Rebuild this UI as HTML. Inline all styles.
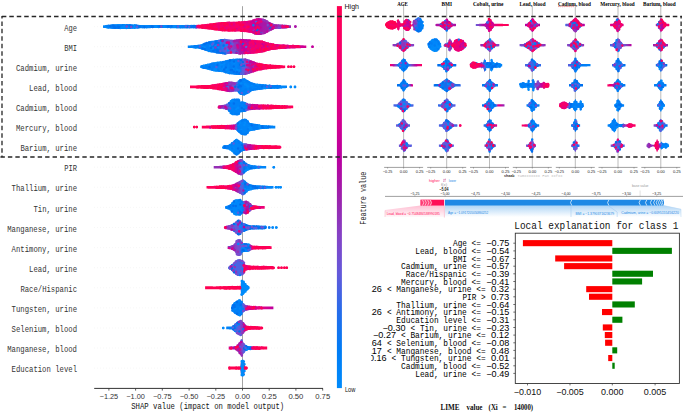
<!DOCTYPE html>
<html><head><meta charset="utf-8"><title>SHAP and LIME explanations</title>
<style>html,body{margin:0;padding:0;background:#fff;width:685px;height:415px;overflow:hidden}svg{display:block;font-family:"Liberation Mono",monospace}</style>
</head><body>
<svg width="685" height="415" viewBox="0 0 685 415"><defs><linearGradient id="g0" gradientUnits="userSpaceOnUse" x1="103" x2="291.4" y1="0" y2="0"><stop offset="0.000" stop-color="#0085f9"/><stop offset="0.489" stop-color="#0085f9"/><stop offset="0.500" stop-color="#b00fa5"/><stop offset="0.511" stop-color="#fb0063"/><stop offset="0.532" stop-color="#fb0063"/><stop offset="0.543" stop-color="#fa0065"/><stop offset="0.596" stop-color="#fa0065"/><stop offset="0.606" stop-color="#f80067"/><stop offset="0.660" stop-color="#f80067"/><stop offset="0.670" stop-color="#f70069"/><stop offset="0.723" stop-color="#f70069"/><stop offset="0.734" stop-color="#f6006c"/><stop offset="0.745" stop-color="#f6006c"/><stop offset="0.755" stop-color="#f10072"/><stop offset="0.766" stop-color="#eb007a"/><stop offset="0.777" stop-color="#e10084"/><stop offset="0.787" stop-color="#d9008c"/><stop offset="0.798" stop-color="#cf0093"/><stop offset="0.809" stop-color="#c5009a"/><stop offset="0.819" stop-color="#b900a0"/><stop offset="0.830" stop-color="#b00fa5"/><stop offset="0.840" stop-color="#ad13a6"/><stop offset="0.851" stop-color="#a71aa9"/><stop offset="0.862" stop-color="#a31daa"/><stop offset="0.872" stop-color="#a01fab"/><stop offset="0.883" stop-color="#9d22ac"/><stop offset="0.894" stop-color="#9a25ae"/><stop offset="0.904" stop-color="#9829b1"/><stop offset="0.957" stop-color="#9829b1"/><stop offset="0.968" stop-color="#9a25ae"/><stop offset="1.000" stop-color="#9a25ae"/></linearGradient><linearGradient id="g1" gradientUnits="userSpaceOnUse" x1="187.8" x2="306.4" y1="0" y2="0"><stop offset="0.000" stop-color="#0084f8"/><stop offset="0.017" stop-color="#0084f8"/><stop offset="0.034" stop-color="#0082f8"/><stop offset="0.051" stop-color="#0082f8"/><stop offset="0.068" stop-color="#0081f7"/><stop offset="0.085" stop-color="#0081f7"/><stop offset="0.102" stop-color="#007ff7"/><stop offset="0.119" stop-color="#007ff7"/><stop offset="0.136" stop-color="#007ef6"/><stop offset="0.169" stop-color="#007ef6"/><stop offset="0.186" stop-color="#007cf5"/><stop offset="0.203" stop-color="#0079f3"/><stop offset="0.220" stop-color="#0076f1"/><stop offset="0.237" stop-color="#0073ef"/><stop offset="0.254" stop-color="#006fed"/><stop offset="0.271" stop-color="#266cea"/><stop offset="0.288" stop-color="#3968e7"/><stop offset="0.305" stop-color="#4664e4"/><stop offset="0.322" stop-color="#575fdf"/><stop offset="0.339" stop-color="#6857d8"/><stop offset="0.356" stop-color="#764ed0"/><stop offset="0.373" stop-color="#8244c7"/><stop offset="0.390" stop-color="#8d39be"/><stop offset="0.407" stop-color="#9430b6"/><stop offset="0.424" stop-color="#9d22ac"/><stop offset="0.441" stop-color="#aa17a7"/><stop offset="0.458" stop-color="#b604a2"/><stop offset="0.475" stop-color="#c2009b"/><stop offset="0.492" stop-color="#cd0095"/><stop offset="0.508" stop-color="#d9008c"/><stop offset="0.525" stop-color="#e10084"/><stop offset="0.542" stop-color="#e9007c"/><stop offset="0.559" stop-color="#eb007a"/><stop offset="0.576" stop-color="#eb007a"/><stop offset="0.593" stop-color="#ec0078"/><stop offset="0.610" stop-color="#ec0078"/><stop offset="0.627" stop-color="#ee0076"/><stop offset="0.644" stop-color="#f00074"/><stop offset="0.661" stop-color="#f00074"/><stop offset="0.678" stop-color="#f10072"/><stop offset="0.695" stop-color="#f10072"/><stop offset="0.712" stop-color="#f00074"/><stop offset="0.729" stop-color="#f00074"/><stop offset="0.746" stop-color="#ee0076"/><stop offset="0.763" stop-color="#ec0078"/><stop offset="0.780" stop-color="#ec0078"/><stop offset="0.797" stop-color="#eb007a"/><stop offset="0.814" stop-color="#e9007c"/><stop offset="0.831" stop-color="#e7007e"/><stop offset="0.847" stop-color="#e30082"/><stop offset="0.864" stop-color="#df0086"/><stop offset="0.881" stop-color="#db008a"/><stop offset="0.898" stop-color="#d6008e"/><stop offset="0.915" stop-color="#d10091"/><stop offset="0.932" stop-color="#cd0095"/><stop offset="0.949" stop-color="#ca0097"/><stop offset="0.966" stop-color="#cd0095"/><stop offset="0.983" stop-color="#d10091"/><stop offset="1.000" stop-color="#d40090"/></linearGradient><linearGradient id="g2" gradientUnits="userSpaceOnUse" x1="200.2" x2="285.6" y1="0" y2="0"><stop offset="0.000" stop-color="#0085f9"/><stop offset="0.095" stop-color="#0085f9"/><stop offset="0.119" stop-color="#0084f8"/><stop offset="0.333" stop-color="#0084f8"/><stop offset="0.357" stop-color="#0082f8"/><stop offset="0.429" stop-color="#0082f8"/><stop offset="0.452" stop-color="#007cf5"/><stop offset="0.476" stop-color="#266cea"/><stop offset="0.500" stop-color="#605bdc"/><stop offset="0.524" stop-color="#764ed0"/><stop offset="0.548" stop-color="#883fc2"/><stop offset="0.571" stop-color="#962db3"/><stop offset="0.595" stop-color="#ad13a6"/><stop offset="0.619" stop-color="#ca0097"/><stop offset="0.643" stop-color="#df0086"/><stop offset="0.667" stop-color="#e9007c"/><stop offset="0.690" stop-color="#f00074"/><stop offset="0.714" stop-color="#f6006c"/><stop offset="0.738" stop-color="#f80067"/><stop offset="0.762" stop-color="#fa0065"/><stop offset="0.786" stop-color="#fb0063"/><stop offset="0.810" stop-color="#fb0063"/><stop offset="0.833" stop-color="#fc0061"/><stop offset="0.857" stop-color="#fc0061"/><stop offset="0.881" stop-color="#fd005f"/><stop offset="0.905" stop-color="#fe005c"/><stop offset="0.929" stop-color="#fe005c"/><stop offset="0.952" stop-color="#ff005a"/><stop offset="0.976" stop-color="#ff005a"/><stop offset="1.000" stop-color="#ff0058"/></linearGradient><linearGradient id="g3" gradientUnits="userSpaceOnUse" x1="190" x2="287.4" y1="0" y2="0"><stop offset="0.000" stop-color="#ff0058"/><stop offset="0.021" stop-color="#ff0058"/><stop offset="0.042" stop-color="#ff005a"/><stop offset="0.062" stop-color="#ff005a"/><stop offset="0.083" stop-color="#fe005c"/><stop offset="0.125" stop-color="#fe005c"/><stop offset="0.146" stop-color="#fd005f"/><stop offset="0.188" stop-color="#fd005f"/><stop offset="0.208" stop-color="#fc0061"/><stop offset="0.229" stop-color="#fc0061"/><stop offset="0.250" stop-color="#fb0063"/><stop offset="0.271" stop-color="#fb0063"/><stop offset="0.292" stop-color="#f70069"/><stop offset="0.312" stop-color="#f10072"/><stop offset="0.333" stop-color="#ec0078"/><stop offset="0.354" stop-color="#e30082"/><stop offset="0.375" stop-color="#bc009f"/><stop offset="0.396" stop-color="#9a25ae"/><stop offset="0.417" stop-color="#9430b6"/><stop offset="0.438" stop-color="#8d39be"/><stop offset="0.458" stop-color="#8542c5"/><stop offset="0.479" stop-color="#4066e6"/><stop offset="0.500" stop-color="#007ef6"/><stop offset="0.521" stop-color="#007ff7"/><stop offset="0.542" stop-color="#0082f8"/><stop offset="0.562" stop-color="#0084f8"/><stop offset="0.750" stop-color="#0084f8"/><stop offset="0.771" stop-color="#0085f9"/><stop offset="1.000" stop-color="#0085f9"/></linearGradient><linearGradient id="g4" gradientUnits="userSpaceOnUse" x1="218.2" x2="293.3" y1="0" y2="0"><stop offset="0.000" stop-color="#8f36bb"/><stop offset="0.027" stop-color="#8a3cc0"/><stop offset="0.054" stop-color="#8542c5"/><stop offset="0.081" stop-color="#7f47c9"/><stop offset="0.108" stop-color="#764ed0"/><stop offset="0.135" stop-color="#186deb"/><stop offset="0.162" stop-color="#0082f8"/><stop offset="0.351" stop-color="#0082f8"/><stop offset="0.378" stop-color="#186deb"/><stop offset="0.405" stop-color="#a01fab"/><stop offset="0.432" stop-color="#ad13a6"/><stop offset="0.459" stop-color="#b900a0"/><stop offset="0.486" stop-color="#c70098"/><stop offset="0.514" stop-color="#d10091"/><stop offset="0.541" stop-color="#db008a"/><stop offset="0.568" stop-color="#e30082"/><stop offset="0.595" stop-color="#eb007a"/><stop offset="0.622" stop-color="#f10072"/><stop offset="0.649" stop-color="#f4006e"/><stop offset="0.676" stop-color="#f70069"/><stop offset="0.703" stop-color="#fa0065"/><stop offset="0.730" stop-color="#fb0063"/><stop offset="0.757" stop-color="#fd005f"/><stop offset="0.784" stop-color="#fe005c"/><stop offset="0.811" stop-color="#fe005c"/><stop offset="0.838" stop-color="#ff005a"/><stop offset="0.919" stop-color="#ff005a"/><stop offset="0.946" stop-color="#ff0058"/><stop offset="1.000" stop-color="#ff0058"/></linearGradient><linearGradient id="g5" gradientUnits="userSpaceOnUse" x1="201.8" x2="275.6" y1="0" y2="0"><stop offset="0.000" stop-color="#ff0058"/><stop offset="0.028" stop-color="#ff0058"/><stop offset="0.056" stop-color="#ff005a"/><stop offset="0.083" stop-color="#ff005a"/><stop offset="0.111" stop-color="#fe005c"/><stop offset="0.139" stop-color="#fe005c"/><stop offset="0.167" stop-color="#fd005f"/><stop offset="0.194" stop-color="#fd005f"/><stop offset="0.222" stop-color="#fc0061"/><stop offset="0.250" stop-color="#fc0061"/><stop offset="0.278" stop-color="#fb0063"/><stop offset="0.306" stop-color="#f6006c"/><stop offset="0.333" stop-color="#f00074"/><stop offset="0.361" stop-color="#e9007c"/><stop offset="0.389" stop-color="#e30082"/><stop offset="0.417" stop-color="#db008a"/><stop offset="0.444" stop-color="#b30aa3"/><stop offset="0.472" stop-color="#0071ee"/><stop offset="0.500" stop-color="#0081f7"/><stop offset="0.528" stop-color="#0084f8"/><stop offset="0.722" stop-color="#0084f8"/><stop offset="0.750" stop-color="#0085f9"/><stop offset="1.000" stop-color="#0085f9"/></linearGradient><linearGradient id="g6" gradientUnits="userSpaceOnUse" x1="222.9" x2="280.7" y1="0" y2="0"><stop offset="0.000" stop-color="#0085f9"/><stop offset="0.071" stop-color="#0085f9"/><stop offset="0.107" stop-color="#0084f8"/><stop offset="0.250" stop-color="#0084f8"/><stop offset="0.286" stop-color="#0082f8"/><stop offset="0.321" stop-color="#0082f8"/><stop offset="0.357" stop-color="#0077f2"/><stop offset="0.393" stop-color="#8244c7"/><stop offset="0.429" stop-color="#9d22ac"/><stop offset="0.464" stop-color="#b00fa5"/><stop offset="0.500" stop-color="#c5009a"/><stop offset="0.536" stop-color="#df0086"/><stop offset="0.571" stop-color="#f10072"/><stop offset="0.607" stop-color="#f6006c"/><stop offset="0.643" stop-color="#fb0063"/><stop offset="0.679" stop-color="#fe005c"/><stop offset="0.750" stop-color="#fe005c"/><stop offset="0.786" stop-color="#ff005a"/><stop offset="0.893" stop-color="#ff005a"/><stop offset="0.929" stop-color="#ff0058"/><stop offset="1.000" stop-color="#ff0058"/></linearGradient><linearGradient id="g7" gradientUnits="userSpaceOnUse" x1="213.7" x2="266.3" y1="0" y2="0"><stop offset="0.000" stop-color="#9233b9"/><stop offset="0.038" stop-color="#9430b6"/><stop offset="0.077" stop-color="#962db3"/><stop offset="0.115" stop-color="#9829b1"/><stop offset="0.154" stop-color="#9a25ae"/><stop offset="0.192" stop-color="#c70098"/><stop offset="0.231" stop-color="#eb007a"/><stop offset="0.269" stop-color="#f80067"/><stop offset="0.308" stop-color="#f6006c"/><stop offset="0.346" stop-color="#f4006e"/><stop offset="0.385" stop-color="#f30070"/><stop offset="0.423" stop-color="#e30082"/><stop offset="0.462" stop-color="#bc009f"/><stop offset="0.500" stop-color="#8542c5"/><stop offset="0.538" stop-color="#4c63e3"/><stop offset="0.577" stop-color="#0073ef"/><stop offset="0.615" stop-color="#007ff7"/><stop offset="0.654" stop-color="#007ff7"/><stop offset="0.692" stop-color="#0081f7"/><stop offset="0.731" stop-color="#0081f7"/><stop offset="0.769" stop-color="#0082f8"/><stop offset="0.846" stop-color="#0082f8"/><stop offset="0.885" stop-color="#0084f8"/><stop offset="0.923" stop-color="#0084f8"/><stop offset="0.962" stop-color="#0085f9"/><stop offset="1.000" stop-color="#0085f9"/></linearGradient><linearGradient id="g8" gradientUnits="userSpaceOnUse" x1="206.5" x2="273.5" y1="0" y2="0"><stop offset="0.000" stop-color="#ff0058"/><stop offset="0.030" stop-color="#ff005a"/><stop offset="0.091" stop-color="#ff005a"/><stop offset="0.121" stop-color="#fe005c"/><stop offset="0.152" stop-color="#fe005c"/><stop offset="0.182" stop-color="#fd005f"/><stop offset="0.212" stop-color="#fd005f"/><stop offset="0.242" stop-color="#fc0061"/><stop offset="0.273" stop-color="#fc0061"/><stop offset="0.303" stop-color="#fb0063"/><stop offset="0.333" stop-color="#f70069"/><stop offset="0.364" stop-color="#ee0076"/><stop offset="0.394" stop-color="#e10084"/><stop offset="0.424" stop-color="#d10091"/><stop offset="0.455" stop-color="#b900a0"/><stop offset="0.485" stop-color="#962db3"/><stop offset="0.515" stop-color="#764ed0"/><stop offset="0.545" stop-color="#4664e4"/><stop offset="0.576" stop-color="#0077f2"/><stop offset="0.606" stop-color="#007ff7"/><stop offset="0.636" stop-color="#0081f7"/><stop offset="0.727" stop-color="#0081f7"/><stop offset="0.758" stop-color="#0082f8"/><stop offset="0.818" stop-color="#0082f8"/><stop offset="0.848" stop-color="#0084f8"/><stop offset="0.909" stop-color="#0084f8"/><stop offset="0.939" stop-color="#0085f9"/><stop offset="1.000" stop-color="#0085f9"/></linearGradient><linearGradient id="g9" gradientUnits="userSpaceOnUse" x1="225.2" x2="265" y1="0" y2="0"><stop offset="0.000" stop-color="#0086fa"/><stop offset="0.421" stop-color="#0086fa"/><stop offset="0.474" stop-color="#8d39be"/><stop offset="0.526" stop-color="#ad13a6"/><stop offset="0.579" stop-color="#ad13a6"/><stop offset="0.632" stop-color="#a31daa"/><stop offset="0.684" stop-color="#d6008e"/><stop offset="0.737" stop-color="#e30082"/><stop offset="0.789" stop-color="#e50080"/><stop offset="0.842" stop-color="#e9007c"/><stop offset="0.895" stop-color="#ec0078"/><stop offset="0.947" stop-color="#ee0076"/><stop offset="1.000" stop-color="#f10072"/></linearGradient><linearGradient id="g10" gradientUnits="userSpaceOnUse" x1="224.6" x2="266.1" y1="0" y2="0"><stop offset="0.000" stop-color="#df0086"/><stop offset="0.050" stop-color="#b00fa5"/><stop offset="0.100" stop-color="#8d39be"/><stop offset="0.150" stop-color="#7f47c9"/><stop offset="0.200" stop-color="#6c54d6"/><stop offset="0.250" stop-color="#605bdc"/><stop offset="0.300" stop-color="#5261e1"/><stop offset="0.350" stop-color="#4664e4"/><stop offset="0.400" stop-color="#3968e7"/><stop offset="0.450" stop-color="#186deb"/><stop offset="0.500" stop-color="#0071ee"/><stop offset="0.550" stop-color="#0074f0"/><stop offset="0.600" stop-color="#0079f3"/><stop offset="1.000" stop-color="#0079f3"/></linearGradient><linearGradient id="g11" gradientUnits="userSpaceOnUse" x1="227.6" x2="271.6" y1="0" y2="0"><stop offset="0.000" stop-color="#9d22ac"/><stop offset="0.045" stop-color="#9829b1"/><stop offset="0.091" stop-color="#9233b9"/><stop offset="0.136" stop-color="#8d39be"/><stop offset="0.182" stop-color="#8542c5"/><stop offset="0.227" stop-color="#794cce"/><stop offset="0.273" stop-color="#6c54d6"/><stop offset="0.318" stop-color="#266cea"/><stop offset="0.364" stop-color="#0082f8"/><stop offset="0.500" stop-color="#0082f8"/><stop offset="0.545" stop-color="#f80067"/><stop offset="0.591" stop-color="#fa0065"/><stop offset="0.636" stop-color="#fb0063"/><stop offset="0.682" stop-color="#fb0063"/><stop offset="0.727" stop-color="#fc0061"/><stop offset="0.773" stop-color="#fd005f"/><stop offset="0.818" stop-color="#fd005f"/><stop offset="0.864" stop-color="#fe005c"/><stop offset="0.909" stop-color="#ff005a"/><stop offset="0.955" stop-color="#ff0058"/><stop offset="1.000" stop-color="#ff0058"/></linearGradient><linearGradient id="g12" gradientUnits="userSpaceOnUse" x1="229.1" x2="274" y1="0" y2="0"><stop offset="0.000" stop-color="#4c63e3"/><stop offset="0.273" stop-color="#4c63e3"/><stop offset="0.318" stop-color="#794cce"/><stop offset="0.364" stop-color="#f80067"/><stop offset="0.409" stop-color="#fa0065"/><stop offset="0.455" stop-color="#fa0065"/><stop offset="0.500" stop-color="#fb0063"/><stop offset="0.545" stop-color="#fb0063"/><stop offset="0.591" stop-color="#fc0061"/><stop offset="0.636" stop-color="#fc0061"/><stop offset="0.682" stop-color="#fd005f"/><stop offset="0.727" stop-color="#fd005f"/><stop offset="0.773" stop-color="#fe005c"/><stop offset="0.818" stop-color="#fe005c"/><stop offset="0.864" stop-color="#ff005a"/><stop offset="0.909" stop-color="#ff005a"/><stop offset="0.955" stop-color="#ff0058"/><stop offset="1.000" stop-color="#ff0058"/></linearGradient><linearGradient id="g13" gradientUnits="userSpaceOnUse" x1="205.1" x2="249.6" y1="0" y2="0"><stop offset="0.000" stop-color="#ff0051"/><stop offset="0.773" stop-color="#ff0051"/><stop offset="0.818" stop-color="#008bfb"/><stop offset="1.000" stop-color="#008bfb"/></linearGradient><linearGradient id="g14" gradientUnits="userSpaceOnUse" x1="231.4" x2="273.8" y1="0" y2="0"><stop offset="0.000" stop-color="#007ff7"/><stop offset="0.048" stop-color="#007ff7"/><stop offset="0.095" stop-color="#007ef6"/><stop offset="0.190" stop-color="#007ef6"/><stop offset="0.238" stop-color="#007cf5"/><stop offset="0.286" stop-color="#4c63e3"/><stop offset="0.333" stop-color="#8d39be"/><stop offset="0.381" stop-color="#b30aa3"/><stop offset="0.429" stop-color="#d9008c"/><stop offset="0.476" stop-color="#df0086"/><stop offset="0.714" stop-color="#df0086"/><stop offset="0.762" stop-color="#db008a"/><stop offset="0.810" stop-color="#d6008e"/><stop offset="0.857" stop-color="#cf0093"/><stop offset="0.905" stop-color="#ca0097"/><stop offset="0.952" stop-color="#c2009b"/><stop offset="1.000" stop-color="#bc009f"/></linearGradient><linearGradient id="g15" gradientUnits="userSpaceOnUse" x1="226.2" x2="262.5" y1="0" y2="0"><stop offset="0.000" stop-color="#0085f9"/><stop offset="0.056" stop-color="#0082f8"/><stop offset="0.111" stop-color="#007ff7"/><stop offset="0.167" stop-color="#007cf5"/><stop offset="0.222" stop-color="#0077f2"/><stop offset="0.278" stop-color="#3968e7"/><stop offset="0.333" stop-color="#6857d8"/><stop offset="0.389" stop-color="#7d49cc"/><stop offset="0.444" stop-color="#8d39be"/><stop offset="0.500" stop-color="#c2009b"/><stop offset="0.556" stop-color="#f10072"/><stop offset="0.611" stop-color="#f4006e"/><stop offset="0.667" stop-color="#f6006c"/><stop offset="0.722" stop-color="#f80067"/><stop offset="0.778" stop-color="#fa0065"/><stop offset="0.833" stop-color="#fb0063"/><stop offset="0.889" stop-color="#fd005f"/><stop offset="0.944" stop-color="#fe005c"/><stop offset="1.000" stop-color="#ff0058"/></linearGradient><linearGradient id="g16" gradientUnits="userSpaceOnUse" x1="228.7" x2="267.2" y1="0" y2="0"><stop offset="0.000" stop-color="#c70098"/><stop offset="0.053" stop-color="#c5009a"/><stop offset="0.105" stop-color="#bf009d"/><stop offset="0.158" stop-color="#bc009f"/><stop offset="0.211" stop-color="#b00fa5"/><stop offset="0.263" stop-color="#9a25ae"/><stop offset="0.316" stop-color="#8a3cc0"/><stop offset="0.368" stop-color="#7d49cc"/><stop offset="0.421" stop-color="#3968e7"/><stop offset="0.474" stop-color="#0082f8"/><stop offset="0.579" stop-color="#0082f8"/><stop offset="0.632" stop-color="#fe005c"/><stop offset="0.684" stop-color="#fe005c"/><stop offset="0.737" stop-color="#ff005a"/><stop offset="0.842" stop-color="#ff005a"/><stop offset="0.895" stop-color="#ff0058"/><stop offset="1.000" stop-color="#ff0058"/></linearGradient><linearGradient id="g17" gradientUnits="userSpaceOnUse" x1="228.7" x2="247.5" y1="0" y2="0"><stop offset="0.000" stop-color="#ff0051"/><stop offset="0.556" stop-color="#ff0051"/><stop offset="0.667" stop-color="#008bfb"/><stop offset="0.778" stop-color="#008bfb"/><stop offset="0.889" stop-color="#ff0051"/><stop offset="1.000" stop-color="#ff0051"/></linearGradient><linearGradient id="g18" gradientUnits="userSpaceOnUse" x1="385.9" x2="423.1" y1="0" y2="0"><stop offset="0.000" stop-color="#ff0058"/><stop offset="0.056" stop-color="#ff005a"/><stop offset="0.111" stop-color="#fd005f"/><stop offset="0.167" stop-color="#fc0061"/><stop offset="0.222" stop-color="#fb0063"/><stop offset="0.278" stop-color="#fa0065"/><stop offset="0.333" stop-color="#f30070"/><stop offset="0.389" stop-color="#e9007c"/><stop offset="0.444" stop-color="#e10084"/><stop offset="0.500" stop-color="#dd0088"/><stop offset="0.556" stop-color="#db008a"/><stop offset="0.611" stop-color="#d6008e"/><stop offset="0.667" stop-color="#cd0095"/><stop offset="0.722" stop-color="#b00fa5"/><stop offset="0.778" stop-color="#794cce"/><stop offset="0.833" stop-color="#306ae9"/><stop offset="0.889" stop-color="#0076f1"/><stop offset="0.944" stop-color="#007ff7"/><stop offset="1.000" stop-color="#0084f8"/></linearGradient><linearGradient id="g19" gradientUnits="userSpaceOnUse" x1="392.6" x2="414.3" y1="0" y2="0"><stop offset="0.000" stop-color="#8f36bb"/><stop offset="0.100" stop-color="#8f36bb"/><stop offset="0.200" stop-color="#8d39be"/><stop offset="0.300" stop-color="#8d39be"/><stop offset="0.400" stop-color="#8a3cc0"/><stop offset="0.500" stop-color="#8a3cc0"/><stop offset="0.600" stop-color="#883fc2"/><stop offset="0.800" stop-color="#883fc2"/><stop offset="0.900" stop-color="#8542c5"/><stop offset="1.000" stop-color="#8542c5"/></linearGradient><linearGradient id="g20" gradientUnits="userSpaceOnUse" x1="390" x2="422.4" y1="0" y2="0"><stop offset="0.000" stop-color="#f80067"/><stop offset="0.062" stop-color="#d9008c"/><stop offset="0.125" stop-color="#a71aa9"/><stop offset="0.188" stop-color="#764ed0"/><stop offset="0.250" stop-color="#0071ee"/><stop offset="0.312" stop-color="#007ef6"/><stop offset="0.500" stop-color="#007ef6"/><stop offset="0.562" stop-color="#007bf4"/><stop offset="0.625" stop-color="#605bdc"/><stop offset="0.688" stop-color="#8a3cc0"/><stop offset="0.750" stop-color="#a71aa9"/><stop offset="0.812" stop-color="#c70098"/><stop offset="0.875" stop-color="#e10084"/><stop offset="0.938" stop-color="#f30070"/><stop offset="1.000" stop-color="#fe005c"/></linearGradient><linearGradient id="g21" gradientUnits="userSpaceOnUse" x1="397" x2="413.4" y1="0" y2="0"><stop offset="0.000" stop-color="#006fed"/><stop offset="0.125" stop-color="#0073ef"/><stop offset="0.250" stop-color="#0076f1"/><stop offset="0.375" stop-color="#0077f2"/><stop offset="0.500" stop-color="#007bf4"/><stop offset="0.625" stop-color="#007cf5"/><stop offset="0.750" stop-color="#5b5ddd"/><stop offset="0.875" stop-color="#b900a0"/><stop offset="1.000" stop-color="#f10072"/></linearGradient><linearGradient id="g22" gradientUnits="userSpaceOnUse" x1="393.5" x2="413.8" y1="0" y2="0"><stop offset="0.000" stop-color="#4664e4"/><stop offset="1.000" stop-color="#4664e4"/></linearGradient><linearGradient id="g23" gradientUnits="userSpaceOnUse" x1="396" x2="410.4" y1="0" y2="0"><stop offset="0.000" stop-color="#6459da"/><stop offset="0.143" stop-color="#605bdc"/><stop offset="0.286" stop-color="#5b5ddd"/><stop offset="0.429" stop-color="#575fdf"/><stop offset="0.571" stop-color="#5261e1"/><stop offset="0.714" stop-color="#4c63e3"/><stop offset="0.857" stop-color="#4664e4"/><stop offset="1.000" stop-color="#4664e4"/></linearGradient><linearGradient id="g24" gradientUnits="userSpaceOnUse" x1="398.9" x2="412" y1="0" y2="0"><stop offset="0.000" stop-color="#6f52d4"/><stop offset="0.167" stop-color="#6c54d6"/><stop offset="0.333" stop-color="#6857d8"/><stop offset="0.500" stop-color="#6459da"/><stop offset="0.667" stop-color="#605bdc"/><stop offset="0.833" stop-color="#5b5ddd"/><stop offset="1.000" stop-color="#575fdf"/></linearGradient><linearGradient id="g25" gradientUnits="userSpaceOnUse" x1="435.5" x2="456.3" y1="0" y2="0"><stop offset="0.000" stop-color="#ad13a6"/><stop offset="0.100" stop-color="#b00fa5"/><stop offset="0.200" stop-color="#b30aa3"/><stop offset="0.300" stop-color="#b30aa3"/><stop offset="0.400" stop-color="#b604a2"/><stop offset="0.500" stop-color="#b900a0"/><stop offset="0.600" stop-color="#b604a2"/><stop offset="0.700" stop-color="#b30aa3"/><stop offset="0.800" stop-color="#b00fa5"/><stop offset="0.900" stop-color="#ad13a6"/><stop offset="1.000" stop-color="#aa17a7"/></linearGradient><linearGradient id="g26" gradientUnits="userSpaceOnUse" x1="427.9" x2="465.9" y1="0" y2="0"><stop offset="0.000" stop-color="#0086fa"/><stop offset="0.333" stop-color="#0086fa"/><stop offset="0.389" stop-color="#306ae9"/><stop offset="0.444" stop-color="#794cce"/><stop offset="0.500" stop-color="#8244c7"/><stop offset="0.556" stop-color="#8a3cc0"/><stop offset="0.611" stop-color="#962db3"/><stop offset="0.667" stop-color="#e9007c"/><stop offset="0.889" stop-color="#e9007c"/><stop offset="0.944" stop-color="#d10091"/><stop offset="1.000" stop-color="#ad13a6"/></linearGradient><linearGradient id="g27" gradientUnits="userSpaceOnUse" x1="437.3" x2="456.3" y1="0" y2="0"><stop offset="0.000" stop-color="#006fed"/><stop offset="1.000" stop-color="#006fed"/></linearGradient><linearGradient id="g28" gradientUnits="userSpaceOnUse" x1="433.7" x2="460.8" y1="0" y2="0"><stop offset="0.000" stop-color="#006fed"/><stop offset="0.154" stop-color="#006fed"/><stop offset="0.231" stop-color="#186deb"/><stop offset="0.462" stop-color="#186deb"/><stop offset="0.538" stop-color="#266cea"/><stop offset="0.846" stop-color="#266cea"/><stop offset="0.923" stop-color="#306ae9"/><stop offset="1.000" stop-color="#306ae9"/></linearGradient><linearGradient id="g29" gradientUnits="userSpaceOnUse" x1="438" x2="455.8" y1="0" y2="0"><stop offset="0.000" stop-color="#306ae9"/><stop offset="0.125" stop-color="#3968e7"/><stop offset="0.250" stop-color="#3968e7"/><stop offset="0.375" stop-color="#4066e6"/><stop offset="0.500" stop-color="#4664e4"/><stop offset="0.625" stop-color="#4664e4"/><stop offset="0.750" stop-color="#4c63e3"/><stop offset="0.875" stop-color="#5261e1"/><stop offset="1.000" stop-color="#575fdf"/></linearGradient><linearGradient id="g30" gradientUnits="userSpaceOnUse" x1="438.9" x2="457.5" y1="0" y2="0"><stop offset="0.000" stop-color="#4664e4"/><stop offset="1.000" stop-color="#4664e4"/></linearGradient><linearGradient id="g31" gradientUnits="userSpaceOnUse" x1="438.9" x2="454" y1="0" y2="0"><stop offset="0.000" stop-color="#575fdf"/><stop offset="1.000" stop-color="#575fdf"/></linearGradient><linearGradient id="g32" gradientUnits="userSpaceOnUse" x1="475.8" x2="509.2" y1="0" y2="0"><stop offset="0.000" stop-color="#6459da"/><stop offset="0.062" stop-color="#7d49cc"/><stop offset="0.125" stop-color="#8f36bb"/><stop offset="0.188" stop-color="#a31daa"/><stop offset="0.250" stop-color="#bc009f"/><stop offset="0.312" stop-color="#c2009b"/><stop offset="0.375" stop-color="#ca0097"/><stop offset="0.438" stop-color="#d10091"/><stop offset="0.500" stop-color="#d9008c"/><stop offset="0.562" stop-color="#df0086"/><stop offset="0.625" stop-color="#ec0078"/><stop offset="0.688" stop-color="#f80067"/><stop offset="0.750" stop-color="#fe005c"/><stop offset="1.000" stop-color="#fe005c"/></linearGradient><linearGradient id="g33" gradientUnits="userSpaceOnUse" x1="480.3" x2="499.3" y1="0" y2="0"><stop offset="0.000" stop-color="#9a25ae"/><stop offset="0.111" stop-color="#9829b1"/><stop offset="0.222" stop-color="#962db3"/><stop offset="0.333" stop-color="#9430b6"/><stop offset="0.444" stop-color="#9233b9"/><stop offset="0.556" stop-color="#8f36bb"/><stop offset="0.667" stop-color="#8d39be"/><stop offset="0.778" stop-color="#8a3cc0"/><stop offset="0.889" stop-color="#883fc2"/><stop offset="1.000" stop-color="#8542c5"/></linearGradient><linearGradient id="g34" gradientUnits="userSpaceOnUse" x1="470.2" x2="502.2" y1="0" y2="0"><stop offset="0.000" stop-color="#e10084"/><stop offset="0.067" stop-color="#f6006c"/><stop offset="0.133" stop-color="#fe005c"/><stop offset="0.200" stop-color="#f30070"/><stop offset="0.267" stop-color="#cd0095"/><stop offset="0.333" stop-color="#8a3cc0"/><stop offset="0.400" stop-color="#7d49cc"/><stop offset="0.467" stop-color="#575fdf"/><stop offset="0.533" stop-color="#0076f1"/><stop offset="0.600" stop-color="#0084f8"/><stop offset="1.000" stop-color="#0084f8"/></linearGradient><linearGradient id="g35" gradientUnits="userSpaceOnUse" x1="482" x2="498.4" y1="0" y2="0"><stop offset="0.000" stop-color="#0079f3"/><stop offset="1.000" stop-color="#0079f3"/></linearGradient><linearGradient id="g36" gradientUnits="userSpaceOnUse" x1="482" x2="504.7" y1="0" y2="0"><stop offset="0.000" stop-color="#006fed"/><stop offset="0.091" stop-color="#0071ee"/><stop offset="0.182" stop-color="#0073ef"/><stop offset="0.273" stop-color="#0074f0"/><stop offset="0.364" stop-color="#0076f1"/><stop offset="0.455" stop-color="#0077f2"/><stop offset="0.545" stop-color="#0077f2"/><stop offset="0.636" stop-color="#575fdf"/><stop offset="0.727" stop-color="#e30082"/><stop offset="0.818" stop-color="#ca0097"/><stop offset="0.909" stop-color="#aa17a7"/><stop offset="1.000" stop-color="#8d39be"/></linearGradient><linearGradient id="g37" gradientUnits="userSpaceOnUse" x1="483.6" x2="497.1" y1="0" y2="0"><stop offset="0.000" stop-color="#266cea"/><stop offset="0.167" stop-color="#186deb"/><stop offset="0.333" stop-color="#0071ee"/><stop offset="0.500" stop-color="#0073ef"/><stop offset="0.667" stop-color="#4066e6"/><stop offset="0.833" stop-color="#a31daa"/><stop offset="1.000" stop-color="#e9007c"/></linearGradient><linearGradient id="g38" gradientUnits="userSpaceOnUse" x1="484.4" x2="496.3" y1="0" y2="0"><stop offset="0.000" stop-color="#6459da"/><stop offset="0.200" stop-color="#605bdc"/><stop offset="0.400" stop-color="#5b5ddd"/><stop offset="0.600" stop-color="#5b5ddd"/><stop offset="0.800" stop-color="#575fdf"/><stop offset="1.000" stop-color="#575fdf"/></linearGradient><linearGradient id="g39" gradientUnits="userSpaceOnUse" x1="525" x2="540.4" y1="0" y2="0"><stop offset="0.000" stop-color="#b900a0"/><stop offset="1.000" stop-color="#b900a0"/></linearGradient><linearGradient id="g40" gradientUnits="userSpaceOnUse" x1="519.6" x2="545.8" y1="0" y2="0"><stop offset="0.000" stop-color="#764ed0"/><stop offset="0.077" stop-color="#794cce"/><stop offset="0.154" stop-color="#794cce"/><stop offset="0.231" stop-color="#7d49cc"/><stop offset="0.308" stop-color="#7f47c9"/><stop offset="0.385" stop-color="#8244c7"/><stop offset="0.462" stop-color="#8244c7"/><stop offset="0.538" stop-color="#8542c5"/><stop offset="0.615" stop-color="#883fc2"/><stop offset="0.692" stop-color="#8a3cc0"/><stop offset="0.769" stop-color="#8a3cc0"/><stop offset="0.846" stop-color="#8d39be"/><stop offset="0.923" stop-color="#8f36bb"/><stop offset="1.000" stop-color="#8f36bb"/></linearGradient><linearGradient id="g41" gradientUnits="userSpaceOnUse" x1="525" x2="541.3" y1="0" y2="0"><stop offset="0.000" stop-color="#4664e4"/><stop offset="0.125" stop-color="#4066e6"/><stop offset="0.375" stop-color="#4066e6"/><stop offset="0.500" stop-color="#3968e7"/><stop offset="0.625" stop-color="#3968e7"/><stop offset="0.750" stop-color="#306ae9"/><stop offset="1.000" stop-color="#306ae9"/></linearGradient><linearGradient id="g42" gradientUnits="userSpaceOnUse" x1="520" x2="549.6" y1="0" y2="0"><stop offset="0.000" stop-color="#0084f8"/><stop offset="0.429" stop-color="#0084f8"/><stop offset="0.500" stop-color="#306ae9"/><stop offset="0.571" stop-color="#7d49cc"/><stop offset="0.643" stop-color="#8a3cc0"/><stop offset="0.714" stop-color="#a71aa9"/><stop offset="0.786" stop-color="#dd0088"/><stop offset="0.857" stop-color="#f30070"/><stop offset="0.929" stop-color="#f80067"/><stop offset="1.000" stop-color="#fd005f"/></linearGradient><linearGradient id="g43" gradientUnits="userSpaceOnUse" x1="526.5" x2="539.5" y1="0" y2="0"><stop offset="0.000" stop-color="#007ef6"/><stop offset="1.000" stop-color="#007ef6"/></linearGradient><linearGradient id="g44" gradientUnits="userSpaceOnUse" x1="521.7" x2="539.5" y1="0" y2="0"><stop offset="0.000" stop-color="#fc0061"/><stop offset="0.125" stop-color="#f6006c"/><stop offset="0.250" stop-color="#ec0078"/><stop offset="0.375" stop-color="#962db3"/><stop offset="0.500" stop-color="#007ef6"/><stop offset="0.625" stop-color="#007cf5"/><stop offset="0.750" stop-color="#007cf5"/><stop offset="0.875" stop-color="#007bf4"/><stop offset="1.000" stop-color="#0079f3"/></linearGradient><linearGradient id="g45" gradientUnits="userSpaceOnUse" x1="526" x2="536.2" y1="0" y2="0"><stop offset="0.000" stop-color="#794cce"/><stop offset="0.200" stop-color="#764ed0"/><stop offset="0.400" stop-color="#7350d2"/><stop offset="0.600" stop-color="#7350d2"/><stop offset="0.800" stop-color="#6f52d4"/><stop offset="1.000" stop-color="#6f52d4"/></linearGradient><linearGradient id="g46" gradientUnits="userSpaceOnUse" x1="565.3" x2="585.2" y1="0" y2="0"><stop offset="0.000" stop-color="#3968e7"/><stop offset="0.111" stop-color="#764ed0"/><stop offset="0.222" stop-color="#9829b1"/><stop offset="0.333" stop-color="#a01fab"/><stop offset="0.444" stop-color="#a31daa"/><stop offset="0.556" stop-color="#aa17a7"/><stop offset="0.667" stop-color="#ad13a6"/><stop offset="0.778" stop-color="#b30aa3"/><stop offset="0.889" stop-color="#b604a2"/><stop offset="1.000" stop-color="#b900a0"/></linearGradient><linearGradient id="g47" gradientUnits="userSpaceOnUse" x1="567.1" x2="584.3" y1="0" y2="0"><stop offset="0.000" stop-color="#8542c5"/><stop offset="0.125" stop-color="#8542c5"/><stop offset="0.250" stop-color="#883fc2"/><stop offset="0.375" stop-color="#8a3cc0"/><stop offset="0.500" stop-color="#8a3cc0"/><stop offset="0.625" stop-color="#8d39be"/><stop offset="0.750" stop-color="#8d39be"/><stop offset="0.875" stop-color="#8f36bb"/><stop offset="1.000" stop-color="#9233b9"/></linearGradient><linearGradient id="g48" gradientUnits="userSpaceOnUse" x1="568" x2="590.6" y1="0" y2="0"><stop offset="0.000" stop-color="#575fdf"/><stop offset="0.091" stop-color="#4664e4"/><stop offset="0.182" stop-color="#3968e7"/><stop offset="0.273" stop-color="#266cea"/><stop offset="0.364" stop-color="#006fed"/><stop offset="0.455" stop-color="#0074f0"/><stop offset="0.545" stop-color="#0079f3"/><stop offset="0.636" stop-color="#007cf5"/><stop offset="0.727" stop-color="#007ff7"/><stop offset="0.818" stop-color="#0081f7"/><stop offset="0.909" stop-color="#0081f7"/><stop offset="1.000" stop-color="#0082f8"/></linearGradient><linearGradient id="g49" gradientUnits="userSpaceOnUse" x1="569" x2="583.4" y1="0" y2="0"><stop offset="0.000" stop-color="#006fed"/><stop offset="1.000" stop-color="#006fed"/></linearGradient><linearGradient id="g50" gradientUnits="userSpaceOnUse" x1="559.7" x2="583.3" y1="0" y2="0"><stop offset="0.000" stop-color="#bc009f"/><stop offset="0.091" stop-color="#e9007c"/><stop offset="0.182" stop-color="#e9007c"/><stop offset="0.273" stop-color="#e50080"/><stop offset="0.364" stop-color="#8542c5"/><stop offset="0.455" stop-color="#0077f2"/><stop offset="0.545" stop-color="#0084f8"/><stop offset="1.000" stop-color="#0084f8"/></linearGradient><linearGradient id="g51" gradientUnits="userSpaceOnUse" x1="571.1" x2="580.4" y1="0" y2="0"><stop offset="0.000" stop-color="#006fed"/><stop offset="1.000" stop-color="#006fed"/></linearGradient><linearGradient id="g52" gradientUnits="userSpaceOnUse" x1="571.1" x2="579.6" y1="0" y2="0"><stop offset="0.000" stop-color="#794cce"/><stop offset="0.250" stop-color="#764ed0"/><stop offset="0.500" stop-color="#7350d2"/><stop offset="0.750" stop-color="#7350d2"/><stop offset="1.000" stop-color="#6f52d4"/></linearGradient><linearGradient id="g53" gradientUnits="userSpaceOnUse" x1="610.1" x2="623.7" y1="0" y2="0"><stop offset="0.000" stop-color="#df0086"/><stop offset="0.167" stop-color="#dd0088"/><stop offset="0.333" stop-color="#dd0088"/><stop offset="0.500" stop-color="#db008a"/><stop offset="0.667" stop-color="#d9008c"/><stop offset="0.833" stop-color="#d6008e"/><stop offset="1.000" stop-color="#d40090"/></linearGradient><linearGradient id="g54" gradientUnits="userSpaceOnUse" x1="610" x2="631.8" y1="0" y2="0"><stop offset="0.000" stop-color="#4c63e3"/><stop offset="0.100" stop-color="#5261e1"/><stop offset="0.200" stop-color="#5b5ddd"/><stop offset="0.300" stop-color="#605bdc"/><stop offset="0.400" stop-color="#6857d8"/><stop offset="0.500" stop-color="#6c54d6"/><stop offset="0.600" stop-color="#6f52d4"/><stop offset="0.700" stop-color="#794cce"/><stop offset="0.800" stop-color="#9233b9"/><stop offset="0.900" stop-color="#aa17a7"/><stop offset="1.000" stop-color="#b900a0"/></linearGradient><linearGradient id="g55" gradientUnits="userSpaceOnUse" x1="612" x2="625.5" y1="0" y2="0"><stop offset="0.000" stop-color="#306ae9"/><stop offset="0.167" stop-color="#266cea"/><stop offset="0.333" stop-color="#266cea"/><stop offset="0.500" stop-color="#186deb"/><stop offset="0.667" stop-color="#186deb"/><stop offset="0.833" stop-color="#006fed"/><stop offset="1.000" stop-color="#006fed"/></linearGradient><linearGradient id="g56" gradientUnits="userSpaceOnUse" x1="607.4" x2="625.5" y1="0" y2="0"><stop offset="0.000" stop-color="#fd005f"/><stop offset="0.111" stop-color="#f6006c"/><stop offset="0.222" stop-color="#ec0078"/><stop offset="0.333" stop-color="#9430b6"/><stop offset="0.444" stop-color="#007ef6"/><stop offset="0.556" stop-color="#007cf5"/><stop offset="0.667" stop-color="#007cf5"/><stop offset="0.778" stop-color="#007bf4"/><stop offset="0.889" stop-color="#007bf4"/><stop offset="1.000" stop-color="#0079f3"/></linearGradient><linearGradient id="g57" gradientUnits="userSpaceOnUse" x1="614.1" x2="624.3" y1="0" y2="0"><stop offset="0.000" stop-color="#0081f7"/><stop offset="1.000" stop-color="#0081f7"/></linearGradient><linearGradient id="g58" gradientUnits="userSpaceOnUse" x1="607.6" x2="635.6" y1="0" y2="0"><stop offset="0.000" stop-color="#0084f8"/><stop offset="0.077" stop-color="#0082f8"/><stop offset="0.231" stop-color="#0082f8"/><stop offset="0.308" stop-color="#0081f7"/><stop offset="0.385" stop-color="#0081f7"/><stop offset="0.462" stop-color="#007ff7"/><stop offset="0.538" stop-color="#306ae9"/><stop offset="0.615" stop-color="#7f47c9"/><stop offset="0.692" stop-color="#d40090"/><stop offset="0.769" stop-color="#f4006e"/><stop offset="0.846" stop-color="#f70069"/><stop offset="0.923" stop-color="#fb0063"/><stop offset="1.000" stop-color="#fe005c"/></linearGradient><linearGradient id="g59" gradientUnits="userSpaceOnUse" x1="610.7" x2="625.1" y1="0" y2="0"><stop offset="0.000" stop-color="#883fc2"/><stop offset="0.143" stop-color="#7f47c9"/><stop offset="0.286" stop-color="#794cce"/><stop offset="0.429" stop-color="#6f52d4"/><stop offset="0.571" stop-color="#6857d8"/><stop offset="0.714" stop-color="#605bdc"/><stop offset="0.857" stop-color="#5261e1"/><stop offset="1.000" stop-color="#4664e4"/></linearGradient><linearGradient id="g60" gradientUnits="userSpaceOnUse" x1="655.8" x2="669.3" y1="0" y2="0"><stop offset="0.000" stop-color="#aa17a7"/><stop offset="0.333" stop-color="#aa17a7"/><stop offset="0.500" stop-color="#b900a0"/><stop offset="0.667" stop-color="#e10084"/><stop offset="0.833" stop-color="#f4006e"/><stop offset="1.000" stop-color="#f80067"/></linearGradient><linearGradient id="g61" gradientUnits="userSpaceOnUse" x1="653" x2="668.4" y1="0" y2="0"><stop offset="0.000" stop-color="#9d22ac"/><stop offset="1.000" stop-color="#9d22ac"/></linearGradient><linearGradient id="g62" gradientUnits="userSpaceOnUse" x1="655.8" x2="667.5" y1="0" y2="0"><stop offset="0.000" stop-color="#006fed"/><stop offset="1.000" stop-color="#006fed"/></linearGradient><linearGradient id="g63" gradientUnits="userSpaceOnUse" x1="654" x2="666.6" y1="0" y2="0"><stop offset="0.000" stop-color="#007ef6"/><stop offset="1.000" stop-color="#007ef6"/></linearGradient><linearGradient id="g64" gradientUnits="userSpaceOnUse" x1="657" x2="665.4" y1="0" y2="0"><stop offset="0.000" stop-color="#0081f7"/><stop offset="1.000" stop-color="#0081f7"/></linearGradient><linearGradient id="g65" gradientUnits="userSpaceOnUse" x1="653.6" x2="668" y1="0" y2="0"><stop offset="0.000" stop-color="#8a3cc0"/><stop offset="0.143" stop-color="#764ed0"/><stop offset="0.286" stop-color="#5b5ddd"/><stop offset="0.429" stop-color="#4c63e3"/><stop offset="0.571" stop-color="#3968e7"/><stop offset="0.714" stop-color="#266cea"/><stop offset="0.857" stop-color="#0071ee"/><stop offset="1.000" stop-color="#0074f0"/></linearGradient><linearGradient id="g66" gradientUnits="userSpaceOnUse" x1="646.5" x2="668.5" y1="0" y2="0"><stop offset="0.000" stop-color="#9233b9"/><stop offset="0.100" stop-color="#9430b6"/><stop offset="0.200" stop-color="#9829b1"/><stop offset="0.300" stop-color="#a01fab"/><stop offset="0.400" stop-color="#f80067"/><stop offset="0.500" stop-color="#f4006e"/><stop offset="0.600" stop-color="#6f52d4"/><stop offset="0.700" stop-color="#0082f8"/><stop offset="0.800" stop-color="#0084f8"/><stop offset="1.000" stop-color="#0084f8"/></linearGradient><linearGradient id="cbar" x1="0" y1="0" x2="0" y2="1"><stop offset="0.000" stop-color="#ff0051"/><stop offset="0.100" stop-color="#f80067"/><stop offset="0.200" stop-color="#e9007c"/><stop offset="0.300" stop-color="#d40090"/><stop offset="0.400" stop-color="#b900a0"/><stop offset="0.500" stop-color="#9d22ac"/><stop offset="0.600" stop-color="#8542c5"/><stop offset="0.700" stop-color="#6459da"/><stop offset="0.800" stop-color="#266cea"/><stop offset="0.900" stop-color="#007cf5"/><stop offset="1.000" stop-color="#008bfb"/></linearGradient><linearGradient id="fpr" x1="0" y1="0" x2="0" y2="1"><stop offset="0" stop-color="#ff0d57" stop-opacity="0.26"/><stop offset="1" stop-color="#ff0d57" stop-opacity="0.03"/></linearGradient><linearGradient id="fpb" x1="0" y1="0" x2="0" y2="1"><stop offset="0" stop-color="#1e88e5" stop-opacity="0.35"/><stop offset="1" stop-color="#1e88e5" stop-opacity="0.0"/></linearGradient></defs><rect width="685" height="415" fill="#fff"/><line x1="94" y1="26.6" x2="323" y2="26.6" stroke="#e4e4e4" stroke-width="0.5" stroke-dasharray="0.6,2.4"/><line x1="94" y1="46.7" x2="323" y2="46.7" stroke="#e4e4e4" stroke-width="0.5" stroke-dasharray="0.6,2.4"/><line x1="94" y1="66.8" x2="323" y2="66.8" stroke="#e4e4e4" stroke-width="0.5" stroke-dasharray="0.6,2.4"/><line x1="94" y1="86.9" x2="323" y2="86.9" stroke="#e4e4e4" stroke-width="0.5" stroke-dasharray="0.6,2.4"/><line x1="94" y1="107" x2="323" y2="107" stroke="#e4e4e4" stroke-width="0.5" stroke-dasharray="0.6,2.4"/><line x1="94" y1="127.1" x2="323" y2="127.1" stroke="#e4e4e4" stroke-width="0.5" stroke-dasharray="0.6,2.4"/><line x1="94" y1="147.1" x2="323" y2="147.1" stroke="#e4e4e4" stroke-width="0.5" stroke-dasharray="0.6,2.4"/><line x1="94" y1="167.2" x2="323" y2="167.2" stroke="#e4e4e4" stroke-width="0.5" stroke-dasharray="0.6,2.4"/><line x1="94" y1="187.3" x2="323" y2="187.3" stroke="#e4e4e4" stroke-width="0.5" stroke-dasharray="0.6,2.4"/><line x1="94" y1="207.4" x2="323" y2="207.4" stroke="#e4e4e4" stroke-width="0.5" stroke-dasharray="0.6,2.4"/><line x1="94" y1="227.5" x2="323" y2="227.5" stroke="#e4e4e4" stroke-width="0.5" stroke-dasharray="0.6,2.4"/><line x1="94" y1="247.6" x2="323" y2="247.6" stroke="#e4e4e4" stroke-width="0.5" stroke-dasharray="0.6,2.4"/><line x1="94" y1="267.7" x2="323" y2="267.7" stroke="#e4e4e4" stroke-width="0.5" stroke-dasharray="0.6,2.4"/><line x1="94" y1="287.8" x2="323" y2="287.8" stroke="#e4e4e4" stroke-width="0.5" stroke-dasharray="0.6,2.4"/><line x1="94" y1="307.9" x2="323" y2="307.9" stroke="#e4e4e4" stroke-width="0.5" stroke-dasharray="0.6,2.4"/><line x1="94" y1="328" x2="323" y2="328" stroke="#e4e4e4" stroke-width="0.5" stroke-dasharray="0.6,2.4"/><line x1="94" y1="348" x2="323" y2="348" stroke="#e4e4e4" stroke-width="0.5" stroke-dasharray="0.6,2.4"/><line x1="94" y1="368.1" x2="323" y2="368.1" stroke="#e4e4e4" stroke-width="0.5" stroke-dasharray="0.6,2.4"/><line x1="242.5" y1="6.2" x2="242.5" y2="388.4" stroke="#999" stroke-width="0.9"/><line x1="403.6" y1="5.5" x2="403.6" y2="167.4" stroke="#b4b4b4" stroke-width="0.9"/><line x1="446.7" y1="5.5" x2="446.7" y2="167.4" stroke="#b4b4b4" stroke-width="0.9"/><line x1="489.5" y1="5.5" x2="489.5" y2="167.4" stroke="#b4b4b4" stroke-width="0.9"/><line x1="532.3" y1="5.5" x2="532.3" y2="167.4" stroke="#b4b4b4" stroke-width="0.9"/><line x1="575.3" y1="5.5" x2="575.3" y2="167.4" stroke="#b4b4b4" stroke-width="0.9"/><line x1="618" y1="5.5" x2="618" y2="167.4" stroke="#b4b4b4" stroke-width="0.9"/><line x1="660.8" y1="5.5" x2="660.8" y2="167.4" stroke="#b4b4b4" stroke-width="0.9"/><path d="M103,25.4 103.5,25.3 104,25.3 104.5,25.2 105,25.2 105.5,25.1 106,25 106.5,25 107,24.9 107.5,24.9 108,24.8 108.5,24.8 109,24.7 109.5,24.7 110,24.7 110.5,24.6 111,24.6 111.5,24.5 112,24.5 112.5,24.5 113,24.5 113.5,24.5 114,24.4 114.5,24.4 115,24.4 115.5,24.4 116,24.4 116.5,24.4 117,24.3 117.5,24.3 118,24.3 118.5,24.3 119,24.3 119.5,24.2 120,24.2 120.5,24.2 121,24.2 121.5,24.2 122,24.2 122.5,24.2 123,24.1 123.5,24.1 124,24.1 124.5,24.1 125,24.1 125.5,24.2 126,24.2 126.5,24.2 127,24.2 127.5,24.2 128,24.2 128.5,24.3 129,24.3 129.5,24.3 130,24.3 130.5,24.3 131,24.4 131.5,24.4 132,24.4 132.5,24.4 133,24.4 133.5,24.4 134,24.5 134.5,24.5 135,24.5 135.5,24.5 136,24.6 136.5,24.6 137,24.7 137.5,24.7 138,24.8 138.5,24.8 139,24.8 139.5,24.9 140,24.9 140.5,25 141,25 141.5,25 142,25 142.5,25 143,25 143.5,25 144,25 144.5,25 145,25 145.5,25 146,25 146.5,25 147,25 147.5,25 148,25 148.5,25 149,25 149.5,25 150,25 150.5,25.1 151,25.1 151.5,25.1 152,25.1 152.5,25.1 153,25.1 153.5,25.1 154,25.1 154.5,25.1 155,25.1 155.5,25.1 156,25.1 156.5,25.1 157,25.1 157.5,25.1 158,25.1 158.5,25.1 159,25.1 159.5,25.1 160,25.1 160.5,25.1 161,25.1 161.5,25.1 162,25.1 162.5,25.1 163,25.1 163.5,25.1 164,25.1 164.5,25.1 165,25.1 165.5,25.1 166,25.1 166.5,25.1 167,25.1 167.5,25.1 168,25.1 168.5,25.1 169,25.1 169.5,25.1 170,25.1 170.5,25 171,25 171.5,25 172,25 172.5,25 173,25 173.5,25 174,25 174.5,25 175,25 175.5,25 176,25 176.5,25 177,25 177.5,25 178,25 178.5,25 179,25 179.5,25 180,25 180.5,25 181,25 181.5,25 182,25 182.5,25 183,25 183.5,25 184,25 184.5,25 185,25 185.5,25 186,25 186.5,25 187,25 187.5,25 188,25 188.5,25 189,24.9 189.5,24.9 190,24.9 190.5,24.9 191,24.9 191.5,24.9 192,24.9 192.5,24.9 193,24.9 193.5,24.9 194,24.9 194.5,24.9 195,24.9 195.5,24.9 196,24.9 196.5,24.9 197,24.9 197.5,24.9 198,24.9 198.5,24.9 199,24.8 199.5,24.8 200,24.8 200.5,24.7 201,24.7 201.5,24.6 202,24.6 202.5,24.5 203,24.4 203.5,24.4 204,24.3 204.5,24.3 205,24.2 205.5,24.1 206,24.1 206.5,24 207,24 207.5,23.9 208,23.8 208.5,23.8 209,23.7 209.5,23.7 210,23.6 210.5,23.5 211,23.5 211.5,23.4 212,23.4 212.5,23.3 213,23.2 213.5,23.2 214,23.1 214.5,23 215,23 215.5,22.9 216,22.8 216.5,22.8 217,22.7 217.5,22.7 218,22.6 218.5,22.5 219,22.5 219.5,22.4 220,22.3 220.5,22.3 221,22.2 221.5,22.1 222,22.1 222.5,22 223,22 223.5,21.9 224,21.9 224.5,21.9 225,21.9 225.5,21.9 226,21.9 226.5,21.8 227,21.8 227.5,21.8 228,21.8 228.5,21.8 229,21.8 229.5,21.8 230,21.8 230.5,21.8 231,21.8 231.5,21.8 232,21.7 232.5,21.7 233,21.7 233.5,21.7 234,21.7 234.5,21.7 235,21.7 235.5,21.7 236,21.7 236.5,21.7 237,21.7 237.5,21.6 238,21.6 238.5,21.6 239,21.6 239.5,21.6 240,21.6 240.5,21.6 241,21.5 241.5,21.5 242,21.4 242.5,21.4 243,21.3 243.5,21.2 244,21.2 244.5,21.2 245,21.1 245.5,21.1 246,21 246.5,20.9 247,20.9 247.5,20.8 248,20.7 248.5,20.6 249,20.6 249.5,20.5 250,20.4 250.5,20.4 251,20.3 251.5,20.2 252,20.1 252.5,19.9 253,19.6 253.5,19.4 254,19.2 254.5,19 255,18.9 255.5,18.7 256,18.6 256.5,18.5 257,18.3 257.5,18.2 258,18.2 258.5,18.3 259,18.3 259.5,18.3 260,18.3 260.5,18.4 261,18.4 261.5,18.5 262,18.6 262.5,18.7 263,18.7 263.5,18.8 264,18.9 264.5,19 265,19.3 265.5,19.6 266,19.8 266.5,20.1 267,20.4 267.5,20.7 268,21.1 268.5,21.4 269,21.8 269.5,22 270,22.2 270.5,22.4 271,22.6 271.5,22.9 272,23.1 272.5,23.3 273,23.5 273.5,23.7 274,23.9 274.5,24.1 275,24.3 275.5,24.3 276,24.4 276.5,24.4 277,24.4 277.5,24.4 278,24.5 278.5,24.5 279,24.5 279.5,24.5 280,24.6 280.5,24.6 281,24.6 281.5,24.6 282,24.7 282.5,24.7 283,24.7 283.5,24.7 284,24.8 284.5,24.8 285,24.8 285.5,24.8 286,24.9 286.5,24.9 287,25 287.5,25 288,25.1 288.5,25.1 289,25.2 289.5,25.2 290,25.3 290.5,25.3 291,25.4 291,27.8 290.5,27.9 290,27.9 289.5,28 289,28 288.5,28.1 288,28.1 287.5,28.2 287,28.2 286.5,28.3 286,28.3 285.5,28.4 285,28.4 284.5,28.4 284,28.5 283.5,28.5 283,28.5 282.5,28.5 282,28.6 281.5,28.6 281,28.6 280.5,28.6 280,28.7 279.5,28.7 279,28.7 278.5,28.7 278,28.8 277.5,28.8 277,28.8 276.5,28.8 276,28.9 275.5,28.9 275,28.9 274.5,29.1 274,29.3 273.5,29.5 273,29.7 272.5,29.9 272,30.1 271.5,30.3 271,30.6 270.5,30.8 270,31 269.5,31.2 269,31.4 268.5,31.8 268,32.1 267.5,32.5 267,32.8 266.5,33.1 266,33.4 265.5,33.6 265,33.9 264.5,34.2 264,34.3 263.5,34.4 263,34.5 262.5,34.5 262,34.6 261.5,34.7 261,34.8 260.5,34.8 260,34.9 259.5,34.9 259,34.9 258.5,34.9 258,35 257.5,35 257,34.9 256.5,34.7 256,34.6 255.5,34.5 255,34.3 254.5,34.2 254,34 253.5,33.8 253,33.6 252.5,33.3 252,33.1 251.5,33 251,32.9 250.5,32.8 250,32.8 249.5,32.7 249,32.6 248.5,32.6 248,32.5 247.5,32.4 247,32.3 246.5,32.3 246,32.2 245.5,32.1 245,32.1 244.5,32 244,32 243.5,32 243,31.9 242.5,31.9 242,31.8 241.5,31.8 241,31.7 240.5,31.7 240,31.6 239.5,31.6 239,31.6 238.5,31.6 238,31.6 237.5,31.6 237,31.5 236.5,31.5 236,31.5 235.5,31.5 235,31.5 234.5,31.5 234,31.5 233.5,31.5 233,31.5 232.5,31.5 232,31.5 231.5,31.4 231,31.4 230.5,31.4 230,31.4 229.5,31.4 229,31.4 228.5,31.4 228,31.4 227.5,31.4 227,31.4 226.5,31.4 226,31.3 225.5,31.3 225,31.3 224.5,31.3 224,31.3 223.5,31.3 223,31.2 222.5,31.2 222,31.1 221.5,31.1 221,31 220.5,30.9 220,30.9 219.5,30.8 219,30.7 218.5,30.7 218,30.6 217.5,30.5 217,30.5 216.5,30.4 216,30.4 215.5,30.3 215,30.2 214.5,30.2 214,30.1 213.5,30 213,30 212.5,29.9 212,29.8 211.5,29.8 211,29.7 210.5,29.7 210,29.6 209.5,29.5 209,29.5 208.5,29.4 208,29.4 207.5,29.3 207,29.2 206.5,29.2 206,29.1 205.5,29.1 205,29 204.5,28.9 204,28.9 203.5,28.8 203,28.8 202.5,28.7 202,28.6 201.5,28.6 201,28.5 200.5,28.5 200,28.4 199.5,28.4 199,28.4 198.5,28.4 198,28.3 197.5,28.3 197,28.3 196.5,28.3 196,28.3 195.5,28.3 195,28.3 194.5,28.3 194,28.3 193.5,28.3 193,28.3 192.5,28.3 192,28.3 191.5,28.3 191,28.3 190.5,28.3 190,28.3 189.5,28.3 189,28.3 188.5,28.2 188,28.2 187.5,28.2 187,28.2 186.5,28.2 186,28.2 185.5,28.2 185,28.2 184.5,28.2 184,28.2 183.5,28.2 183,28.2 182.5,28.2 182,28.2 181.5,28.2 181,28.2 180.5,28.2 180,28.2 179.5,28.2 179,28.2 178.5,28.2 178,28.2 177.5,28.2 177,28.2 176.5,28.2 176,28.2 175.5,28.2 175,28.2 174.5,28.2 174,28.2 173.5,28.2 173,28.2 172.5,28.2 172,28.2 171.5,28.2 171,28.2 170.5,28.2 170,28.2 169.5,28.1 169,28.1 168.5,28.1 168,28.1 167.5,28.1 167,28.1 166.5,28.1 166,28.1 165.5,28.1 165,28.1 164.5,28.1 164,28.1 163.5,28.1 163,28.1 162.5,28.1 162,28.1 161.5,28.1 161,28.1 160.5,28.1 160,28.1 159.5,28.1 159,28.1 158.5,28.1 158,28.1 157.5,28.1 157,28.1 156.5,28.1 156,28.1 155.5,28.1 155,28.1 154.5,28.1 154,28.1 153.5,28.1 153,28.1 152.5,28.1 152,28.1 151.5,28.1 151,28.1 150.5,28.2 150,28.2 149.5,28.2 149,28.2 148.5,28.2 148,28.2 147.5,28.2 147,28.2 146.5,28.2 146,28.2 145.5,28.2 145,28.2 144.5,28.2 144,28.2 143.5,28.2 143,28.2 142.5,28.2 142,28.2 141.5,28.2 141,28.2 140.5,28.2 140,28.3 139.5,28.3 139,28.4 138.5,28.4 138,28.5 137.5,28.5 137,28.5 136.5,28.6 136,28.6 135.5,28.7 135,28.7 134.5,28.7 134,28.7 133.5,28.8 133,28.8 132.5,28.8 132,28.8 131.5,28.8 131,28.8 130.5,28.9 130,28.9 129.5,28.9 129,28.9 128.5,28.9 128,29 127.5,29 127,29 126.5,29 126,29 125.5,29 125,29.1 124.5,29.1 124,29.1 123.5,29.1 123,29.1 122.5,29.1 122,29 121.5,29 121,29 120.5,29 120,29 119.5,29 119,28.9 118.5,28.9 118,28.9 117.5,28.9 117,28.9 116.5,28.9 116,28.8 115.5,28.8 115,28.8 114.5,28.8 114,28.8 113.5,28.8 113,28.7 112.5,28.7 112,28.7 111.5,28.7 111,28.6 110.5,28.6 110,28.6 109.5,28.5 109,28.5 108.5,28.4 108,28.4 107.5,28.3 107,28.3 106.5,28.2 106,28.2 105.5,28.1 105,28 104.5,28 104,27.9 103.5,27.9 103,27.8Z" fill="url(#g0)"/><path d="M295.4,26.6m-1.3,0a1.3,1.3 0 1,0 2.6,0a1.3,1.3 0 1,0 -2.6,0" fill="#aa17a7"/><path d="M187.8,45.5 188.3,45.5 188.8,45.4 189.3,45.4 189.8,45.4 190.3,45.4 190.8,45.3 191.3,45.3 191.8,45.3 192.3,45.2 192.8,45.2 193.3,45.2 193.8,45.2 194.3,45.1 194.8,45.1 195.3,45.1 195.8,45 196.3,45 196.8,44.9 197.3,44.9 197.8,44.9 198.3,44.8 198.8,44.8 199.3,44.7 199.8,44.7 200.3,44.6 200.8,44.4 201.3,44.2 201.8,44 202.3,43.8 202.8,43.6 203.3,43.4 203.8,43.2 204.3,43 204.8,42.9 205.3,42.7 205.8,42.5 206.3,42.3 206.8,42.1 207.3,41.9 207.8,41.8 208.3,41.6 208.8,41.4 209.3,41.3 209.8,41.3 210.3,41.2 210.8,41.1 211.3,41 211.8,41 212.3,40.9 212.8,40.8 213.3,40.8 213.8,40.7 214.3,40.6 214.8,40.5 215.3,40.4 215.8,40.3 216.3,40.2 216.8,40.1 217.3,40 217.8,39.9 218.3,39.8 218.8,39.7 219.3,39.6 219.8,39.6 220.3,39.5 220.8,39.4 221.3,39.3 221.8,39.2 222.3,39.1 222.8,39.1 223.3,39 223.8,38.9 224.3,38.8 224.8,38.8 225.3,38.9 225.8,39 226.3,39.1 226.8,39.2 227.3,39.3 227.8,39.4 228.3,39.4 228.8,39.5 229.3,39.5 229.8,39.6 230.3,39.6 230.8,39.7 231.3,39.7 231.8,39.8 232.3,39.8 232.8,39.9 233.3,39.8 233.8,39.8 234.3,39.7 234.8,39.6 235.3,39.6 235.8,39.5 236.3,39.4 236.8,39.4 237.3,39.3 237.8,39.3 238.3,39.2 238.8,39.1 239.3,39.1 239.8,39 240.3,39 240.8,39 241.3,39 241.8,39.1 242.3,39.1 242.8,39.1 243.3,39.1 243.8,39.1 244.3,39.2 244.8,39.2 245.3,39.2 245.8,39.2 246.3,39.3 246.8,39.3 247.3,39.4 247.8,39.4 248.3,39.4 248.8,39.5 249.3,39.5 249.8,39.5 250.3,39.6 250.8,39.6 251.3,39.7 251.8,39.7 252.3,39.7 252.8,39.8 253.3,39.8 253.8,39.9 254.3,39.9 254.8,40 255.3,40 255.8,40.1 256.3,40.1 256.8,40.2 257.3,40.2 257.8,40.3 258.3,40.3 258.8,40.4 259.3,40.4 259.8,40.5 260.3,40.6 260.8,40.6 261.3,40.7 261.8,40.7 262.3,40.8 262.8,40.8 263.3,40.9 263.8,41 264.3,41.2 264.8,41.4 265.3,41.6 265.8,41.8 266.3,42 266.8,42.1 267.3,42.3 267.8,42.5 268.3,42.6 268.8,42.8 269.3,42.9 269.8,43 270.3,43.1 270.8,43.2 271.3,43.3 271.8,43.3 272.3,43.4 272.8,43.5 273.3,43.6 273.8,43.7 274.3,43.8 274.8,43.9 275.3,43.9 275.8,44 276.3,44 276.8,44.1 277.3,44.1 277.8,44.2 278.3,44.2 278.8,44.3 279.3,44.3 279.8,44.4 280.3,44.4 280.8,44.4 281.3,44.5 281.8,44.5 282.3,44.5 282.8,44.5 283.3,44.6 283.8,44.6 284.3,44.6 284.8,44.6 285.3,44.7 285.8,44.7 286.3,44.7 286.8,44.7 287.3,44.8 287.8,44.8 288.3,44.8 288.8,44.8 289.3,44.9 289.8,44.9 290.3,44.9 290.8,44.9 291.3,44.9 291.8,44.9 292.3,45 292.8,45 293.3,45 293.8,45 294.3,45 294.8,45 295.3,45 295.8,45.1 296.3,45.1 296.8,45.1 297.3,45.1 297.8,45.1 298.3,45.1 298.8,45.2 299.3,45.2 299.8,45.2 300.3,45.2 300.8,45.2 301.3,45.3 301.8,45.3 302.3,45.3 302.8,45.3 303.3,45.3 303.8,45.4 304.3,45.4 304.8,45.4 305.3,45.4 305.8,45.5 306.3,45.5 306.3,47.9 305.8,47.9 305.3,47.9 304.8,48 304.3,48 303.8,48 303.3,48 302.8,48.1 302.3,48.1 301.8,48.1 301.3,48.1 300.8,48.2 300.3,48.2 299.8,48.2 299.3,48.2 298.8,48.2 298.3,48.2 297.8,48.3 297.3,48.3 296.8,48.3 296.3,48.3 295.8,48.3 295.3,48.3 294.8,48.3 294.3,48.4 293.8,48.4 293.3,48.4 292.8,48.4 292.3,48.4 291.8,48.4 291.3,48.5 290.8,48.5 290.3,48.5 289.8,48.5 289.3,48.5 288.8,48.5 288.3,48.6 287.8,48.6 287.3,48.6 286.8,48.6 286.3,48.7 285.8,48.7 285.3,48.7 284.8,48.8 284.3,48.8 283.8,48.8 283.3,48.8 282.8,48.8 282.3,48.9 281.8,48.9 281.3,48.9 280.8,48.9 280.3,49 279.8,49 279.3,49.1 278.8,49.1 278.3,49.2 277.8,49.2 277.3,49.3 276.8,49.3 276.3,49.4 275.8,49.4 275.3,49.5 274.8,49.5 274.3,49.6 273.8,49.7 273.3,49.8 272.8,49.9 272.3,50 271.8,50 271.3,50.1 270.8,50.2 270.3,50.3 269.8,50.4 269.3,50.5 268.8,50.6 268.3,50.8 267.8,50.9 267.3,51.1 266.8,51.2 266.3,51.4 265.8,51.6 265.3,51.8 264.8,52 264.3,52.1 263.8,52.3 263.3,52.5 262.8,52.6 262.3,52.6 261.8,52.7 261.3,52.7 260.8,52.8 260.3,52.8 259.8,52.9 259.3,52.9 258.8,53 258.3,53 257.8,53.1 257.3,53.2 256.8,53.2 256.3,53.3 255.8,53.3 255.3,53.4 254.8,53.4 254.3,53.4 253.8,53.5 253.3,53.5 252.8,53.6 252.3,53.6 251.8,53.7 251.3,53.7 250.8,53.8 250.3,53.8 249.8,53.8 249.3,53.9 248.8,53.9 248.3,53.9 247.8,54 247.3,54 246.8,54.1 246.3,54.1 245.8,54.1 245.3,54.2 244.8,54.2 244.3,54.2 243.8,54.2 243.3,54.3 242.8,54.3 242.3,54.3 241.8,54.3 241.3,54.3 240.8,54.4 240.3,54.4 239.8,54.4 239.3,54.3 238.8,54.2 238.3,54.2 237.8,54.1 237.3,54.1 236.8,54 236.3,53.9 235.8,53.9 235.3,53.8 234.8,53.7 234.3,53.7 233.8,53.6 233.3,53.6 232.8,53.5 232.3,53.5 231.8,53.6 231.3,53.6 230.8,53.7 230.3,53.7 229.8,53.8 229.3,53.9 228.8,53.9 228.3,54 227.8,54 227.3,54.1 226.8,54.2 226.3,54.3 225.8,54.4 225.3,54.5 224.8,54.5 224.3,54.6 223.8,54.5 223.3,54.4 222.8,54.3 222.3,54.2 221.8,54.1 221.3,54.1 220.8,54 220.3,53.9 219.8,53.8 219.3,53.7 218.8,53.6 218.3,53.5 217.8,53.4 217.3,53.3 216.8,53.2 216.3,53.1 215.8,53 215.3,52.9 214.8,52.8 214.3,52.7 213.8,52.7 213.3,52.6 212.8,52.5 212.3,52.5 211.8,52.4 211.3,52.3 210.8,52.3 210.3,52.2 209.8,52.1 209.3,52.1 208.8,52 208.3,51.8 207.8,51.6 207.3,51.4 206.8,51.3 206.3,51.1 205.8,50.9 205.3,50.7 204.8,50.5 204.3,50.3 203.8,50.1 203.3,50 202.8,49.8 202.3,49.6 201.8,49.4 201.3,49.2 200.8,49 200.3,48.8 199.8,48.7 199.3,48.6 198.8,48.6 198.3,48.6 197.8,48.5 197.3,48.5 196.8,48.4 196.3,48.4 195.8,48.4 195.3,48.3 194.8,48.3 194.3,48.3 193.8,48.2 193.3,48.2 192.8,48.2 192.3,48.1 191.8,48.1 191.3,48.1 190.8,48.1 190.3,48 189.8,48 189.3,48 188.8,47.9 188.3,47.9 187.8,47.9Z" fill="url(#g1)"/><path d="M312.5,46.7m-1.3,0a1.3,1.3 0 1,0 2.6,0a1.3,1.3 0 1,0 -2.6,0" fill="#b900a0"/><path d="M200.2,65.6 200.7,65.5 201.2,65.4 201.7,65.2 202.2,65.1 202.7,65 203.2,64.9 203.7,64.8 204.2,64.7 204.7,64.6 205.2,64.5 205.7,64.3 206.2,64.2 206.7,64.1 207.2,64 207.7,63.8 208.2,63.7 208.7,63.6 209.2,63.5 209.7,63.3 210.2,63.2 210.7,63.1 211.2,63 211.7,62.8 212.2,62.7 212.7,62.6 213.2,62.5 213.7,62.4 214.2,62.3 214.7,62.2 215.2,62.2 215.7,62.1 216.2,62 216.7,62 217.2,61.9 217.7,61.8 218.2,61.8 218.7,61.7 219.2,61.7 219.7,61.7 220.2,61.6 220.7,61.6 221.2,61.5 221.7,61.5 222.2,61.4 222.7,61.3 223.2,61.1 223.7,61 224.2,60.8 224.7,60.7 225.2,60.5 225.7,60.4 226.2,60.2 226.7,60.1 227.2,60 227.7,59.8 228.2,59.7 228.7,59.6 229.2,59.6 229.7,59.5 230.2,59.4 230.7,59.3 231.2,59.3 231.7,59.2 232.2,59.1 232.7,59 233.2,59 233.7,58.9 234.2,58.9 234.7,58.9 235.2,58.8 235.7,58.8 236.2,58.7 236.7,58.7 237.2,58.7 237.7,58.6 238.2,58.6 238.7,58.6 239.2,58.6 239.7,58.6 240.2,58.6 240.7,58.6 241.2,58.6 241.7,58.6 242.2,58.6 242.7,58.6 243.2,58.6 243.7,58.6 244.2,58.6 244.7,58.6 245.2,58.6 245.7,58.7 246.2,58.8 246.7,59 247.2,59.1 247.7,59.3 248.2,59.4 248.7,59.6 249.2,59.8 249.7,59.9 250.2,60.1 250.7,60.2 251.2,60.4 251.7,60.6 252.2,60.8 252.7,61 253.2,61.2 253.7,61.4 254.2,61.6 254.7,61.8 255.2,61.9 255.7,62.1 256.2,62.2 256.7,62.4 257.2,62.5 257.7,62.7 258.2,62.8 258.7,62.9 259.2,63 259.7,63.1 260.2,63.2 260.7,63.3 261.2,63.4 261.7,63.5 262.2,63.6 262.7,63.7 263.2,63.7 263.7,63.8 264.2,63.9 264.7,64 265.2,64 265.7,64.1 266.2,64.2 266.7,64.2 267.2,64.3 267.7,64.4 268.2,64.4 268.7,64.5 269.2,64.5 269.7,64.6 270.2,64.6 270.7,64.6 271.2,64.7 271.7,64.7 272.2,64.7 272.7,64.8 273.2,64.8 273.7,64.8 274.2,64.9 274.7,64.9 275.2,64.9 275.7,65 276.2,65 276.7,65 277.2,65 277.7,65.1 278.2,65.1 278.7,65.1 279.2,65.1 279.7,65.2 280.2,65.2 280.7,65.2 281.2,65.3 281.7,65.3 282.2,65.3 282.7,65.3 283.2,65.4 283.7,65.4 284.2,65.4 284.7,65.4 285.2,65.5 285.2,68.1 284.7,68.1 284.2,68.2 283.7,68.2 283.2,68.2 282.7,68.2 282.2,68.3 281.7,68.3 281.2,68.3 280.7,68.3 280.2,68.4 279.7,68.4 279.2,68.4 278.7,68.4 278.2,68.5 277.7,68.5 277.2,68.5 276.7,68.5 276.2,68.6 275.7,68.6 275.2,68.6 274.7,68.7 274.2,68.7 273.7,68.7 273.2,68.8 272.7,68.8 272.2,68.8 271.7,68.9 271.2,68.9 270.7,68.9 270.2,69 269.7,69 269.2,69 268.7,69.1 268.2,69.1 267.7,69.2 267.2,69.3 266.7,69.3 266.2,69.4 265.7,69.5 265.2,69.5 264.7,69.6 264.2,69.7 263.7,69.7 263.2,69.8 262.7,69.9 262.2,70 261.7,70 261.2,70.1 260.7,70.2 260.2,70.3 259.7,70.4 259.2,70.5 258.7,70.6 258.2,70.7 257.7,70.9 257.2,71 256.7,71.2 256.2,71.3 255.7,71.5 255.2,71.6 254.7,71.8 254.2,72 253.7,72.2 253.2,72.4 252.7,72.6 252.2,72.8 251.7,73 251.2,73.2 250.7,73.3 250.2,73.5 249.7,73.6 249.2,73.8 248.7,74 248.2,74.1 247.7,74.3 247.2,74.4 246.7,74.6 246.2,74.7 245.7,74.9 245.2,75 244.7,75 244.2,75 243.7,75 243.2,75 242.7,75 242.2,75 241.7,75 241.2,75 240.7,75 240.2,75 239.7,75 239.2,75 238.7,75 238.2,75 237.7,74.9 237.2,74.9 236.7,74.9 236.2,74.8 235.7,74.8 235.2,74.7 234.7,74.7 234.2,74.7 233.7,74.6 233.2,74.6 232.7,74.5 232.2,74.5 231.7,74.4 231.2,74.3 230.7,74.2 230.2,74.1 229.7,74.1 229.2,74 228.7,73.9 228.2,73.8 227.7,73.8 227.2,73.6 226.7,73.5 226.2,73.3 225.7,73.2 225.2,73 224.7,72.9 224.2,72.7 223.7,72.6 223.2,72.4 222.7,72.3 222.2,72.1 221.7,72.1 221.2,72 220.7,72 220.2,71.9 219.7,71.9 219.2,71.9 218.7,71.8 218.2,71.8 217.7,71.7 217.2,71.7 216.7,71.6 216.2,71.5 215.7,71.5 215.2,71.4 214.7,71.3 214.2,71.3 213.7,71.2 213.2,71.1 212.7,71 212.2,70.9 211.7,70.7 211.2,70.6 210.7,70.5 210.2,70.3 209.7,70.2 209.2,70.1 208.7,70 208.2,69.8 207.7,69.7 207.2,69.6 206.7,69.5 206.2,69.3 205.7,69.2 205.2,69.1 204.7,69 204.2,68.9 203.7,68.8 203.2,68.7 202.7,68.5 202.2,68.4 201.7,68.3 201.2,68.2 200.7,68.1 200.2,68Z" fill="url(#g2)"/><path d="M288.5,66.8m-1.3,0a1.3,1.3 0 1,0 2.6,0a1.3,1.3 0 1,0 -2.6,0" fill="#ff0058"/><path d="M291.2,66.8m-1.3,0a1.3,1.3 0 1,0 2.6,0a1.3,1.3 0 1,0 -2.6,0" fill="#ff0058"/><path d="M294,66.8m-1.3,0a1.3,1.3 0 1,0 2.6,0a1.3,1.3 0 1,0 -2.6,0" fill="#ff0058"/><path d="M190,85.6 190.5,85.6 191,85.5 191.5,85.5 192,85.5 192.5,85.5 193,85.5 193.5,85.5 194,85.5 194.5,85.4 195,85.4 195.5,85.4 196,85.4 196.5,85.4 197,85.4 197.5,85.3 198,85.3 198.5,85.3 199,85.3 199.5,85.3 200,85.3 200.5,85.3 201,85.2 201.5,85.2 202,85.2 202.5,85.2 203,85.2 203.5,85.1 204,85.1 204.5,85.1 205,85.1 205.5,85.1 206,85 206.5,85 207,85 207.5,85 208,85 208.5,84.9 209,84.9 209.5,84.9 210,84.9 210.5,84.8 211,84.8 211.5,84.7 212,84.6 212.5,84.6 213,84.5 213.5,84.4 214,84.3 214.5,84.3 215,84.2 215.5,84.1 216,84.1 216.5,84 217,83.9 217.5,83.8 218,83.7 218.5,83.7 219,83.6 219.5,83.5 220,83.4 220.5,83.3 221,83.2 221.5,83.2 222,83.1 222.5,83 223,82.9 223.5,82.8 224,82.7 224.5,82.6 225,82.5 225.5,82.4 226,82.3 226.5,82.2 227,82.1 227.5,82 228,81.9 228.5,81.8 229,81.7 229.5,81.6 230,81.6 230.5,81.6 231,81.7 231.5,81.7 232,81.8 232.5,81.8 233,81.9 233.5,82 234,82 234.5,82.1 235,82.2 235.5,82.3 236,82.4 236.5,82.5 237,82.2 237.5,81.8 238,81.4 238.5,80.7 239,80 239.5,79.3 240,79.2 240.5,79 241,78.9 241.5,78.8 242,78.7 242.5,78.6 243,78.5 243.5,78.3 244,78.2 244.5,78.3 245,78.6 245.5,78.9 246,79.2 246.5,79.4 247,79.7 247.5,80 248,80.3 248.5,80.5 249,80.8 249.5,81.2 250,81.6 250.5,82 251,82.3 251.5,82.5 252,82.7 252.5,82.8 253,82.9 253.5,83 254,83.1 254.5,83.2 255,83.3 255.5,83.5 256,83.6 256.5,83.6 257,83.7 257.5,83.7 258,83.8 258.5,83.9 259,83.9 259.5,84 260,84 260.5,84.1 261,84.2 261.5,84.2 262,84.3 262.5,84.3 263,84.4 263.5,84.4 264,84.4 264.5,84.5 265,84.5 265.5,84.6 266,84.6 266.5,84.6 267,84.7 267.5,84.7 268,84.8 268.5,84.8 269,84.8 269.5,84.8 270,84.9 270.5,84.9 271,84.9 271.5,84.9 272,84.9 272.5,85 273,85 273.5,85 274,85 274.5,85 275,85.1 275.5,85.1 276,85.1 276.5,85.1 277,85.2 277.5,85.2 278,85.2 278.5,85.2 279,85.3 279.5,85.3 280,85.3 280.5,85.3 281,85.4 281.5,85.4 282,85.4 282.5,85.4 283,85.5 283.5,85.5 284,85.5 284.5,85.5 285,85.6 285.5,85.6 286,85.6 286.5,85.6 287,85.7 287,88.1 286.5,88.1 286,88.1 285.5,88.2 285,88.2 284.5,88.2 284,88.2 283.5,88.3 283,88.3 282.5,88.3 282,88.3 281.5,88.4 281,88.4 280.5,88.4 280,88.4 279.5,88.5 279,88.5 278.5,88.5 278,88.5 277.5,88.6 277,88.6 276.5,88.6 276,88.6 275.5,88.6 275,88.7 274.5,88.7 274,88.7 273.5,88.7 273,88.8 272.5,88.8 272,88.8 271.5,88.8 271,88.8 270.5,88.9 270,88.9 269.5,88.9 269,88.9 268.5,88.9 268,89 267.5,89 267,89.1 266.5,89.1 266,89.1 265.5,89.2 265,89.2 264.5,89.3 264,89.3 263.5,89.3 263,89.4 262.5,89.4 262,89.5 261.5,89.5 261,89.6 260.5,89.6 260,89.7 259.5,89.8 259,89.8 258.5,89.9 258,89.9 257.5,90 257,90.1 256.5,90.1 256,90.2 255.5,90.3 255,90.4 254.5,90.5 254,90.6 253.5,90.7 253,90.9 252.5,91 252,91.1 251.5,91.2 251,91.4 250.5,91.8 250,92.2 249.5,92.5 249,92.9 248.5,93.2 248,93.5 247.5,93.7 247,94 246.5,94.3 246,94.6 245.5,94.9 245,95.1 244.5,95.4 244,95.5 243.5,95.4 243,95.3 242.5,95.2 242,95.1 241.5,94.9 241,94.8 240.5,94.7 240,94.6 239.5,94.5 239,93.8 238.5,93.1 238,92.4 237.5,92 237,91.6 236.5,91.3 236,91.4 235.5,91.5 235,91.5 234.5,91.6 234,91.7 233.5,91.8 233,91.9 232.5,91.9 232,92 231.5,92 231,92 230.5,92.1 230,92.1 229.5,92.2 229,92.1 228.5,92 228,91.9 227.5,91.8 227,91.7 226.5,91.6 226,91.5 225.5,91.4 225,91.3 224.5,91.2 224,91.1 223.5,91 223,90.9 222.5,90.8 222,90.7 221.5,90.6 221,90.5 220.5,90.4 220,90.3 219.5,90.3 219,90.2 218.5,90.1 218,90 217.5,89.9 217,89.8 216.5,89.8 216,89.7 215.5,89.6 215,89.5 214.5,89.5 214,89.4 213.5,89.3 213,89.3 212.5,89.2 212,89.1 211.5,89 211,89 210.5,88.9 210,88.9 209.5,88.8 209,88.8 208.5,88.8 208,88.8 207.5,88.8 207,88.7 206.5,88.7 206,88.7 205.5,88.7 205,88.7 204.5,88.6 204,88.6 203.5,88.6 203,88.6 202.5,88.6 202,88.5 201.5,88.5 201,88.5 200.5,88.5 200,88.5 199.5,88.5 199,88.4 198.5,88.4 198,88.4 197.5,88.4 197,88.4 196.5,88.4 196,88.4 195.5,88.3 195,88.3 194.5,88.3 194,88.3 193.5,88.3 193,88.3 192.5,88.2 192,88.2 191.5,88.2 191,88.2 190.5,88.2 190,88.2Z" fill="url(#g3)"/><path d="M290.8,86.9m-1.3,0a1.3,1.3 0 1,0 2.6,0a1.3,1.3 0 1,0 -2.6,0" fill="#0085f9"/><path d="M295,86.9m-1.3,0a1.3,1.3 0 1,0 2.6,0a1.3,1.3 0 1,0 -2.6,0" fill="#0085f9"/><path d="M218.2,105.5 218.7,105.4 219.2,105.4 219.7,105.4 220.2,105.3 220.7,105.3 221.2,105.2 221.7,105.2 222.2,105.1 222.7,105.1 223.2,105 223.7,105 224.2,104.8 224.7,104.7 225.2,104.5 225.7,104.4 226.2,104.2 226.7,104.1 227.2,103.8 227.7,103.5 228.2,103.3 228.7,102.8 229.2,102.1 229.7,101.5 230.2,100.9 230.7,100.2 231.2,99.6 231.7,99 232.2,98.8 232.7,98.8 233.2,98.8 233.7,98.8 234.2,98.8 234.7,98.8 235.2,98.8 235.7,98.8 236.2,98.8 236.7,98.8 237.2,98.8 237.7,98.8 238.2,98.8 238.7,98.8 239.2,99.5 239.7,100.7 240.2,101.5 240.7,101.5 241.2,101.6 241.7,101.6 242.2,101.7 242.7,101.7 243.2,101.8 243.7,101.8 244.2,101.9 244.7,101.9 245.2,101.9 245.7,102.2 246.2,102.5 246.7,102.9 247.2,103.2 247.7,103.5 248.2,103.7 248.7,103.7 249.2,103.8 249.7,103.8 250.2,103.8 250.7,103.9 251.2,103.9 251.7,103.9 252.2,104 252.7,104 253.2,104 253.7,104.1 254.2,104.1 254.7,104.1 255.2,104.2 255.7,104.2 256.2,104.2 256.7,104.3 257.2,104.3 257.7,104.3 258.2,104.4 258.7,104.4 259.2,104.4 259.7,104.4 260.2,104.4 260.7,104.5 261.2,104.5 261.7,104.5 262.2,104.5 262.7,104.5 263.2,104.6 263.7,104.6 264.2,104.6 264.7,104.6 265.2,104.6 265.7,104.6 266.2,104.7 266.7,104.7 267.2,104.7 267.7,104.7 268.2,104.7 268.7,104.8 269.2,104.8 269.7,104.8 270.2,104.8 270.7,104.8 271.2,104.8 271.7,104.9 272.2,104.9 272.7,104.9 273.2,104.9 273.7,104.9 274.2,105 274.7,105 275.2,105 275.7,105 276.2,105 276.7,105 277.2,105.1 277.7,105.1 278.2,105.1 278.7,105.1 279.2,105.1 279.7,105.1 280.2,105.2 280.7,105.2 281.2,105.2 281.7,105.2 282.2,105.2 282.7,105.3 283.2,105.3 283.7,105.3 284.2,105.3 284.7,105.3 285.2,105.4 285.7,105.4 286.2,105.4 286.7,105.4 287.2,105.4 287.7,105.4 288.2,105.5 288.7,105.5 289.2,105.5 289.7,105.5 290.2,105.5 290.7,105.6 291.2,105.6 291.7,105.6 292.2,105.6 292.7,105.6 293.2,105.7 293.2,108.3 292.7,108.3 292.2,108.3 291.7,108.3 291.2,108.3 290.7,108.4 290.2,108.4 289.7,108.4 289.2,108.4 288.7,108.4 288.2,108.5 287.7,108.5 287.2,108.5 286.7,108.5 286.2,108.5 285.7,108.5 285.2,108.6 284.7,108.6 284.2,108.6 283.7,108.6 283.2,108.6 282.7,108.7 282.2,108.7 281.7,108.7 281.2,108.7 280.7,108.7 280.2,108.8 279.7,108.8 279.2,108.8 278.7,108.8 278.2,108.8 277.7,108.8 277.2,108.9 276.7,108.9 276.2,108.9 275.7,108.9 275.2,108.9 274.7,109 274.2,109 273.7,109 273.2,109 272.7,109 272.2,109 271.7,109.1 271.2,109.1 270.7,109.1 270.2,109.1 269.7,109.1 269.2,109.1 268.7,109.2 268.2,109.2 267.7,109.2 267.2,109.2 266.7,109.2 266.2,109.3 265.7,109.3 265.2,109.3 264.7,109.3 264.2,109.3 263.7,109.4 263.2,109.4 262.7,109.4 262.2,109.4 261.7,109.4 261.2,109.4 260.7,109.5 260.2,109.5 259.7,109.5 259.2,109.5 258.7,109.5 258.2,109.6 257.7,109.6 257.2,109.6 256.7,109.6 256.2,109.7 255.7,109.7 255.2,109.7 254.7,109.8 254.2,109.8 253.7,109.8 253.2,109.9 252.7,109.9 252.2,109.9 251.7,110 251.2,110 250.7,110.1 250.2,110.1 249.7,110.1 249.2,110.2 248.7,110.2 248.2,110.2 247.7,110.4 247.2,110.7 246.7,111 246.2,111.4 245.7,111.7 245.2,112 244.7,112 244.2,112.1 243.7,112.1 243.2,112.1 242.7,112.2 242.2,112.2 241.7,112.3 241.2,112.3 240.7,112.4 240.2,112.4 239.7,113.3 239.2,114.4 238.7,115.2 238.2,115.2 237.7,115.2 237.2,115.2 236.7,115.2 236.2,115.2 235.7,115.2 235.2,115.2 234.7,115.2 234.2,115.2 233.7,115.2 233.2,115.2 232.7,115.2 232.2,115.2 231.7,114.9 231.2,114.3 230.7,113.7 230.2,113.1 229.7,112.4 229.2,111.8 228.7,111.1 228.2,110.7 227.7,110.4 227.2,110.1 226.7,109.9 226.2,109.7 225.7,109.5 225.2,109.4 224.7,109.2 224.2,109.1 223.7,108.9 223.2,108.9 222.7,108.8 222.2,108.8 221.7,108.7 221.2,108.7 220.7,108.6 220.2,108.6 219.7,108.6 219.2,108.5 218.7,108.5 218.2,108.5Z" fill="url(#g4)"/><path d="M201.8,125.8 202.3,125.7 202.8,125.7 203.3,125.7 203.8,125.7 204.3,125.7 204.8,125.7 205.3,125.7 205.8,125.7 206.3,125.6 206.8,125.6 207.3,125.6 207.8,125.6 208.3,125.6 208.8,125.6 209.3,125.6 209.8,125.6 210.3,125.5 210.8,125.5 211.3,125.5 211.8,125.5 212.3,125.5 212.8,125.5 213.3,125.4 213.8,125.4 214.3,125.4 214.8,125.4 215.3,125.4 215.8,125.3 216.3,125.3 216.8,125.3 217.3,125.3 217.8,125.3 218.3,125.3 218.8,125.2 219.3,125.2 219.8,125.2 220.3,125.2 220.8,125.1 221.3,125.1 221.8,125.1 222.3,125 222.8,125 223.3,125 223.8,125 224.3,125 224.8,125 225.3,125 225.8,125 226.3,124.9 226.8,124.9 227.3,124.9 227.8,124.9 228.3,124.9 228.8,124.9 229.3,124.9 229.8,124.9 230.3,124.8 230.8,124.8 231.3,124.8 231.8,124.7 232.3,124.7 232.8,124.6 233.3,124.6 233.8,124.6 234.3,124.5 234.8,124.5 235.3,124.5 235.8,124.1 236.3,123.7 236.8,123.3 237.3,122.8 237.8,122.3 238.3,121.8 238.8,121.3 239.3,120.8 239.8,120.5 240.3,120.2 240.8,119.8 241.3,119.5 241.8,119.2 242.3,119.1 242.8,119 243.3,118.9 243.8,118.8 244.3,118.7 244.8,118.6 245.3,118.8 245.8,119 246.3,119.2 246.8,119.5 247.3,119.8 247.8,120.2 248.3,120.7 248.8,121.6 249.3,122.5 249.8,122.7 250.3,122.9 250.8,123 251.3,123.1 251.8,123.2 252.3,123.3 252.8,123.4 253.3,123.5 253.8,123.6 254.3,123.8 254.8,123.9 255.3,123.9 255.8,124 256.3,124.1 256.8,124.2 257.3,124.3 257.8,124.4 258.3,124.4 258.8,124.5 259.3,124.6 259.8,124.7 260.3,124.8 260.8,124.9 261.3,124.9 261.8,125 262.3,125.1 262.8,125.1 263.3,125.1 263.8,125.2 264.3,125.2 264.8,125.2 265.3,125.3 265.8,125.3 266.3,125.3 266.8,125.4 267.3,125.4 267.8,125.4 268.3,125.5 268.8,125.5 269.3,125.5 269.8,125.5 270.3,125.5 270.8,125.6 271.3,125.6 271.8,125.6 272.3,125.6 272.8,125.6 273.3,125.7 273.8,125.7 274.3,125.7 274.8,125.7 275.3,125.7 275.3,128.4 274.8,128.4 274.3,128.4 273.8,128.4 273.3,128.4 272.8,128.5 272.3,128.5 271.8,128.5 271.3,128.5 270.8,128.5 270.3,128.6 269.8,128.6 269.3,128.6 268.8,128.6 268.3,128.6 267.8,128.7 267.3,128.7 266.8,128.7 266.3,128.8 265.8,128.8 265.3,128.8 264.8,128.9 264.3,128.9 263.8,128.9 263.3,129 262.8,129 262.3,129 261.8,129.1 261.3,129.2 260.8,129.2 260.3,129.3 259.8,129.4 259.3,129.5 258.8,129.6 258.3,129.7 257.8,129.7 257.3,129.8 256.8,129.9 256.3,130 255.8,130.1 255.3,130.2 254.8,130.2 254.3,130.3 253.8,130.5 253.3,130.6 252.8,130.7 252.3,130.8 251.8,130.9 251.3,131 250.8,131.1 250.3,131.2 249.8,131.4 249.3,131.6 248.8,132.5 248.3,133.5 247.8,133.9 247.3,134.3 246.8,134.6 246.3,134.9 245.8,135.1 245.3,135.3 244.8,135.6 244.3,135.4 243.8,135.3 243.3,135.2 242.8,135.1 242.3,135 241.8,134.9 241.3,134.6 240.8,134.3 240.3,134 239.8,133.6 239.3,133.3 238.8,132.8 238.3,132.3 237.8,131.8 237.3,131.3 236.8,130.8 236.3,130.4 235.8,130 235.3,129.6 234.8,129.6 234.3,129.6 233.8,129.5 233.3,129.5 232.8,129.5 232.3,129.4 231.8,129.4 231.3,129.3 230.8,129.3 230.3,129.3 229.8,129.2 229.3,129.2 228.8,129.2 228.3,129.2 227.8,129.2 227.3,129.2 226.8,129.2 226.3,129.2 225.8,129.1 225.3,129.1 224.8,129.1 224.3,129.1 223.8,129.1 223.3,129.1 222.8,129.1 222.3,129.1 221.8,129 221.3,129 220.8,129 220.3,129 219.8,128.9 219.3,128.9 218.8,128.9 218.3,128.8 217.8,128.8 217.3,128.8 216.8,128.8 216.3,128.8 215.8,128.8 215.3,128.7 214.8,128.7 214.3,128.7 213.8,128.7 213.3,128.7 212.8,128.6 212.3,128.6 211.8,128.6 211.3,128.6 210.8,128.6 210.3,128.6 209.8,128.5 209.3,128.5 208.8,128.5 208.3,128.5 207.8,128.5 207.3,128.5 206.8,128.5 206.3,128.5 205.8,128.4 205.3,128.4 204.8,128.4 204.3,128.4 203.8,128.4 203.3,128.4 202.8,128.4 202.3,128.4 201.8,128.4Z" fill="url(#g5)"/><path d="M194.2,127.1m-1.3,0a1.3,1.3 0 1,0 2.6,0a1.3,1.3 0 1,0 -2.6,0" fill="#ff0058"/><path d="M196.8,127.1m-1.3,0a1.3,1.3 0 1,0 2.6,0a1.3,1.3 0 1,0 -2.6,0" fill="#ff0058"/><path d="M222.9,145.5 223.4,145.5 223.9,145.4 224.4,145.4 224.9,145.3 225.4,145.3 225.9,145.2 226.4,145.2 226.9,145.1 227.4,145 227.9,145 228.4,144.9 228.9,144.8 229.4,144.4 229.9,144 230.4,143.7 230.9,143.3 231.4,143 231.9,142.5 232.4,142 232.9,141.5 233.4,141 233.9,140.5 234.4,140 234.9,139.7 235.4,139.4 235.9,139.1 236.4,138.8 236.9,138.5 237.4,139 237.9,139.4 238.4,139.9 238.9,140.3 239.4,140.7 239.9,141.2 240.4,141.6 240.9,142 241.4,142.3 241.9,142.7 242.4,143.1 242.9,143.4 243.4,143.4 243.9,143.5 244.4,143.5 244.9,143.6 245.4,143.6 245.9,143.7 246.4,143.7 246.9,143.8 247.4,143.9 247.9,143.9 248.4,144 248.9,144.1 249.4,144.1 249.9,144.2 250.4,144.2 250.9,144.3 251.4,144.4 251.9,144.4 252.4,144.5 252.9,144.5 253.4,144.6 253.9,144.6 254.4,144.6 254.9,144.7 255.4,144.7 255.9,144.8 256.4,144.8 256.9,144.9 257.4,144.9 257.9,145 258.4,145 258.9,145 259.4,145.1 259.9,145.1 260.4,145.1 260.9,145.2 261.4,145.2 261.9,145.2 262.4,145.2 262.9,145.2 263.4,145.2 263.9,145.2 264.4,145.2 264.9,145.2 265.4,145.2 265.9,145.3 266.4,145.3 266.9,145.3 267.4,145.3 267.9,145.3 268.4,145.3 268.9,145.3 269.4,145.3 269.9,145.3 270.4,145.4 270.9,145.4 271.4,145.4 271.9,145.4 272.4,145.4 272.9,145.4 273.4,145.4 273.9,145.4 274.4,145.5 274.9,145.5 275.4,145.5 275.9,145.5 276.4,145.5 276.9,145.5 277.4,145.5 277.9,145.6 278.4,145.6 278.9,145.6 279.4,145.6 279.9,145.6 280.4,145.6 280.4,148.6 279.9,148.7 279.4,148.7 278.9,148.7 278.4,148.7 277.9,148.7 277.4,148.7 276.9,148.7 276.4,148.8 275.9,148.8 275.4,148.8 274.9,148.8 274.4,148.8 273.9,148.8 273.4,148.8 272.9,148.9 272.4,148.9 271.9,148.9 271.4,148.9 270.9,148.9 270.4,148.9 269.9,148.9 269.4,149 268.9,149 268.4,149 267.9,149 267.4,149 266.9,149 266.4,149 265.9,149 265.4,149 264.9,149 264.4,149.1 263.9,149.1 263.4,149.1 262.9,149.1 262.4,149.1 261.9,149.1 261.4,149.1 260.9,149.1 260.4,149.1 259.9,149.1 259.4,149.2 258.9,149.2 258.4,149.3 257.9,149.3 257.4,149.4 256.9,149.4 256.4,149.5 255.9,149.5 255.4,149.5 254.9,149.6 254.4,149.6 253.9,149.7 253.4,149.7 252.9,149.8 252.4,149.8 251.9,149.9 251.4,149.9 250.9,150 250.4,150 249.9,150.1 249.4,150.2 248.9,150.2 248.4,150.3 247.9,150.4 247.4,150.4 246.9,150.5 246.4,150.5 245.9,150.6 245.4,150.7 244.9,150.7 244.4,150.8 243.9,150.8 243.4,150.9 242.9,150.9 242.4,151.2 241.9,151.6 241.4,151.9 240.9,152.3 240.4,152.6 239.9,153.1 239.4,153.5 238.9,154 238.4,154.4 237.9,154.9 237.4,155.3 236.9,155.7 236.4,155.5 235.9,155.2 235.4,154.9 234.9,154.6 234.4,154.2 233.9,153.7 233.4,153.2 232.9,152.7 232.4,152.2 231.9,151.7 231.4,151.3 230.9,151 230.4,150.6 229.9,150.2 229.4,149.9 228.9,149.5 228.4,149.4 227.9,149.3 227.4,149.2 226.9,149.2 226.4,149.1 225.9,149 225.4,149 224.9,148.9 224.4,148.9 223.9,148.8 223.4,148.8 222.9,148.7Z" fill="url(#g6)"/><path d="M213.7,166 214.2,166 214.7,166 215.2,166 215.7,166 216.2,166 216.7,165.9 217.2,165.9 217.7,165.9 218.2,165.9 218.7,165.9 219.2,165.9 219.7,165.8 220.2,165.8 220.7,165.8 221.2,165.7 221.7,165.7 222.2,165.7 222.7,165.6 223.2,165.6 223.7,165.5 224.2,165.5 224.7,165.5 225.2,165.4 225.7,165.4 226.2,165.3 226.7,165.3 227.2,165.3 227.7,165.2 228.2,165 228.7,164.9 229.2,164.8 229.7,164.6 230.2,164.5 230.7,164.4 231.2,164.2 231.7,164.1 232.2,163.8 232.7,163.5 233.2,163.2 233.7,162.8 234.2,162.5 234.7,162.2 235.2,161.9 235.7,161.6 236.2,161.3 236.7,161 237.2,160.7 237.7,160.3 238.2,160 238.7,159.8 239.2,159.6 239.7,159.4 240.2,159.2 240.7,159 241.2,158.9 241.7,159.1 242.2,159.5 242.7,159.8 243.2,160.2 243.7,160.6 244.2,161.1 244.7,161.5 245.2,162 245.7,162.4 246.2,162.8 246.7,163.1 247.2,163.4 247.7,163.7 248.2,164 248.7,164.3 249.2,164.5 249.7,164.6 250.2,164.8 250.7,164.9 251.2,165.1 251.7,165.1 252.2,165.2 252.7,165.2 253.2,165.3 253.7,165.4 254.2,165.4 254.7,165.5 255.2,165.5 255.7,165.6 256.2,165.6 256.7,165.7 257.2,165.7 257.7,165.7 258.2,165.7 258.7,165.7 259.2,165.8 259.7,165.8 260.2,165.8 260.7,165.8 261.2,165.8 261.7,165.9 262.2,165.9 262.7,165.9 263.2,165.9 263.7,165.9 264.2,165.9 264.7,166 265.2,166 265.7,166 266.2,166 266.2,168.4 265.7,168.5 265.2,168.5 264.7,168.5 264.2,168.5 263.7,168.5 263.2,168.6 262.7,168.6 262.2,168.6 261.7,168.6 261.2,168.6 260.7,168.6 260.2,168.7 259.7,168.7 259.2,168.7 258.7,168.7 258.2,168.7 257.7,168.8 257.2,168.8 256.7,168.8 256.2,168.8 255.7,168.9 255.2,168.9 254.7,169 254.2,169 253.7,169.1 253.2,169.2 252.7,169.2 252.2,169.3 251.7,169.3 251.2,169.4 250.7,169.5 250.2,169.7 249.7,169.8 249.2,170 248.7,170.2 248.2,170.4 247.7,170.7 247.2,171 246.7,171.3 246.2,171.6 245.7,172 245.2,172.5 244.7,172.9 244.2,173.4 243.7,173.8 243.2,174.2 242.7,174.6 242.2,175 241.7,175.3 241.2,175.6 240.7,175.4 240.2,175.2 239.7,175.1 239.2,174.9 238.7,174.7 238.2,174.4 237.7,174.1 237.2,173.8 236.7,173.5 236.2,173.2 235.7,172.8 235.2,172.5 234.7,172.2 234.2,171.9 233.7,171.6 233.2,171.3 232.7,171 232.2,170.7 231.7,170.4 231.2,170.2 230.7,170.1 230.2,170 229.7,169.8 229.2,169.7 228.7,169.6 228.2,169.4 227.7,169.3 227.2,169.2 226.7,169.2 226.2,169.1 225.7,169.1 225.2,169 224.7,169 224.2,169 223.7,168.9 223.2,168.9 222.7,168.8 222.2,168.8 221.7,168.8 221.2,168.7 220.7,168.7 220.2,168.6 219.7,168.6 219.2,168.6 218.7,168.6 218.2,168.6 217.7,168.6 217.2,168.5 216.7,168.5 216.2,168.5 215.7,168.5 215.2,168.5 214.7,168.5 214.2,168.4 213.7,168.4Z" fill="url(#g7)"/><path d="M273.8,167.2m-1.3,0a1.3,1.3 0 1,0 2.6,0a1.3,1.3 0 1,0 -2.6,0" fill="#0085f9"/><path d="M206.5,186 207,186 207.5,186 208,186 208.5,186 209,186 209.5,185.9 210,185.9 210.5,185.9 211,185.9 211.5,185.9 212,185.9 212.5,185.9 213,185.9 213.5,185.9 214,185.8 214.5,185.8 215,185.8 215.5,185.8 216,185.8 216.5,185.8 217,185.8 217.5,185.7 218,185.7 218.5,185.7 219,185.7 219.5,185.7 220,185.7 220.5,185.7 221,185.6 221.5,185.6 222,185.6 222.5,185.6 223,185.6 223.5,185.6 224,185.6 224.5,185.5 225,185.5 225.5,185.5 226,185.4 226.5,185.4 227,185.3 227.5,185.2 228,185.2 228.5,185.1 229,185.1 229.5,185 230,184.9 230.5,184.9 231,184.8 231.5,184.7 232,184.6 232.5,184.4 233,184.2 233.5,184 234,183.8 234.5,183.7 235,183.5 235.5,183.3 236,183 236.5,182.8 237,182.5 237.5,182.2 238,181.9 238.5,181.6 239,181.3 239.5,181 240,180.8 240.5,180.5 241,180.3 241.5,180 242,179.8 242.5,179.5 243,179.3 243.5,179.3 244,179.8 244.5,180.2 245,180.7 245.5,181.1 246,181.6 246.5,182 247,182.5 247.5,183 248,183.4 248.5,183.6 249,183.8 249.5,184 250,184.2 250.5,184.4 251,184.6 251.5,184.7 252,184.8 252.5,185 253,185.1 253.5,185.2 254,185.2 254.5,185.2 255,185.3 255.5,185.3 256,185.3 256.5,185.4 257,185.4 257.5,185.4 258,185.5 258.5,185.5 259,185.5 259.5,185.6 260,185.6 260.5,185.6 261,185.6 261.5,185.7 262,185.7 262.5,185.7 263,185.7 263.5,185.7 264,185.7 264.5,185.8 265,185.8 265.5,185.8 266,185.8 266.5,185.8 267,185.8 267.5,185.8 268,185.9 268.5,185.9 269,185.9 269.5,185.9 270,185.9 270.5,185.9 271,185.9 271.5,186 272,186 272.5,186 273,186 273.5,186 273.5,188.6 273,188.6 272.5,188.6 272,188.7 271.5,188.7 271,188.7 270.5,188.7 270,188.7 269.5,188.7 269,188.8 268.5,188.8 268,188.8 267.5,188.8 267,188.8 266.5,188.8 266,188.8 265.5,188.9 265,188.9 264.5,188.9 264,188.9 263.5,188.9 263,188.9 262.5,188.9 262,189 261.5,189 261,189 260.5,189 260,189 259.5,189.1 259,189.1 258.5,189.1 258,189.2 257.5,189.2 257,189.2 256.5,189.3 256,189.3 255.5,189.3 255,189.4 254.5,189.4 254,189.4 253.5,189.5 253,189.5 252.5,189.7 252,189.8 251.5,189.9 251,190.1 250.5,190.2 250,190.4 249.5,190.6 249,190.9 248.5,191.1 248,191.3 247.5,191.7 247,192.1 246.5,192.6 246,193.1 245.5,193.5 245,194 244.5,194.4 244,194.9 243.5,195.3 243,195.4 242.5,195.1 242,194.9 241.5,194.6 241,194.4 240.5,194.1 240,193.9 239.5,193.6 239,193.3 238.5,193 238,192.8 237.5,192.5 237,192.2 236.5,191.9 236,191.6 235.5,191.3 235,191.2 234.5,191 234,190.8 233.5,190.6 233,190.4 232.5,190.2 232,190.1 231.5,189.9 231,189.8 230.5,189.8 230,189.7 229.5,189.6 229,189.6 228.5,189.5 228,189.5 227.5,189.4 227,189.3 226.5,189.3 226,189.2 225.5,189.1 225,189.1 224.5,189.1 224,189.1 223.5,189.1 223,189.1 222.5,189 222,189 221.5,189 221,189 220.5,189 220,189 219.5,188.9 219,188.9 218.5,188.9 218,188.9 217.5,188.9 217,188.9 216.5,188.9 216,188.8 215.5,188.8 215,188.8 214.5,188.8 214,188.8 213.5,188.8 213,188.8 212.5,188.8 212,188.7 211.5,188.7 211,188.7 210.5,188.7 210,188.7 209.5,188.7 209,188.7 208.5,188.7 208,188.7 207.5,188.6 207,188.6 206.5,188.6Z" fill="url(#g8)"/><path d="M276,187.3m-1.3,0a1.3,1.3 0 1,0 2.6,0a1.3,1.3 0 1,0 -2.6,0" fill="#0085f9"/><path d="M278.4,187.3m-1.3,0a1.3,1.3 0 1,0 2.6,0a1.3,1.3 0 1,0 -2.6,0" fill="#0085f9"/><path d="M280.6,187.3m-1.3,0a1.3,1.3 0 1,0 2.6,0a1.3,1.3 0 1,0 -2.6,0" fill="#0085f9"/><path d="M225.2,206.2 225.7,206.1 226.2,206 226.7,205.8 227.2,205.7 227.7,205.6 228.2,205.5 228.7,205.3 229.2,205.2 229.7,205 230.2,204.5 230.7,204 231.2,203.4 231.7,202.9 232.2,202.4 232.7,201.8 233.2,201.2 233.7,200.6 234.2,200.1 234.7,199.6 235.2,199.4 235.7,199.3 236.2,199.2 236.7,199.2 237.2,199.2 237.7,199.2 238.2,199.2 238.7,199.2 239.2,199.2 239.7,199.2 240.2,199.2 240.7,199.4 241.2,199.8 241.7,200.6 242.2,201.5 242.7,201.8 243.2,201.6 243.7,201.3 244.2,201.1 244.7,201 245.2,200.8 245.7,200.7 246.2,200.5 246.7,200.5 247.2,200.9 247.7,201.2 248.2,201.6 248.7,202.1 249.2,202.5 249.7,202.9 250.2,203.3 250.7,203.7 251.2,204.1 251.7,204.5 252.2,204.9 252.7,205.2 253.2,205.3 253.7,205.4 254.2,205.5 254.7,205.6 255.2,205.7 255.7,205.8 256.2,205.8 256.7,205.8 257.2,205.8 257.7,205.9 258.2,205.9 258.7,205.9 259.2,205.9 259.7,205.9 260.2,205.9 260.7,206 261.2,206 261.7,206 262.2,206 262.7,206 263.2,206 263.7,206.1 264.2,206.1 264.7,206.1 264.7,208.7 264.2,208.7 263.7,208.8 263.2,208.8 262.7,208.8 262.2,208.8 261.7,208.8 261.2,208.8 260.7,208.9 260.2,208.9 259.7,208.9 259.2,208.9 258.7,208.9 258.2,208.9 257.7,209 257.2,209 256.7,209 256.2,209 255.7,209.1 255.2,209.2 254.7,209.3 254.2,209.4 253.7,209.5 253.2,209.6 252.7,209.7 252.2,209.9 251.7,210.3 251.2,210.7 250.7,211.1 250.2,211.5 249.7,211.9 249.2,212.3 248.7,212.8 248.2,213.2 247.7,213.6 247.2,213.9 246.7,214.3 246.2,214.3 245.7,214.2 245.2,214 244.7,213.8 244.2,213.7 243.7,213.5 243.2,213.3 242.7,213 242.2,213.3 241.7,214.2 241.2,215 240.7,215.4 240.2,215.6 239.7,215.6 239.2,215.6 238.7,215.6 238.2,215.6 237.7,215.6 237.2,215.6 236.7,215.6 236.2,215.6 235.7,215.5 235.2,215.4 234.7,215.2 234.2,214.8 233.7,214.2 233.2,213.6 232.7,213 232.2,212.5 231.7,211.9 231.2,211.4 230.7,210.9 230.2,210.3 229.7,209.8 229.2,209.6 228.7,209.5 228.2,209.4 227.7,209.2 227.2,209.1 226.7,209 226.2,208.9 225.7,208.7 225.2,208.6Z" fill="url(#g9)"/><path d="M224.6,226 225.1,225.9 225.6,225.9 226.1,225.8 226.6,225.8 227.1,225.7 227.6,225.6 228.1,225.5 228.6,225.4 229.1,225.3 229.6,225.2 230.1,225 230.6,224.8 231.1,224.5 231.6,224.3 232.1,224.1 232.6,223.9 233.1,223.7 233.6,223.4 234.1,223 234.6,222.6 235.1,222.1 235.6,221.7 236.1,221.2 236.6,220.8 237.1,220.4 237.6,220.1 238.1,219.7 238.6,219.3 239.1,219.3 239.6,219.8 240.1,220.3 240.6,220.8 241.1,221.5 241.6,222.1 242.1,222.6 242.6,222.7 243.1,222.9 243.6,223.1 244.1,223.3 244.6,223.4 245.1,223.6 245.6,223.8 246.1,224 246.6,224.2 247.1,224.4 247.6,224.5 248.1,224.7 248.6,224.8 249.1,225 249.6,225.1 250.1,225.2 250.6,225.3 251.1,225.5 251.6,225.5 252.1,225.5 252.6,225.5 253.1,225.5 253.6,225.5 254.1,225.5 254.6,225.6 255.1,225.6 255.6,225.6 256.1,225.6 256.6,225.6 257.1,225.6 257.6,225.6 258.1,225.6 258.6,225.6 259.1,225.6 259.6,225.7 260.1,225.7 260.6,225.7 261.1,225.7 261.6,225.7 262.1,225.8 262.6,225.8 263.1,225.8 263.6,225.8 264.1,225.8 264.6,225.8 265.1,225.9 265.6,225.9 266.1,225.9 266.1,229.1 265.6,229.1 265.1,229.1 264.6,229.2 264.1,229.2 263.6,229.2 263.1,229.2 262.6,229.2 262.1,229.2 261.6,229.3 261.1,229.3 260.6,229.3 260.1,229.3 259.6,229.3 259.1,229.4 258.6,229.4 258.1,229.4 257.6,229.4 257.1,229.4 256.6,229.4 256.1,229.4 255.6,229.4 255.1,229.4 254.6,229.4 254.1,229.5 253.6,229.5 253.1,229.5 252.6,229.5 252.1,229.5 251.6,229.5 251.1,229.5 250.6,229.7 250.1,229.8 249.6,229.9 249.1,230 248.6,230.2 248.1,230.3 247.6,230.5 247.1,230.6 246.6,230.8 246.1,231 245.6,231.2 245.1,231.4 244.6,231.6 244.1,231.7 243.6,231.9 243.1,232.1 242.6,232.3 242.1,232.4 241.6,232.9 241.1,233.5 240.6,234.2 240.1,234.7 239.6,235.2 239.1,235.7 238.6,235.7 238.1,235.3 237.6,234.9 237.1,234.6 236.6,234.2 236.1,233.8 235.6,233.3 235.1,232.9 234.6,232.4 234.1,232 233.6,231.6 233.1,231.3 232.6,231.1 232.1,230.9 231.6,230.7 231.1,230.5 230.6,230.2 230.1,230 229.6,229.8 229.1,229.7 228.6,229.6 228.1,229.5 227.6,229.4 227.1,229.3 226.6,229.2 226.1,229.2 225.6,229.1 225.1,229.1 224.6,229Z" fill="url(#g10)"/><path d="M269.2,227.5m-1.3,0a1.3,1.3 0 1,0 2.6,0a1.3,1.3 0 1,0 -2.6,0" fill="#007cf5"/><path d="M272.7,227.5m-1.3,0a1.3,1.3 0 1,0 2.6,0a1.3,1.3 0 1,0 -2.6,0" fill="#0085f9"/><path d="M276.3,227.5m-1.3,0a1.3,1.3 0 1,0 2.6,0a1.3,1.3 0 1,0 -2.6,0" fill="#0085f9"/><path d="M227.6,246.3 228.1,246.2 228.6,246.1 229.1,246.1 229.6,246 230.1,245.9 230.6,245.8 231.1,245.7 231.6,245.5 232.1,245.3 232.6,245.1 233.1,244.9 233.6,244.7 234.1,244.4 234.6,243.7 235.1,242.8 235.6,241.9 236.1,240.9 236.6,240 237.1,239.8 237.6,239.5 238.1,239.3 238.6,239.3 239.1,239.3 239.6,239.3 240.1,239.4 240.6,239.8 241.1,240.2 241.6,240.8 242.1,242.1 242.6,242.9 243.1,243.3 243.6,243.3 244.1,243.3 244.6,243.2 245.1,243.2 245.6,243.2 246.1,243.2 246.6,243.2 247.1,243.3 247.6,243.4 248.1,243.5 248.6,243.5 249.1,243.7 249.6,244 250.1,244.3 250.6,244.6 251.1,244.9 251.6,245.2 252.1,245.4 252.6,245.6 253.1,245.8 253.6,245.8 254.1,245.8 254.6,245.8 255.1,245.8 255.6,245.8 256.1,245.8 256.6,245.8 257.1,245.8 257.6,245.8 258.1,245.8 258.6,245.9 259.1,245.9 259.6,245.9 260.1,245.9 260.6,245.9 261.1,245.9 261.6,245.9 262.1,245.9 262.6,245.9 263.1,245.9 263.6,245.9 264.1,246 264.6,246 265.1,246 265.6,246 266.1,246 266.6,246 267.1,246 267.6,246.1 268.1,246.1 268.6,246.1 269.1,246.1 269.6,246.1 270.1,246.1 270.6,246.2 271.1,246.2 271.6,246.2 271.6,249 271.1,249 270.6,249 270.1,249 269.6,249.1 269.1,249.1 268.6,249.1 268.1,249.1 267.6,249.1 267.1,249.1 266.6,249.1 266.1,249.2 265.6,249.2 265.1,249.2 264.6,249.2 264.1,249.2 263.6,249.2 263.1,249.3 262.6,249.3 262.1,249.3 261.6,249.3 261.1,249.3 260.6,249.3 260.1,249.3 259.6,249.3 259.1,249.3 258.6,249.3 258.1,249.3 257.6,249.3 257.1,249.3 256.6,249.3 256.1,249.4 255.6,249.4 255.1,249.4 254.6,249.4 254.1,249.4 253.6,249.4 253.1,249.4 252.6,249.6 252.1,249.8 251.6,250 251.1,250.3 250.6,250.5 250.1,250.9 249.6,251.2 249.1,251.5 248.6,251.6 248.1,251.7 247.6,251.8 247.1,251.9 246.6,251.9 246.1,252 245.6,252 245.1,252 244.6,251.9 244.1,251.9 243.6,251.9 243.1,251.9 242.6,252.3 242.1,253.1 241.6,254.3 241.1,254.9 240.6,255.4 240.1,255.8 239.6,255.9 239.1,255.9 238.6,255.9 238.1,255.9 237.6,255.7 237.1,255.4 236.6,255.1 236.1,254.3 235.6,253.3 235.1,252.4 234.6,251.5 234.1,250.7 233.6,250.5 233.1,250.3 232.6,250.1 232.1,249.9 231.6,249.7 231.1,249.4 230.6,249.3 230.1,249.3 229.6,249.2 229.1,249.1 228.6,249 228.1,249 227.6,248.9Z" fill="url(#g11)"/><path d="M229.1,266.2 229.6,265.9 230.1,265.7 230.6,265.4 231.1,265.1 231.6,264.7 232.1,264.2 232.6,263.8 233.1,263.4 233.6,262.8 234.1,262.2 234.6,261.6 235.1,261.1 235.6,260.7 236.1,260.3 236.6,259.9 237.1,259.6 237.6,259.5 238.1,259.4 238.6,259.4 239.1,259.4 239.6,259.4 240.1,259.4 240.6,259.5 241.1,259.6 241.6,259.8 242.1,259.9 242.6,260 243.1,260.1 243.6,260.8 244.1,261.8 244.6,263 245.1,264.3 245.6,264.9 246.1,265 246.6,265.1 247.1,265.2 247.6,265.3 248.1,265.4 248.6,265.4 249.1,265.5 249.6,265.5 250.1,265.6 250.6,265.6 251.1,265.7 251.6,265.7 252.1,265.8 252.6,265.8 253.1,265.8 253.6,265.8 254.1,265.8 254.6,265.8 255.1,265.8 255.6,265.8 256.1,265.8 256.6,265.8 257.1,265.8 257.6,265.8 258.1,265.8 258.6,265.8 259.1,265.9 259.6,265.9 260.1,265.9 260.6,265.9 261.1,265.9 261.6,265.9 262.1,265.9 262.6,265.9 263.1,265.9 263.6,265.9 264.1,265.9 264.6,265.9 265.1,266 265.6,266 266.1,266 266.6,266 267.1,266 267.6,266 268.1,266 268.6,266 269.1,266.1 269.6,266.1 270.1,266.1 270.6,266.1 271.1,266.1 271.6,266.1 272.1,266.1 272.6,266.1 273.1,266.2 273.6,266.2 273.6,269.2 273.1,269.2 272.6,269.2 272.1,269.2 271.6,269.2 271.1,269.3 270.6,269.3 270.1,269.3 269.6,269.3 269.1,269.3 268.6,269.3 268.1,269.3 267.6,269.3 267.1,269.4 266.6,269.4 266.1,269.4 265.6,269.4 265.1,269.4 264.6,269.4 264.1,269.4 263.6,269.4 263.1,269.5 262.6,269.5 262.1,269.5 261.6,269.5 261.1,269.5 260.6,269.5 260.1,269.5 259.6,269.5 259.1,269.5 258.6,269.5 258.1,269.5 257.6,269.5 257.1,269.5 256.6,269.5 256.1,269.5 255.6,269.5 255.1,269.5 254.6,269.6 254.1,269.6 253.6,269.6 253.1,269.6 252.6,269.6 252.1,269.6 251.6,269.6 251.1,269.7 250.6,269.7 250.1,269.8 249.6,269.8 249.1,269.9 248.6,269.9 248.1,270 247.6,270.1 247.1,270.1 246.6,270.2 246.1,270.3 245.6,270.4 245.1,271 244.6,272.4 244.1,273.5 243.6,274.6 243.1,275.2 242.6,275.3 242.1,275.5 241.6,275.6 241.1,275.7 240.6,275.8 240.1,276 239.6,276 239.1,275.9 238.6,275.9 238.1,275.9 237.6,275.9 237.1,275.8 236.6,275.4 236.1,275 235.6,274.6 235.1,274.3 234.6,273.7 234.1,273.1 233.6,272.6 233.1,272 232.6,271.6 232.1,271.1 231.6,270.7 231.1,270.3 230.6,270 230.1,269.7 229.6,269.4 229.1,269.2Z" fill="url(#g12)"/><path d="M278.6,267.7m-1.3,0a1.3,1.3 0 1,0 2.6,0a1.3,1.3 0 1,0 -2.6,0" fill="#ff0058"/><path d="M281.5,267.7m-1.3,0a1.3,1.3 0 1,0 2.6,0a1.3,1.3 0 1,0 -2.6,0" fill="#ff0058"/><path d="M284.4,267.7m-1.3,0a1.3,1.3 0 1,0 2.6,0a1.3,1.3 0 1,0 -2.6,0" fill="#ff0058"/><path d="M286.8,267.7m-1.3,0a1.3,1.3 0 1,0 2.6,0a1.3,1.3 0 1,0 -2.6,0" fill="#ff0058"/><path d="M205.1,286.3 205.6,286.3 206.1,286.3 206.6,286.3 207.1,286.3 207.6,286.3 208.1,286.3 208.6,286.3 209.1,286.3 209.6,286.3 210.1,286.3 210.6,286.3 211.1,286.3 211.6,286.3 212.1,286.3 212.6,286.3 213.1,286.4 213.6,286.4 214.1,286.4 214.6,286.4 215.1,286.4 215.6,286.4 216.1,286.3 216.6,286.3 217.1,286.3 217.6,286.3 218.1,286.3 218.6,286.3 219.1,286.3 219.6,286.3 220.1,286.3 220.6,286.3 221.1,286.2 221.6,286.2 222.1,286.2 222.6,286.2 223.1,286.2 223.6,286.2 224.1,286.2 224.6,286.2 225.1,286.2 225.6,286.2 226.1,286.2 226.6,286.2 227.1,286.2 227.6,286.2 228.1,286.2 228.6,286.1 229.1,286.1 229.6,286.1 230.1,286.1 230.6,286.1 231.1,286.1 231.6,286.1 232.1,286.1 232.6,286.1 233.1,286.1 233.6,286.1 234.1,286.1 234.6,286.1 235.1,286.1 235.6,286.1 236.1,286.1 236.6,286.1 237.1,286.1 237.6,286.1 238.1,286.1 238.6,286.1 239.1,286.1 239.6,286.1 240.1,286.1 240.6,286.1 241.1,279.8 241.6,279.9 242.1,279.9 242.6,280.1 243.1,280.5 243.6,280.9 244.1,281.4 244.6,282.1 245.1,282.8 245.6,283.5 246.1,284.2 246.6,284.8 247.1,285.2 247.6,285.5 248.1,285.8 248.6,286.1 249.1,286.4 249.6,286.8 249.6,288.8 249.1,289.1 248.6,289.4 248.1,289.7 247.6,290.1 247.1,290.4 246.6,290.7 246.1,291.3 245.6,292 245.1,292.7 244.6,293.4 244.1,294.1 243.6,294.6 243.1,295.1 242.6,295.5 242.1,295.6 241.6,295.7 241.1,295.7 240.6,289.5 240.1,289.5 239.6,289.5 239.1,289.5 238.6,289.5 238.1,289.5 237.6,289.5 237.1,289.4 236.6,289.4 236.1,289.4 235.6,289.4 235.1,289.4 234.6,289.4 234.1,289.4 233.6,289.4 233.1,289.4 232.6,289.4 232.1,289.4 231.6,289.4 231.1,289.4 230.6,289.4 230.1,289.4 229.6,289.4 229.1,289.4 228.6,289.4 228.1,289.4 227.6,289.4 227.1,289.4 226.6,289.4 226.1,289.4 225.6,289.4 225.1,289.4 224.6,289.4 224.1,289.4 223.6,289.3 223.1,289.3 222.6,289.3 222.1,289.3 221.6,289.3 221.1,289.3 220.6,289.3 220.1,289.3 219.6,289.3 219.1,289.3 218.6,289.2 218.1,289.2 217.6,289.2 217.1,289.2 216.6,289.2 216.1,289.2 215.6,289.2 215.1,289.2 214.6,289.2 214.1,289.2 213.6,289.2 213.1,289.2 212.6,289.2 212.1,289.2 211.6,289.2 211.1,289.2 210.6,289.2 210.1,289.2 209.6,289.2 209.1,289.2 208.6,289.2 208.1,289.2 207.6,289.2 207.1,289.2 206.6,289.3 206.1,289.3 205.6,289.3 205.1,289.3Z" fill="url(#g13)"/><path d="M231.4,306.4 231.9,305.5 232.4,304.7 232.9,303.9 233.4,303.2 233.9,302.7 234.4,302.3 234.9,301.9 235.4,301.5 235.9,301.1 236.4,300.8 236.9,300.6 237.4,300.3 237.9,300 238.4,299.8 238.9,299.6 239.4,299.5 239.9,299.3 240.4,299.3 240.9,299.9 241.4,300.5 241.9,301.3 242.4,302.2 242.9,302.8 243.4,303.2 243.9,303.6 244.4,304 244.9,304.4 245.4,304.8 245.9,305.1 246.4,305.2 246.9,305.2 247.4,305.3 247.9,305.4 248.4,305.5 248.9,305.6 249.4,305.6 249.9,305.7 250.4,305.8 250.9,305.9 251.4,305.9 251.9,305.9 252.4,306 252.9,306 253.4,306 253.9,306.1 254.4,306.1 254.9,306.1 255.4,306.2 255.9,306.2 256.4,306.2 256.9,306.3 257.4,306.3 257.9,306.3 258.4,306.3 258.9,306.3 259.4,306.3 259.9,306.3 260.4,306.3 260.9,306.3 261.4,306.3 261.9,306.3 262.4,306.4 262.9,306.4 263.4,306.4 263.9,306.4 264.4,306.4 264.9,306.4 265.4,306.4 265.9,306.4 266.4,306.4 266.9,306.4 267.4,306.4 267.9,306.5 268.4,306.5 268.9,306.5 269.4,306.5 269.9,306.5 270.4,306.5 270.9,306.5 271.4,306.5 271.9,306.5 272.4,306.5 272.9,306.5 273.4,306.6 273.4,309.2 272.9,309.2 272.4,309.2 271.9,309.2 271.4,309.2 270.9,309.2 270.4,309.2 269.9,309.2 269.4,309.2 268.9,309.2 268.4,309.3 267.9,309.3 267.4,309.3 266.9,309.3 266.4,309.3 265.9,309.3 265.4,309.3 264.9,309.3 264.4,309.3 263.9,309.3 263.4,309.3 262.9,309.4 262.4,309.4 261.9,309.4 261.4,309.4 260.9,309.4 260.4,309.4 259.9,309.4 259.4,309.4 258.9,309.4 258.4,309.4 257.9,309.4 257.4,309.5 256.9,309.5 256.4,309.5 255.9,309.5 255.4,309.6 254.9,309.6 254.4,309.6 253.9,309.7 253.4,309.7 252.9,309.7 252.4,309.8 251.9,309.8 251.4,309.8 250.9,309.9 250.4,309.9 249.9,310 249.4,310.1 248.9,310.2 248.4,310.2 247.9,310.3 247.4,310.4 246.9,310.5 246.4,310.6 245.9,310.6 245.4,310.9 244.9,311.3 244.4,311.7 243.9,312.1 243.4,312.5 242.9,312.9 242.4,313.6 241.9,314.4 241.4,315.2 240.9,315.8 240.4,316.4 239.9,316.4 239.4,316.2 238.9,316.1 238.4,315.9 237.9,315.7 237.4,315.4 236.9,315.2 236.4,314.9 235.9,314.6 235.4,314.2 234.9,313.8 234.4,313.4 233.9,313 233.4,312.6 232.9,311.8 232.4,311 231.9,310.2 231.4,309.4Z" fill="url(#g14)"/><path d="M226.2,326.7 226.7,326.6 227.2,326.6 227.7,326.6 228.2,326.6 228.7,326.6 229.2,326.5 229.7,326.5 230.2,326.5 230.7,326.5 231.2,326.5 231.7,326.5 232.2,326.2 232.7,325.8 233.2,325.3 233.7,324.9 234.2,324.5 234.7,324 235.2,323.6 235.7,323.1 236.2,322.6 236.7,322.1 237.2,321.6 237.7,321.1 238.2,320.9 238.7,320.7 239.2,320.5 239.7,320.3 240.2,320.2 240.7,320 241.2,319.8 241.7,320.3 242.2,320.9 242.7,321.6 243.2,322.2 243.7,323 244.2,323.7 244.7,324.5 245.2,324.7 245.7,325 246.2,325.2 246.7,325.5 247.2,325.7 247.7,326 248.2,326 248.7,326 249.2,326.1 249.7,326.1 250.2,326.2 250.7,326.2 251.2,326.2 251.7,326.2 252.2,326.2 252.7,326.2 253.2,326.2 253.7,326.2 254.2,326.3 254.7,326.3 255.2,326.3 255.7,326.3 256.2,326.3 256.7,326.3 257.2,326.3 257.7,326.3 258.2,326.3 258.7,326.4 259.2,326.4 259.7,326.4 260.2,326.4 260.7,326.4 261.2,326.4 261.7,326.4 262.2,326.4 262.2,329.5 261.7,329.5 261.2,329.5 260.7,329.5 260.2,329.5 259.7,329.5 259.2,329.5 258.7,329.5 258.2,329.6 257.7,329.6 257.2,329.6 256.7,329.6 256.2,329.6 255.7,329.6 255.2,329.6 254.7,329.6 254.2,329.6 253.7,329.7 253.2,329.7 252.7,329.7 252.2,329.7 251.7,329.7 251.2,329.7 250.7,329.7 250.2,329.7 249.7,329.8 249.2,329.8 248.7,329.9 248.2,329.9 247.7,330 247.2,330.2 246.7,330.5 246.2,330.7 245.7,331 245.2,331.2 244.7,331.5 244.2,332.2 243.7,332.9 243.2,333.7 242.7,334.3 242.2,335 241.7,335.6 241.2,336.1 240.7,335.9 240.2,335.7 239.7,335.6 239.2,335.4 238.7,335.2 238.2,335 237.7,334.8 237.2,334.3 236.7,333.8 236.2,333.3 235.7,332.8 235.2,332.3 234.7,331.9 234.2,331.4 233.7,331 233.2,330.6 232.7,330.1 232.2,329.7 231.7,329.4 231.2,329.4 230.7,329.4 230.2,329.4 229.7,329.4 229.2,329.4 228.7,329.3 228.2,329.3 227.7,329.3 227.2,329.3 226.7,329.3 226.2,329.3Z" fill="url(#g15)"/><path d="M223.2,328m-1.3,0a1.3,1.3 0 1,0 2.6,0a1.3,1.3 0 1,0 -2.6,0" fill="#0085f9"/><path d="M228.7,346.5 229.2,346.5 229.7,346.5 230.2,346.5 230.7,346.5 231.2,346.5 231.7,346.5 232.2,346.5 232.7,346.5 233.2,346.5 233.7,346.5 234.2,346.5 234.7,346.5 235.2,346.3 235.7,346.1 236.2,345.9 236.7,345.7 237.2,345.2 237.7,344.5 238.2,343.8 238.7,343.1 239.2,342.4 239.7,341.8 240.2,341.2 240.7,340.5 241.2,339.9 241.7,339.3 242.2,340.2 242.7,341 243.2,341.8 243.7,342.7 244.2,343.5 244.7,344.2 245.2,344.5 245.7,344.8 246.2,345.1 246.7,345.4 247.2,345.7 247.7,346 248.2,346.1 248.7,346.2 249.2,346.2 249.7,346.2 250.2,346.2 250.7,346.2 251.2,346.2 251.7,346.2 252.2,346.2 252.7,346.3 253.2,346.3 253.7,346.3 254.2,346.3 254.7,346.3 255.2,346.3 255.7,346.3 256.2,346.3 256.7,346.4 257.2,346.4 257.7,346.4 258.2,346.4 258.7,346.4 259.2,346.4 259.7,346.4 260.2,346.4 260.7,346.5 261.2,346.5 261.7,346.5 262.2,346.5 262.7,346.5 263.2,346.5 263.7,346.5 264.2,346.6 264.7,346.6 265.2,346.6 265.7,346.6 266.2,346.6 266.7,346.6 267.2,346.6 267.2,349.4 266.7,349.5 266.2,349.5 265.7,349.5 265.2,349.5 264.7,349.5 264.2,349.5 263.7,349.5 263.2,349.6 262.7,349.6 262.2,349.6 261.7,349.6 261.2,349.6 260.7,349.6 260.2,349.6 259.7,349.6 259.2,349.7 258.7,349.7 258.2,349.7 257.7,349.7 257.2,349.7 256.7,349.7 256.2,349.7 255.7,349.7 255.2,349.8 254.7,349.8 254.2,349.8 253.7,349.8 253.2,349.8 252.7,349.8 252.2,349.8 251.7,349.8 251.2,349.9 250.7,349.9 250.2,349.9 249.7,349.9 249.2,349.9 248.7,349.9 248.2,349.9 247.7,350.1 247.2,350.4 246.7,350.7 246.2,351 245.7,351.3 245.2,351.6 244.7,351.9 244.2,352.6 243.7,353.4 243.2,354.2 242.7,355.1 242.2,355.9 241.7,356.7 241.2,356.1 240.7,355.5 240.2,354.9 239.7,354.3 239.2,353.7 238.7,353 238.2,352.3 237.7,351.6 237.2,350.9 236.7,350.4 236.2,350.2 235.7,350 235.2,349.8 234.7,349.6 234.2,349.5 233.7,349.5 233.2,349.5 232.7,349.5 232.2,349.5 231.7,349.5 231.2,349.5 230.7,349.5 230.2,349.5 229.7,349.5 229.2,349.5 228.7,349.5Z" fill="url(#g16)"/><path d="M228.7,366.6 229.2,366.6 229.7,366.6 230.2,366.6 230.7,366.6 231.2,366.6 231.7,366.6 232.2,366.6 232.7,366.6 233.2,366.6 233.7,366.6 234.2,366.6 234.7,366.6 235.2,366.6 235.7,366.6 236.2,366.6 236.7,366.6 237.2,366.6 237.7,366.6 238.2,366.6 238.7,366.6 239.2,366.6 239.7,366.6 240.2,366.6 240.7,362.6 241.2,361.1 241.7,360 242.2,359.8 242.7,359.5 243.2,359.8 243.7,360 244.2,361.2 244.7,364.6 245.2,366.6 245.7,366.6 246.2,366.6 246.7,366.6 247.2,366.6 247.2,369.6 246.7,369.6 246.2,369.6 245.7,369.6 245.2,369.6 244.7,371.6 244.2,375.1 243.7,376.2 243.2,376.5 242.7,376.7 242.2,376.5 241.7,376.2 241.2,375.2 240.7,373.6 240.2,369.6 239.7,369.6 239.2,369.6 238.7,369.6 238.2,369.6 237.7,369.6 237.2,369.6 236.7,369.6 236.2,369.6 235.7,369.6 235.2,369.6 234.7,369.6 234.2,369.6 233.7,369.6 233.2,369.6 232.7,369.6 232.2,369.6 231.7,369.6 231.2,369.6 230.7,369.6 230.2,369.6 229.7,369.6 229.2,369.6 228.7,369.6Z" fill="url(#g17)"/><path d="M385.9,23 386.4,22.9 386.9,22.2 387.4,21.7 387.9,21.4 388.4,21.1 388.9,20.9 389.4,20.8 389.9,20.7 390.4,20.6 390.9,20.5 391.4,20.5 391.9,20.5 392.4,20.6 392.9,20.6 393.4,20.7 393.9,20.9 394.4,21.1 394.9,21.3 395.4,21.6 395.9,22.1 396.4,22.7 396.9,23 397.4,21.8 397.9,20.2 398.4,19.1 398.9,20.1 399.4,21.5 399.9,22.9 400.4,23.4 400.9,23.4 401.4,23.5 401.9,23.5 402.4,23.5 402.9,23.6 403.4,22.6 403.9,21.3 404.4,20.6 404.9,20 405.4,19.6 405.9,19.3 406.4,19.1 406.9,19 407.4,18.9 407.9,19 408.4,19.2 408.9,19.5 409.4,19.9 409.9,20.6 410.4,21.8 410.9,23.9 411.4,25 411.9,25 412.4,23.8 412.9,23.3 413.4,22.1 413.9,20.7 414.4,19.5 414.9,19.9 415.4,19.9 415.9,19.2 416.4,18.7 416.9,18.3 417.4,18 417.9,17.8 418.4,17.7 418.9,17.6 419.4,17.7 419.9,17.8 420.4,18.1 420.9,18.5 421.4,19 421.9,19.8 422.4,21 422.9,23.2 422.9,26.8 422.4,29 421.9,30.2 421.4,31 420.9,31.5 420.4,31.9 419.9,32.2 419.4,32.3 418.9,32.4 418.4,32.3 417.9,32.2 417.4,32 416.9,31.7 416.4,31.3 415.9,30.8 415.4,30.1 414.9,30.1 414.4,30.5 413.9,29.3 413.4,27.9 412.9,26.7 412.4,26.2 411.9,25 411.4,25 410.9,26.1 410.4,28.2 409.9,29.4 409.4,30.1 408.9,30.5 408.4,30.8 407.9,31 407.4,31.1 406.9,31 406.4,30.9 405.9,30.7 405.4,30.4 404.9,30 404.4,29.4 403.9,28.7 403.4,27.4 402.9,26.4 402.4,26.5 401.9,26.5 401.4,26.5 400.9,26.6 400.4,26.6 399.9,27.1 399.4,28.5 398.9,29.9 398.4,30.9 397.9,29.8 397.4,28.2 396.9,27 396.4,27.3 395.9,27.9 395.4,28.4 394.9,28.7 394.4,28.9 393.9,29.1 393.4,29.3 392.9,29.4 392.4,29.4 391.9,29.5 391.4,29.5 390.9,29.5 390.4,29.4 389.9,29.3 389.4,29.2 388.9,29.1 388.4,28.9 387.9,28.6 387.4,28.3 386.9,27.8 386.4,27.1 385.9,27Z" fill="url(#g18)"/><path d="M392.6,44 393.1,44 393.6,43.9 394.1,43.9 394.6,43.9 395.1,43.9 395.6,43.9 396.1,43.9 396.6,43.8 397.1,43.6 397.6,43.2 398.1,42.9 398.6,42.5 399.1,42.1 399.6,41.7 400.1,41.3 400.6,40.8 401.1,40.4 401.6,39.9 402.1,39.4 402.6,38.9 403.1,38.4 403.6,37.9 404.1,38.4 404.6,39 405.1,39.5 405.6,40 406.1,40.4 406.6,40.9 407.1,41.4 407.6,41.8 408.1,42.2 408.6,42.6 409.1,43 409.6,43.3 410.1,43.6 410.6,43.9 411.1,43.9 411.6,43.9 412.1,43.9 412.6,43.9 413.1,43.9 413.6,43.9 414.1,44 414.1,46.2 413.6,46.3 413.1,46.4 412.6,46.4 412.1,46.4 411.6,46.4 411.1,46.4 410.6,46.4 410.1,46.6 409.6,46.9 409.1,47.2 408.6,47.6 408.1,48 407.6,48.4 407.1,48.8 406.6,49.3 406.1,49.8 405.6,50.2 405.1,50.7 404.6,51.2 404.1,51.8 403.6,52.3 403.1,51.8 402.6,51.3 402.1,50.8 401.6,50.3 401.1,49.8 400.6,49.4 400.1,48.9 399.6,48.5 399.1,48.1 398.6,47.7 398.1,47.3 397.6,47 397.1,46.6 396.6,46.4 396.1,46.4 395.6,46.4 395.1,46.4 394.6,46.4 394.1,46.4 393.6,46.3 393.1,46.2 392.6,46.2Z" fill="url(#g19)"/><path d="M390,64.1 390.5,64.1 391,64.1 391.5,64.1 392,64.1 392.5,64.1 393,64 393.5,64 394,64 394.5,64 395,64 395.5,64 396,64 396.5,64 397,64 397.5,64 398,64 398.5,63.7 399,63.3 399.5,62.8 400,62.3 400.5,61.7 401,61.2 401.5,60.6 402,59.9 402.5,59.3 403,58.6 403.5,57.9 404,58.4 404.5,59.1 405,59.7 405.5,60.4 406,61 406.5,61.6 407,62.2 407.5,62.7 408,63.2 408.5,63.6 409,64 409.5,64 410,64 410.5,64 411,64 411.5,64 412,64 412.5,64 413,64 413.5,64 414,64 414.5,64 415,64 415.5,64 416,64 416.5,64 417,64 417.5,64.1 418,64.1 418.5,64.1 419,64.1 419.5,64.1 420,64.1 420.5,64.1 421,64.1 421.5,64.1 422,64.1 422,66.3 421.5,66.3 421,66.3 420.5,66.3 420,66.3 419.5,66.3 419,66.3 418.5,66.3 418,66.3 417.5,66.3 417,66.4 416.5,66.4 416,66.4 415.5,66.4 415,66.4 414.5,66.4 414,66.4 413.5,66.4 413,66.4 412.5,66.4 412,66.4 411.5,66.4 411,66.5 410.5,66.5 410,66.5 409.5,66.5 409,66.5 408.5,66.8 408,67.2 407.5,67.7 407,68.2 406.5,68.8 406,69.4 405.5,70 405,70.7 404.5,71.3 404,72 403.5,72.5 403,71.8 402.5,71.1 402,70.5 401.5,69.8 401,69.2 400.5,68.7 400,68.1 399.5,67.6 399,67.1 398.5,66.7 398,66.5 397.5,66.5 397,66.5 396.5,66.5 396,66.5 395.5,66.4 395,66.4 394.5,66.4 394,66.4 393.5,66.4 393,66.4 392.5,66.3 392,66.3 391.5,66.3 391,66.3 390.5,66.3 390,66.3Z" fill="url(#g20)"/><path d="M397,84.2 397.5,84.1 398,84.1 398.5,84.1 399,84.1 399.5,84 400,83.6 400.5,83.1 401,82.5 401.5,81.8 402,81.2 402.5,80.5 403,79.7 403.5,79 404,79.4 404.5,80.1 405,80.8 405.5,81.4 406,82 406.5,82.6 407,83.1 407.5,83.6 408,84 408.5,84.1 409,84.1 409.5,84.1 410,84.1 410.5,84.1 411,84.1 411.5,84.1 412,84.2 412.5,84.2 413,84.2 413,86.4 412.5,86.4 412,86.4 411.5,86.5 411,86.5 410.5,86.5 410,86.6 409.5,86.6 409,86.6 408.5,86.6 408,86.6 407.5,87 407,87.5 406.5,88 406,88.6 405.5,89.2 405,89.8 404.5,90.5 404,91.2 403.5,91.6 403,90.9 402.5,90.1 402,89.4 401.5,88.8 401,88.1 400.5,87.5 400,87 399.5,86.6 399,86.6 398.5,86.6 398,86.6 397.5,86.5 397,86.4Z" fill="url(#g21)"/><path d="M393.5,104.3 394,104.2 394.5,104.2 395,104.2 395.5,104.2 396,104.2 396.5,104.2 397,104.2 397.5,103.9 398,103.5 398.5,103.1 399,102.7 399.5,102.2 400,101.7 400.5,101.2 401,100.7 401.5,100.2 402,99.7 402.5,99.1 403,98.5 403.5,97.9 404,98.3 404.5,98.9 405,99.4 405.5,100 406,100.5 406.5,101 407,101.5 407.5,102 408,102.4 408.5,102.9 409,103.3 409.5,103.7 410,104 410.5,104.2 411,104.2 411.5,104.2 412,104.2 412.5,104.2 413,104.2 413.5,104.3 413.5,106.5 413,106.6 412.5,106.7 412,106.7 411.5,106.7 411,106.7 410.5,106.7 410,106.8 409.5,107.1 409,107.5 408.5,107.9 408,108.4 407.5,108.8 407,109.3 406.5,109.8 406,110.3 405.5,110.8 405,111.4 404.5,111.9 404,112.5 403.5,112.9 403,112.3 402.5,111.7 402,111.1 401.5,110.6 401,110.1 400.5,109.6 400,109.1 399.5,108.6 399,108.1 398.5,107.7 398,107.3 397.5,106.9 397,106.7 396.5,106.7 396,106.7 395.5,106.7 395,106.7 394.5,106.6 394,106.6 393.5,106.5Z" fill="url(#g22)"/><path d="M396,124.4 396.5,124.3 397,124.2 397.5,124.2 398,124.2 398.5,124.2 399,124 399.5,123.6 400,123 400.5,122.5 401,121.8 401.5,121.2 402,120.5 402.5,119.8 403,119.1 403.5,118.4 404,118.9 404.5,119.7 405,120.5 405.5,121.2 406,121.9 406.5,122.6 407,123.2 407.5,123.8 408,124.2 408.5,124.2 409,124.2 409.5,124.2 410,124.3 410,126.7 409.5,126.8 409,126.8 408.5,126.8 408,126.8 407.5,127.2 407,127.8 406.5,128.4 406,129.1 405.5,129.8 405,130.5 404.5,131.3 404,132.1 403.5,132.6 403,131.9 402.5,131.2 402,130.5 401.5,129.8 401,129.2 400.5,128.5 400,128 399.5,127.4 399,127 398.5,126.8 398,126.8 397.5,126.8 397,126.8 396.5,126.7 396,126.6Z" fill="url(#g23)"/><path d="M398.9,144.5 399.4,144.4 399.9,144.4 400.4,144.4 400.9,144 401.4,143.3 401.9,142.4 402.4,141.4 402.9,140.4 403.4,139.3 403.9,139.2 404.4,139.8 404.9,140.4 405.4,141 405.9,141.6 406.4,142.1 406.9,142.6 407.4,143.1 407.9,143.6 408.4,144 408.9,144.3 409.4,144.4 409.9,144.4 410.4,144.4 410.9,144.4 411.4,144.4 411.9,144.5 411.9,146.7 411.4,146.8 410.9,146.9 410.4,146.9 409.9,146.9 409.4,146.9 408.9,146.9 408.4,147.2 407.9,147.6 407.4,148.1 406.9,148.6 406.4,149.1 405.9,149.6 405.4,150.2 404.9,150.8 404.4,151.4 403.9,152 403.4,151.9 402.9,150.8 402.4,149.8 401.9,148.8 401.4,147.9 400.9,147.2 400.4,146.9 399.9,146.9 399.4,146.9 398.9,146.7Z" fill="url(#g24)"/><path d="M435.5,23.9 436,23.9 436.5,23.8 437,23.8 437.5,23.8 438,23.8 438.5,23.8 439,23.8 439.5,23.8 440,23.6 440.5,23.3 441,23 441.5,22.7 442,22.3 442.5,22 443,21.6 443.5,21.2 444,20.9 444.5,20.5 445,20.1 445.5,19.6 446,19.2 446.5,18.8 447,18.9 447.5,19.4 448,19.9 448.5,20.4 449,20.8 449.5,21.3 450,21.7 450.5,22.2 451,22.6 451.5,22.9 452,23.3 452.5,23.6 453,23.8 453.5,23.8 454,23.8 454.5,23.8 455,23.8 455.5,23.8 456,23.9 456,26.1 455.5,26.2 455,26.2 454.5,26.2 454,26.2 453.5,26.2 453,26.2 452.5,26.4 452,26.7 451.5,27.1 451,27.4 450.5,27.8 450,28.3 449.5,28.7 449,29.2 448.5,29.6 448,30.1 447.5,30.6 447,31.1 446.5,31.2 446,30.8 445.5,30.4 445,29.9 444.5,29.5 444,29.1 443.5,28.8 443,28.4 442.5,28 442,27.7 441.5,27.3 441,27 440.5,26.7 440,26.4 439.5,26.2 439,26.2 438.5,26.2 438,26.2 437.5,26.2 437,26.2 436.5,26.2 436,26.1 435.5,26.1Z" fill="url(#g25)"/><path d="M427.9,44.3 428.4,43.4 428.9,42.6 429.4,41.8 429.9,41.2 430.4,40.6 430.9,40.2 431.4,39.8 431.9,39.4 432.4,39.2 432.9,38.9 433.4,38.7 433.9,38.6 434.4,38.5 434.9,38.4 435.4,38.4 435.9,38.5 436.4,38.6 436.9,38.8 437.4,39.1 437.9,39.6 438.4,40.1 438.9,40.7 439.4,41.5 439.9,42.4 440.4,43.6 440.9,44.7 441.4,45.1 441.9,45.1 442.4,45.1 442.9,45.1 443.4,45.1 443.9,45.1 444.4,44.7 444.9,43.5 445.4,43.5 445.9,43.5 446.4,43.5 446.9,43.7 447.4,43.3 447.9,42.4 448.4,41.4 448.9,40.3 449.4,39.3 449.9,38.2 450.4,39 450.9,40.2 451.4,41.4 451.9,42.5 452.4,43.5 452.9,43.3 453.4,42.1 453.9,41.2 454.4,40.6 454.9,40 455.4,39.6 455.9,39.3 456.4,39.1 456.9,38.9 457.4,38.8 457.9,38.7 458.4,38.7 458.9,38.8 459.4,38.8 459.9,38.9 460.4,39.1 460.9,39.2 461.4,39.4 461.9,39.7 462.4,40 462.9,40.3 463.4,40.7 463.9,41.1 464.4,41.7 464.9,42.3 465.4,43.1 465.9,44.1 465.9,46.1 465.4,47.1 464.9,47.9 464.4,48.5 463.9,49.1 463.4,49.5 462.9,49.9 462.4,50.2 461.9,50.5 461.4,50.8 460.9,51 460.4,51.1 459.9,51.3 459.4,51.4 458.9,51.4 458.4,51.5 457.9,51.5 457.4,51.4 456.9,51.3 456.4,51.1 455.9,50.9 455.4,50.6 454.9,50.2 454.4,49.6 453.9,49 453.4,48.1 452.9,46.9 452.4,46.7 451.9,47.7 451.4,48.8 450.9,50 450.4,51.2 449.9,52 449.4,50.9 448.9,49.9 448.4,48.8 447.9,47.8 447.4,46.9 446.9,46.5 446.4,46.7 445.9,46.7 445.4,46.7 444.9,46.7 444.4,45.5 443.9,45.1 443.4,45.1 442.9,45.1 442.4,45.1 441.9,45.1 441.4,45.1 440.9,45.5 440.4,46.6 439.9,47.8 439.4,48.7 438.9,49.5 438.4,50.1 437.9,50.6 437.4,51.1 436.9,51.4 436.4,51.6 435.9,51.7 435.4,51.8 434.9,51.8 434.4,51.7 433.9,51.6 433.4,51.5 432.9,51.3 432.4,51 431.9,50.8 431.4,50.4 430.9,50 430.4,49.6 429.9,49 429.4,48.4 428.9,47.6 428.4,46.8 427.9,45.9Z" fill="url(#g26)"/><path d="M437.3,64.1 437.8,64 438.3,64 438.8,64 439.3,64 439.8,64 440.3,64 440.8,63.9 441.3,63.6 441.8,63.1 442.3,62.7 442.8,62.3 443.3,61.8 443.8,61.3 444.3,60.8 444.8,60.2 445.3,59.7 445.8,59.1 446.3,58.5 446.8,58.1 447.3,58.7 447.8,59.3 448.3,59.8 448.8,60.4 449.3,60.9 449.8,61.4 450.3,61.9 450.8,62.4 451.3,62.8 451.8,63.2 452.3,63.6 452.8,63.9 453.3,64 453.8,64 454.3,64 454.8,64 455.3,64 455.8,64 456.3,64.1 456.3,66.3 455.8,66.4 455.3,66.5 454.8,66.5 454.3,66.5 453.8,66.5 453.3,66.5 452.8,66.5 452.3,66.8 451.8,67.2 451.3,67.6 450.8,68 450.3,68.5 449.8,69 449.3,69.5 448.8,70 448.3,70.6 447.8,71.1 447.3,71.7 446.8,72.3 446.3,71.9 445.8,71.3 445.3,70.7 444.8,70.2 444.3,69.6 443.8,69.1 443.3,68.6 442.8,68.1 442.3,67.7 441.8,67.3 441.3,66.8 440.8,66.5 440.3,66.5 439.8,66.5 439.3,66.5 438.8,66.5 438.3,66.5 437.8,66.4 437.3,66.3Z" fill="url(#g27)"/><path d="M433.7,84.2 434.2,84.2 434.7,84.1 435.2,84.1 435.7,84.1 436.2,84.1 436.7,84.1 437.2,84.1 437.7,84.1 438.2,84.1 438.7,83.9 439.2,83.7 439.7,83.4 440.2,83.1 440.7,82.8 441.2,82.5 441.7,82.2 442.2,81.8 442.7,81.5 443.2,81.1 443.7,80.7 444.2,80.4 444.7,80 445.2,79.6 445.7,79.1 446.2,78.7 446.7,78.3 447.2,78.7 447.7,79.1 448.2,79.5 448.7,79.8 449.2,80.2 449.7,80.6 450.2,80.9 450.7,81.3 451.2,81.6 451.7,81.9 452.2,82.2 452.7,82.5 453.2,82.8 453.7,83.1 454.2,83.4 454.7,83.6 455.2,83.8 455.7,84 456.2,84.1 456.7,84.1 457.2,84.1 457.7,84.1 458.2,84.1 458.7,84.1 459.2,84.1 459.7,84.1 460.2,84.2 460.7,84.2 460.7,86.4 460.2,86.4 459.7,86.5 459.2,86.6 458.7,86.6 458.2,86.6 457.7,86.6 457.2,86.6 456.7,86.6 456.2,86.6 455.7,86.6 455.2,86.8 454.7,87 454.2,87.2 453.7,87.5 453.2,87.8 452.7,88.1 452.2,88.4 451.7,88.7 451.2,89 450.7,89.3 450.2,89.7 449.7,90 449.2,90.4 448.7,90.8 448.2,91.1 447.7,91.5 447.2,91.9 446.7,92.3 446.2,91.9 445.7,91.5 445.2,91 444.7,90.6 444.2,90.2 443.7,89.9 443.2,89.5 442.7,89.1 442.2,88.8 441.7,88.4 441.2,88.1 440.7,87.8 440.2,87.5 439.7,87.2 439.2,86.9 438.7,86.7 438.2,86.6 437.7,86.6 437.2,86.6 436.7,86.6 436.2,86.6 435.7,86.6 435.2,86.6 434.7,86.5 434.2,86.4 433.7,86.4Z" fill="url(#g28)"/><path d="M438,104.3 438.5,104.2 439,104.2 439.5,104.2 440,104.2 440.5,104.2 441,104.2 441.5,103.8 442,103.4 442.5,102.9 443,102.4 443.5,101.9 444,101.3 444.5,100.8 445,100.1 445.5,99.5 446,98.8 446.5,98.2 447,98.3 447.5,98.9 448,99.6 448.5,100.2 449,100.7 449.5,101.3 450,101.8 450.5,102.4 451,102.8 451.5,103.3 452,103.7 452.5,104.1 453,104.2 453.5,104.2 454,104.2 454.5,104.2 455,104.2 455.5,104.3 455.5,106.5 455,106.6 454.5,106.7 454,106.7 453.5,106.7 453,106.7 452.5,106.7 452,107.1 451.5,107.5 451,108 450.5,108.4 450,109 449.5,109.5 449,110.1 448.5,110.6 448,111.2 447.5,111.9 447,112.5 446.5,112.6 446,112 445.5,111.3 445,110.7 444.5,110 444,109.5 443.5,108.9 443,108.4 442.5,107.9 442,107.4 441.5,107 441,106.7 440.5,106.7 440,106.7 439.5,106.7 439,106.7 438.5,106.6 438,106.5Z" fill="url(#g29)"/><path d="M438.9,124.4 439.4,124.3 439.9,124.2 440.4,124.2 440.9,124.2 441.4,124.2 441.9,124.1 442.4,123.7 442.9,123.2 443.4,122.7 443.9,122.1 444.4,121.6 444.9,120.9 445.4,120.3 445.9,119.6 446.4,118.9 446.9,118.7 447.4,119.2 447.9,119.7 448.4,120.2 448.9,120.7 449.4,121.1 449.9,121.6 450.4,122 450.9,122.4 451.4,122.8 451.9,123.2 452.4,123.6 452.9,123.9 453.4,124.1 453.9,124.2 454.4,124.2 454.9,124.2 455.4,124.2 455.9,124.2 456.4,124.2 456.9,124.3 457.4,124.4 457.4,126.6 456.9,126.7 456.4,126.8 455.9,126.8 455.4,126.8 454.9,126.8 454.4,126.8 453.9,126.8 453.4,126.9 452.9,127.1 452.4,127.4 451.9,127.8 451.4,128.2 450.9,128.6 450.4,129 449.9,129.4 449.4,129.9 448.9,130.3 448.4,130.8 447.9,131.3 447.4,131.8 446.9,132.3 446.4,132.1 445.9,131.4 445.4,130.7 444.9,130.1 444.4,129.4 443.9,128.9 443.4,128.3 442.9,127.8 442.4,127.3 441.9,126.9 441.4,126.8 440.9,126.8 440.4,126.8 439.9,126.8 439.4,126.7 438.9,126.6Z" fill="url(#g30)"/><path d="M460.2,125.5m-1.3,0a1.3,1.3 0 1,0 2.6,0a1.3,1.3 0 1,0 -2.6,0" fill="#f80067"/><path d="M438.9,144.5 439.4,144.4 439.9,144.4 440.4,144.4 440.9,144.4 441.4,144.4 441.9,144.2 442.4,143.7 442.9,143.2 443.4,142.6 443.9,142 444.4,141.4 444.9,140.7 445.4,140 445.9,139.3 446.4,138.6 446.9,138.4 447.4,139.2 447.9,140 448.4,140.7 448.9,141.4 449.4,142.1 449.9,142.7 450.4,143.3 450.9,143.9 451.4,144.4 451.9,144.4 452.4,144.4 452.9,144.4 453.4,144.4 453.9,144.5 453.9,146.7 453.4,146.8 452.9,146.9 452.4,146.9 451.9,146.9 451.4,146.9 450.9,147.3 450.4,147.9 449.9,148.5 449.4,149.1 448.9,149.8 448.4,150.5 447.9,151.2 447.4,152 446.9,152.8 446.4,152.6 445.9,151.9 445.4,151.2 444.9,150.5 444.4,149.8 443.9,149.2 443.4,148.6 442.9,148 442.4,147.5 441.9,147 441.4,146.9 440.9,146.9 440.4,146.9 439.9,146.9 439.4,146.8 438.9,146.7Z" fill="url(#g31)"/><path d="M475.8,23.9 476.3,23.9 476.8,23.9 477.3,23.9 477.8,23.9 478.3,23.9 478.8,23.9 479.3,23.8 479.8,23.8 480.3,23.8 480.8,23.8 481.3,23.8 481.8,23.8 482.3,23.8 482.8,23.8 483.3,23.8 483.8,23.8 484.3,23.8 484.8,23.7 485.3,23.2 485.8,22.7 486.3,22.1 486.8,21.4 487.3,20.7 487.8,20 488.3,19.3 488.8,18.5 489.3,17.7 489.8,17.9 490.3,18.7 490.8,19.4 491.3,20.2 491.8,20.9 492.3,21.5 492.8,22.2 493.3,22.8 493.8,23.3 494.3,23.7 494.8,23.8 495.3,23.8 495.8,23.8 496.3,23.8 496.8,23.8 497.3,23.8 497.8,23.8 498.3,23.8 498.8,23.8 499.3,23.8 499.8,23.8 500.3,23.8 500.8,23.8 501.3,23.8 501.8,23.8 502.3,23.8 502.8,23.8 503.3,23.9 503.8,23.9 504.3,23.9 504.8,23.9 505.3,23.9 505.8,23.9 506.3,23.9 506.8,23.9 507.3,23.9 507.8,23.9 508.3,23.9 508.8,23.9 508.8,26.1 508.3,26.1 507.8,26.1 507.3,26.1 506.8,26.1 506.3,26.1 505.8,26.1 505.3,26.1 504.8,26.1 504.3,26.1 503.8,26.1 503.3,26.1 502.8,26.2 502.3,26.2 501.8,26.2 501.3,26.2 500.8,26.2 500.3,26.2 499.8,26.2 499.3,26.2 498.8,26.2 498.3,26.2 497.8,26.2 497.3,26.2 496.8,26.2 496.3,26.2 495.8,26.2 495.3,26.2 494.8,26.2 494.3,26.3 493.8,26.7 493.3,27.2 492.8,27.8 492.3,28.5 491.8,29.1 491.3,29.8 490.8,30.6 490.3,31.3 489.8,32.1 489.3,32.3 488.8,31.5 488.3,30.7 487.8,30 487.3,29.3 486.8,28.6 486.3,27.9 485.8,27.3 485.3,26.8 484.8,26.3 484.3,26.2 483.8,26.2 483.3,26.2 482.8,26.2 482.3,26.2 481.8,26.2 481.3,26.2 480.8,26.2 480.3,26.2 479.8,26.2 479.3,26.2 478.8,26.1 478.3,26.1 477.8,26.1 477.3,26.1 476.8,26.1 476.3,26.1 475.8,26.1Z" fill="url(#g32)"/><path d="M480.3,44 480.8,43.9 481.3,43.9 481.8,43.9 482.3,43.9 482.8,43.9 483.3,43.9 483.8,43.7 484.3,43.4 484.8,43 485.3,42.6 485.8,42.1 486.3,41.6 486.8,41.1 487.3,40.6 487.8,40.1 488.3,39.5 488.8,38.9 489.3,38.3 489.8,38.4 490.3,39 490.8,39.5 491.3,40.1 491.8,40.6 492.3,41.1 492.8,41.5 493.3,42 493.8,42.4 494.3,42.9 494.8,43.2 495.3,43.6 495.8,43.9 496.3,43.9 496.8,43.9 497.3,43.9 497.8,43.9 498.3,43.9 498.8,43.9 499.3,44 499.3,46.2 498.8,46.3 498.3,46.4 497.8,46.4 497.3,46.4 496.8,46.4 496.3,46.4 495.8,46.4 495.3,46.6 494.8,47 494.3,47.3 493.8,47.8 493.3,48.2 492.8,48.7 492.3,49.1 491.8,49.6 491.3,50.1 490.8,50.7 490.3,51.2 489.8,51.8 489.3,51.9 488.8,51.3 488.3,50.7 487.8,50.1 487.3,49.6 486.8,49.1 486.3,48.6 485.8,48.1 485.3,47.6 484.8,47.2 484.3,46.8 483.8,46.5 483.3,46.4 482.8,46.4 482.3,46.4 481.8,46.4 481.3,46.4 480.8,46.3 480.3,46.2Z" fill="url(#g33)"/><path d="M470.2,64.4 470.7,63.5 471.2,62.8 471.7,62.4 472.2,62 472.7,61.8 473.2,61.7 473.7,61.6 474.2,61.6 474.7,61.7 475.2,61.8 475.7,61.9 476.2,62.1 476.7,62.5 477.2,62.9 477.7,63.5 478.2,63 478.7,63 479.2,63 479.7,63 480.2,63 480.7,63 481.2,62.6 481.7,61.7 482.2,62.6 482.7,63 483.2,62.6 483.7,61.3 484.2,59.4 484.7,58.2 485.2,59.9 485.7,61.6 486.2,62.2 486.7,62.2 487.2,62.2 487.7,62.2 488.2,62.2 488.7,62.2 489.2,62.2 489.7,62.2 490.2,62.2 490.7,61.5 491.2,59.7 491.7,58.4 492.2,59.6 492.7,61.3 493.2,62.2 493.7,62.2 494.2,63 494.7,63 495.2,63 495.7,63 496.2,62.8 496.7,62.1 497.2,62.3 497.7,62.9 498.2,63 498.7,63 499.2,63 499.7,63 500.2,63.8 500.7,63.8 501.2,63.8 501.7,63.9 502.2,63.9 502.2,66.5 501.7,66.5 501.2,66.6 500.7,66.6 500.2,66.6 499.7,67.4 499.2,67.4 498.7,67.4 498.2,67.4 497.7,67.5 497.2,68.1 496.7,68.3 496.2,67.6 495.7,67.4 495.2,67.4 494.7,67.4 494.2,67.4 493.7,68.2 493.2,68.2 492.7,69.1 492.2,70.8 491.7,72 491.2,70.7 490.7,68.9 490.2,68.2 489.7,68.2 489.2,68.2 488.7,68.2 488.2,68.2 487.7,68.2 487.2,68.2 486.7,68.2 486.2,68.2 485.7,68.8 485.2,70.5 484.7,72.2 484.2,71 483.7,69.1 483.2,67.8 482.7,67.4 482.2,67.8 481.7,68.7 481.2,67.8 480.7,67.4 480.2,67.4 479.7,67.4 479.2,67.4 478.7,67.4 478.2,67.4 477.7,66.9 477.2,67.5 476.7,67.9 476.2,68.3 475.7,68.5 475.2,68.6 474.7,68.7 474.2,68.8 473.7,68.8 473.2,68.7 472.7,68.6 472.2,68.4 471.7,68 471.2,67.6 470.7,66.9 470.2,66Z" fill="url(#g34)"/><path d="M482,84.2 482.5,84.1 483,84.1 483.5,84.1 484,84.1 484.5,84.1 485,83.9 485.5,83.5 486,83 486.5,82.5 487,81.9 487.5,81.3 488,80.7 488.5,80.1 489,79.4 489.5,78.7 490,79.3 490.5,79.9 491,80.4 491.5,80.9 492,81.5 492.5,82 493,82.4 493.5,82.9 494,83.3 494.5,83.7 495,84 495.5,84.1 496,84.1 496.5,84.1 497,84.1 497.5,84.1 498,84.2 498,86.4 497.5,86.6 497,86.6 496.5,86.6 496,86.6 495.5,86.6 495,86.6 494.5,86.9 494,87.3 493.5,87.7 493,88.2 492.5,88.6 492,89.1 491.5,89.7 491,90.2 490.5,90.7 490,91.3 489.5,91.9 489,91.2 488.5,90.5 488,89.9 487.5,89.3 487,88.7 486.5,88.1 486,87.6 485.5,87.1 485,86.7 484.5,86.6 484,86.6 483.5,86.6 483,86.6 482.5,86.5 482,86.4Z" fill="url(#g35)"/><path d="M482,104.3 482.5,104.2 483,104.2 483.5,104.2 484,104.2 484.5,104.2 485,103.9 485.5,103.4 486,102.8 486.5,102.2 487,101.6 487.5,100.9 488,100.2 488.5,99.5 489,98.7 489.5,97.9 490,98.6 490.5,99.3 491,100 491.5,100.6 492,101.2 492.5,101.8 493,102.4 493.5,102.9 494,103.4 494.5,103.9 495,104.2 495.5,104.2 496,104.2 496.5,104.2 497,104.2 497.5,104.2 498,104.2 498.5,104.2 499,104.2 499.5,104.2 500,104.2 500.5,104.2 501,104.2 501.5,104.3 502,104.3 502.5,104.3 503,104.3 503.5,104.3 504,104.3 504.5,104.3 504.5,106.5 504,106.5 503.5,106.5 503,106.5 502.5,106.5 502,106.5 501.5,106.5 501,106.6 500.5,106.6 500,106.6 499.5,106.6 499,106.6 498.5,106.6 498,106.6 497.5,106.6 497,106.7 496.5,106.7 496,106.7 495.5,106.7 495,106.7 494.5,106.9 494,107.4 493.5,107.9 493,108.4 492.5,109 492,109.6 491.5,110.2 491,110.8 490.5,111.5 490,112.2 489.5,112.9 489,112.1 488.5,111.3 488,110.6 487.5,109.9 487,109.2 486.5,108.6 486,108 485.5,107.4 485,106.9 484.5,106.7 484,106.7 483.5,106.7 483,106.7 482.5,106.6 482,106.5Z" fill="url(#g36)"/><path d="M483.6,124.4 484.1,124.3 484.6,124.2 485.1,124.2 485.6,124.2 486.1,123.9 486.6,123.3 487.1,122.6 487.6,121.8 488.1,121 488.6,120.1 489.1,119.3 489.6,118.6 490.1,119.4 490.6,120.1 491.1,120.7 491.6,121.4 492.1,122 492.6,122.6 493.1,123.1 493.6,123.6 494.1,124.1 494.6,124.2 495.1,124.2 495.6,124.2 496.1,124.2 496.6,124.3 497.1,124.4 497.1,126.6 496.6,126.7 496.1,126.8 495.6,126.8 495.1,126.8 494.6,126.8 494.1,126.9 493.6,127.4 493.1,127.9 492.6,128.4 492.1,129 491.6,129.6 491.1,130.3 490.6,130.9 490.1,131.6 489.6,132.4 489.1,131.7 488.6,130.9 488.1,130 487.6,129.2 487.1,128.4 486.6,127.7 486.1,127.1 485.6,126.8 485.1,126.8 484.6,126.8 484.1,126.7 483.6,126.6Z" fill="url(#g37)"/><path d="M484.4,144.5 484.9,144.4 485.4,144.4 485.9,144.4 486.4,144.1 486.9,143.4 487.4,142.5 487.9,141.6 488.4,140.6 488.9,139.5 489.4,138.3 489.9,138.8 490.4,139.6 490.9,140.5 491.4,141.2 491.9,142 492.4,142.6 492.9,143.3 493.4,143.9 493.9,144.4 494.4,144.4 494.9,144.4 495.4,144.4 495.9,144.4 495.9,146.8 495.4,146.9 494.9,146.9 494.4,146.9 493.9,146.9 493.4,147.3 492.9,147.9 492.4,148.6 491.9,149.2 491.4,150 490.9,150.7 490.4,151.6 489.9,152.4 489.4,152.9 488.9,151.7 488.4,150.6 487.9,149.6 487.4,148.7 486.9,147.8 486.4,147.1 485.9,146.9 485.4,146.9 484.9,146.8 484.4,146.7Z" fill="url(#g38)"/><path d="M525,23.9 525.5,23.8 526,23.8 526.5,23.8 527,23.8 527.5,23.7 528,23.3 528.5,22.8 529,22.2 529.5,21.6 530,21 530.5,20.3 531,19.6 531.5,18.8 532,18.1 532.5,17.9 533,18.6 533.5,19.2 534,19.9 534.5,20.5 535,21.1 535.5,21.7 536,22.3 536.5,22.8 537,23.3 537.5,23.7 538,23.7 538.5,23.8 539,23.8 539.5,23.8 540,23.8 540,26.2 539.5,26.2 539,26.2 538.5,26.2 538,26.3 537.5,26.3 537,26.7 536.5,27.2 536,27.7 535.5,28.3 535,28.9 534.5,29.5 534,30.1 533.5,30.8 533,31.4 532.5,32.1 532,31.9 531.5,31.2 531,30.4 530.5,29.7 530,29 529.5,28.4 529,27.8 528.5,27.2 528,26.7 527.5,26.3 527,26.2 526.5,26.2 526,26.2 525.5,26.2 525,26.1Z" fill="url(#g39)"/><path d="M519.6,44 520.1,44 520.6,43.9 521.1,43.9 521.6,43.9 522.1,43.9 522.6,43.9 523.1,43.9 523.6,43.9 524.1,43.9 524.6,43.6 525.1,43.4 525.6,43.1 526.1,42.7 526.6,42.4 527.1,42.1 527.6,41.7 528.1,41.3 528.6,41 529.1,40.6 529.6,40.2 530.1,39.7 530.6,39.3 531.1,38.9 531.6,38.4 532.1,38 532.6,38.1 533.1,38.5 533.6,38.9 534.1,39.3 534.6,39.7 535.1,40.1 535.6,40.5 536.1,40.9 536.6,41.2 537.1,41.6 537.6,41.9 538.1,42.2 538.6,42.6 539.1,42.9 539.6,43.2 540.1,43.5 540.6,43.7 541.1,43.9 541.6,43.9 542.1,43.9 542.6,43.9 543.1,43.9 543.6,43.9 544.1,43.9 544.6,43.9 545.1,43.9 545.6,44 545.6,46.2 545.1,46.3 544.6,46.3 544.1,46.4 543.6,46.4 543.1,46.4 542.6,46.4 542.1,46.4 541.6,46.4 541.1,46.4 540.6,46.5 540.1,46.7 539.6,47 539.1,47.3 538.6,47.6 538.1,48 537.6,48.3 537.1,48.6 536.6,49 536.1,49.3 535.6,49.7 535.1,50.1 534.6,50.5 534.1,50.9 533.6,51.3 533.1,51.7 532.6,52.1 532.1,52.2 531.6,51.8 531.1,51.3 530.6,50.9 530.1,50.5 529.6,50 529.1,49.6 528.6,49.2 528.1,48.9 527.6,48.5 527.1,48.1 526.6,47.8 526.1,47.5 525.6,47.1 525.1,46.8 524.6,46.6 524.1,46.4 523.6,46.4 523.1,46.4 522.6,46.4 522.1,46.4 521.6,46.4 521.1,46.4 520.6,46.3 520.1,46.2 519.6,46.2Z" fill="url(#g40)"/><path d="M525,64.1 525.5,64 526,64 526.5,64 527,64 527.5,64 528,63.7 528.5,63.2 529,62.7 529.5,62.1 530,61.5 530.5,60.8 531,60.1 531.5,59.4 532,58.7 532.5,58.4 533,59.1 533.5,59.7 534,60.2 534.5,60.8 535,61.3 535.5,61.8 536,62.3 536.5,62.8 537,63.2 537.5,63.6 538,63.9 538.5,64 539,64 539.5,64 540,64 540.5,64 541,64.1 541,66.3 540.5,66.4 540,66.5 539.5,66.5 539,66.5 538.5,66.5 538,66.5 537.5,66.8 537,67.2 536.5,67.6 536,68.1 535.5,68.6 535,69.1 534.5,69.6 534,70.2 533.5,70.7 533,71.3 532.5,72 532,71.7 531.5,71 531,70.3 530.5,69.6 530,68.9 529.5,68.3 529,67.7 528.5,67.2 528,66.7 527.5,66.5 527,66.5 526.5,66.5 526,66.5 525.5,66.4 525,66.3Z" fill="url(#g41)"/><path d="M520,83 520.5,83 521,83 521.5,82.7 522,82.5 522.5,82.4 523,82.4 523.5,82.5 524,82.6 524.5,82.8 525,82.9 525.5,83 526,83 526.5,83 527,83 527.5,82.2 528,80.8 528.5,79.8 529,81.2 529.5,82.6 530,83 530.5,83 531,83 531.5,83 532,82.6 532.5,81.1 533,79.4 533.5,78.8 534,80.3 534.5,82.1 535,83 535.5,83 536,83 536.5,82.9 537,82.2 537.5,81.1 538,80 538.5,80.6 539,81.7 539.5,82.8 540,83 540.5,83 541,83 541.5,83 542,83 542.5,83 543,82.9 543.5,82.2 544,81.7 544.5,82.5 545,83 545.5,83 546,83 546.5,82.9 547,82.8 547.5,82.9 548,83 548.5,83 549,83.5 549.5,84.3 549.5,86.3 549,87.1 548.5,87.6 548,87.6 547.5,87.7 547,87.8 546.5,87.7 546,87.6 545.5,87.6 545,87.6 544.5,88.1 544,88.9 543.5,88.4 543,87.7 542.5,87.6 542,87.6 541.5,87.6 541,87.6 540.5,87.6 540,87.6 539.5,87.8 539,88.9 538.5,90 538,90.6 537.5,89.5 537,88.4 536.5,87.7 536,87.6 535.5,87.6 535,87.6 534.5,88.5 534,90.3 533.5,91.8 533,91.2 532.5,89.5 532,88 531.5,87.6 531,87.6 530.5,87.6 530,87.6 529.5,88 529,89.4 528.5,90.8 528,89.8 527.5,88.4 527,87.6 526.5,87.6 526,87.6 525.5,87.6 525,87.7 524.5,87.8 524,88 523.5,88.1 523,88.2 522.5,88.2 522,88.1 521.5,87.9 521,87.6 520.5,87.6 520,87.6Z" fill="url(#g42)"/><path d="M526.5,104.3 527,104.2 527.5,104.2 528,104.2 528.5,104.2 529,103.8 529.5,103.1 530,102.4 530.5,101.6 531,100.8 531.5,99.9 532,99 532.5,98.7 533,99.5 533.5,100.2 534,100.9 534.5,101.6 535,102.2 535.5,102.8 536,103.3 536.5,103.9 537,104.2 537.5,104.2 538,104.2 538.5,104.2 539,104.2 539.5,104.3 539.5,106.5 539,106.6 538.5,106.7 538,106.7 537.5,106.7 537,106.7 536.5,106.9 536,107.5 535.5,108 535,108.6 534.5,109.2 534,109.9 533.5,110.6 533,111.3 532.5,112.1 532,111.8 531.5,110.9 531,110 530.5,109.2 530,108.4 529.5,107.7 529,107 528.5,106.7 528,106.7 527.5,106.7 527,106.6 526.5,106.5Z" fill="url(#g43)"/><path d="M521.7,124.4 522.2,124.4 522.7,124.4 523.2,124.4 523.7,124.4 524.2,124.4 524.7,124.3 525.2,124.3 525.7,124.3 526.2,124.3 526.7,124.3 527.2,124.3 527.7,124.2 528.2,124.2 528.7,124.2 529.2,123.8 529.7,123.1 530.2,122.2 530.7,121.3 531.2,120.4 531.7,119.3 532.2,118.2 532.7,118.7 533.2,119.5 533.7,120.2 534.2,121 534.7,121.7 535.2,122.3 535.7,122.9 536.2,123.5 536.7,124 537.2,124.2 537.7,124.2 538.2,124.2 538.7,124.2 539.2,124.4 539.2,126.6 538.7,126.8 538.2,126.8 537.7,126.8 537.2,126.8 536.7,127 536.2,127.5 535.7,128.1 535.2,128.7 534.7,129.3 534.2,130 533.7,130.8 533.2,131.5 532.7,132.3 532.2,132.8 531.7,131.7 531.2,130.6 530.7,129.7 530.2,128.8 529.7,127.9 529.2,127.2 528.7,126.8 528.2,126.8 527.7,126.8 527.2,126.7 526.7,126.7 526.2,126.7 525.7,126.7 525.2,126.7 524.7,126.7 524.2,126.6 523.7,126.6 523.2,126.6 522.7,126.6 522.2,126.6 521.7,126.6Z" fill="url(#g44)"/><path d="M526,144.5 526.5,144.4 527,144.4 527.5,144.4 528,144.4 528.5,144.1 529,143.5 529.5,142.8 530,142.1 530.5,141.3 531,140.5 531.5,139.6 532,138.7 532.5,138.7 533,140.2 533.5,141.5 534,142.7 534.5,143.8 535,144.4 535.5,144.4 536,144.4 536,146.8 535.5,146.9 535,146.9 534.5,147.4 534,148.5 533.5,149.7 533,151 532.5,152.5 532,152.5 531.5,151.6 531,150.7 530.5,149.9 530,149.1 529.5,148.4 529,147.7 528.5,147.1 528,146.9 527.5,146.9 527,146.9 526.5,146.8 526,146.7Z" fill="url(#g45)"/><path d="M565.3,23.9 565.8,23.8 566.3,23.8 566.8,23.8 567.3,23.8 567.8,23.8 568.3,23.7 568.8,23.7 569.3,23.3 569.8,22.9 570.3,22.5 570.8,22 571.3,21.6 571.8,21.1 572.3,20.6 572.8,20.1 573.3,19.5 573.8,19 574.3,18.4 574.8,17.8 575.3,17.2 575.8,17.8 576.3,18.4 576.8,19 577.3,19.5 577.8,20.1 578.3,20.6 578.8,21.1 579.3,21.6 579.8,22.1 580.3,22.5 580.8,23 581.3,23.4 581.8,23.7 582.3,23.7 582.8,23.8 583.3,23.8 583.8,23.8 584.3,23.8 584.8,23.9 584.8,26.1 584.3,26.2 583.8,26.2 583.3,26.2 582.8,26.2 582.3,26.3 581.8,26.3 581.3,26.6 580.8,27 580.3,27.5 579.8,27.9 579.3,28.4 578.8,28.9 578.3,29.4 577.8,29.9 577.3,30.5 576.8,31 576.3,31.6 575.8,32.2 575.3,32.8 574.8,32.2 574.3,31.6 573.8,31 573.3,30.5 572.8,29.9 572.3,29.4 571.8,28.9 571.3,28.4 570.8,28 570.3,27.5 569.8,27.1 569.3,26.7 568.8,26.3 568.3,26.3 567.8,26.2 567.3,26.2 566.8,26.2 566.3,26.2 565.8,26.2 565.3,26.1Z" fill="url(#g46)"/><path d="M567.1,44 567.6,43.9 568.1,43.9 568.6,43.9 569.1,43.9 569.6,43.9 570.1,43.8 570.6,43.4 571.1,42.9 571.6,42.4 572.1,41.9 572.6,41.3 573.1,40.7 573.6,40.1 574.1,39.5 574.6,38.8 575.1,38.1 575.6,38.2 576.1,38.8 576.6,39.4 577.1,40 577.6,40.6 578.1,41.2 578.6,41.7 579.1,42.2 579.6,42.7 580.1,43.1 580.6,43.5 581.1,43.9 581.6,43.9 582.1,43.9 582.6,43.9 583.1,43.9 583.6,43.9 584.1,44 584.1,46.2 583.6,46.3 583.1,46.4 582.6,46.4 582.1,46.4 581.6,46.4 581.1,46.4 580.6,46.7 580.1,47.1 579.6,47.5 579.1,48 578.6,48.5 578.1,49 577.6,49.6 577.1,50.2 576.6,50.8 576.1,51.4 575.6,52 575.1,52.1 574.6,51.4 574.1,50.7 573.6,50.1 573.1,49.5 572.6,48.9 572.1,48.3 571.6,47.8 571.1,47.3 570.6,46.8 570.1,46.4 569.6,46.4 569.1,46.4 568.6,46.4 568.1,46.4 567.6,46.3 567.1,46.2Z" fill="url(#g47)"/><path d="M568,64.1 568.5,64 569,64 569.5,64 570,64 570.5,64 571,63.6 571.5,63.1 572,62.5 572.5,61.8 573,61.2 573.5,60.5 574,59.7 574.5,59 575,58.2 575.5,58 576,58.7 576.5,59.3 577,60 577.5,60.6 578,61.2 578.5,61.8 579,62.3 579.5,62.8 580,63.3 580.5,63.7 581,64 581.5,64 582,64 582.5,64 583,64 583.5,64 584,64 584.5,64 585,64 585.5,64 586,64 586.5,64 587,64 587.5,64.1 588,64.1 588.5,64.1 589,64.1 589.5,64.1 590,64.1 590.5,64.1 590.5,66.3 590,66.3 589.5,66.3 589,66.3 588.5,66.3 588,66.3 587.5,66.3 587,66.4 586.5,66.4 586,66.4 585.5,66.4 585,66.4 584.5,66.4 584,66.4 583.5,66.4 583,66.5 582.5,66.5 582,66.5 581.5,66.5 581,66.5 580.5,66.7 580,67.1 579.5,67.6 579,68.1 578.5,68.6 578,69.2 577.5,69.8 577,70.4 576.5,71.1 576,71.7 575.5,72.4 575,72.2 574.5,71.4 574,70.7 573.5,69.9 573,69.2 572.5,68.6 572,67.9 571.5,67.3 571,66.8 570.5,66.5 570,66.5 569.5,66.5 569,66.5 568.5,66.4 568,66.3Z" fill="url(#g48)"/><path d="M569,84.2 569.5,84.1 570,84.1 570.5,84.1 571,84.1 571.5,83.9 572,83.3 572.5,82.7 573,82 573.5,81.3 574,80.5 574.5,79.7 575,78.8 575.5,78.6 576,79.3 576.5,79.9 577,80.5 577.5,81.1 578,81.7 578.5,82.3 579,82.8 579.5,83.3 580,83.7 580.5,84 581,84.1 581.5,84.1 582,84.1 582.5,84.1 583,84.1 583,86.5 582.5,86.6 582,86.6 581.5,86.6 581,86.6 580.5,86.6 580,86.9 579.5,87.3 579,87.8 578.5,88.3 578,88.9 577.5,89.5 577,90.1 576.5,90.7 576,91.3 575.5,92 575,91.8 574.5,90.9 574,90.1 573.5,89.3 573,88.6 572.5,87.9 572,87.3 571.5,86.7 571,86.6 570.5,86.6 570,86.6 569.5,86.5 569,86.4Z" fill="url(#g49)"/><path d="M559.7,104.6 560.2,103.8 560.7,103.2 561.2,102.6 561.7,102.2 562.2,102 562.7,101.8 563.2,101.7 563.7,101.6 564.2,101.6 564.7,101.7 565.2,101.9 565.7,102.1 566.2,102.4 566.7,102.8 567.2,103 567.7,103 568.2,103 568.7,103 569.2,102.3 569.7,101.6 570.2,102.8 570.7,103 571.2,103 571.7,103 572.2,103 572.7,103 573.2,103 573.7,102.4 574.2,101.3 574.7,100.2 575.2,98.9 575.7,99.2 576.2,100.6 576.7,101.8 577.2,102.8 577.7,103 578.2,103 578.7,103 579.2,103 579.7,102.3 580.2,101 580.7,100.1 581.2,100.9 581.7,102.2 582.2,103 582.7,103 583.2,103.9 583.2,106.9 582.7,107.8 582.2,107.8 581.7,108.6 581.2,109.9 580.7,110.7 580.2,109.8 579.7,108.5 579.2,107.8 578.7,107.8 578.2,107.8 577.7,107.8 577.2,108 576.7,109 576.2,110.2 575.7,111.6 575.2,111.9 574.7,110.6 574.2,109.5 573.7,108.4 573.2,107.8 572.7,107.8 572.2,107.8 571.7,107.8 571.2,107.8 570.7,107.8 570.2,108 569.7,109.2 569.2,108.5 568.7,107.8 568.2,107.8 567.7,107.8 567.2,107.8 566.7,108 566.2,108.4 565.7,108.7 565.2,108.9 564.7,109.1 564.2,109.2 563.7,109.2 563.2,109.1 562.7,109 562.2,108.8 561.7,108.6 561.2,108.2 560.7,107.6 560.2,107 559.7,106.2Z" fill="url(#g50)"/><path d="M571.1,124.4 571.6,124.2 572.1,124.2 572.6,124.2 573.1,123.5 573.6,122.6 574.1,121.5 574.6,120.3 575.1,119 575.6,119.2 576.1,120.2 576.6,121.2 577.1,122.1 577.6,122.9 578.1,123.7 578.6,124.2 579.1,124.2 579.6,124.2 580.1,124.3 580.1,126.7 579.6,126.8 579.1,126.8 578.6,126.8 578.1,127.3 577.6,128.1 577.1,128.9 576.6,129.8 576.1,130.8 575.6,131.8 575.1,132 574.6,130.7 574.1,129.5 573.6,128.4 573.1,127.5 572.6,126.8 572.1,126.8 571.6,126.8 571.1,126.6Z" fill="url(#g51)"/><path d="M571.1,144.5 571.6,144.4 572.1,144.4 572.6,144.4 573.1,143.6 573.6,142.7 574.1,141.6 574.6,140.4 575.1,139.1 575.6,139.4 576.1,140.6 576.6,141.7 577.1,142.8 577.6,143.7 578.1,144.4 578.6,144.4 579.1,144.4 579.6,144.5 579.6,146.7 579.1,146.9 578.6,146.9 578.1,146.9 577.6,147.5 577.1,148.4 576.6,149.5 576.1,150.6 575.6,151.8 575.1,152.1 574.6,150.8 574.1,149.6 573.6,148.5 573.1,147.6 572.6,146.9 572.1,146.9 571.6,146.9 571.1,146.7Z" fill="url(#g52)"/><path d="M610.1,23.9 610.6,23.8 611.1,23.8 611.6,23.8 612.1,23.8 612.6,23.7 613.1,23.5 613.6,23 614.1,22.4 614.6,21.9 615.1,21.3 615.6,20.6 616.1,20 616.6,19.3 617.1,18.5 617.6,17.8 618.1,17.4 618.6,18.4 619.1,19.4 619.6,20.4 620.1,21.3 620.6,22.1 621.1,22.9 621.6,23.6 622.1,23.8 622.6,23.8 623.1,23.8 623.6,23.9 623.6,26.1 623.1,26.2 622.6,26.2 622.1,26.2 621.6,26.4 621.1,27.1 620.6,27.9 620.1,28.7 619.6,29.6 619.1,30.6 618.6,31.6 618.1,32.6 617.6,32.2 617.1,31.5 616.6,30.7 616.1,30 615.6,29.4 615.1,28.7 614.6,28.1 614.1,27.6 613.6,27 613.1,26.5 612.6,26.3 612.1,26.2 611.6,26.2 611.1,26.2 610.6,26.2 610.1,26.1Z" fill="url(#g53)"/><path d="M610,44 610.5,43.9 611,43.9 611.5,43.9 612,43.9 612.5,43.9 613,43.7 613.5,43.3 614,42.8 614.5,42.2 615,41.7 615.5,41.1 616,40.4 616.5,39.8 617,39.1 617.5,38.3 618,37.6 618.5,38.4 619,39.1 619.5,39.8 620,40.5 620.5,41.1 621,41.8 621.5,42.4 622,42.9 622.5,43.4 623,43.9 623.5,43.9 624,43.9 624.5,43.9 625,43.9 625.5,43.9 626,43.9 626.5,43.9 627,43.9 627.5,43.9 628,43.9 628.5,43.9 629,44 629.5,44 630,44 630.5,44 631,44 631.5,44 631.5,46.2 631,46.2 630.5,46.2 630,46.2 629.5,46.2 629,46.2 628.5,46.3 628,46.3 627.5,46.3 627,46.3 626.5,46.3 626,46.3 625.5,46.3 625,46.4 624.5,46.4 624,46.4 623.5,46.4 623,46.4 622.5,46.8 622,47.3 621.5,47.8 621,48.4 620.5,49.1 620,49.7 619.5,50.4 619,51.1 618.5,51.8 618,52.6 617.5,51.9 617,51.1 616.5,50.4 616,49.8 615.5,49.1 615,48.5 614.5,48 614,47.4 613.5,46.9 613,46.5 612.5,46.4 612,46.4 611.5,46.4 611,46.4 610.5,46.3 610,46.2Z" fill="url(#g54)"/><path d="M612,64.1 612.5,64 613,64 613.5,64 614,64 614.5,63.5 615,62.9 615.5,62.2 616,61.4 616.5,60.5 617,59.6 617.5,58.7 618,57.7 618.5,58.5 619,59.3 619.5,60 620,60.7 620.5,61.4 621,62 621.5,62.6 622,63.2 622.5,63.7 623,64 623.5,64 624,64 624.5,64 625,64 625.5,64.1 625.5,66.3 625,66.4 624.5,66.5 624,66.5 623.5,66.5 623,66.5 622.5,66.7 622,67.2 621.5,67.8 621,68.4 620.5,69 620,69.7 619.5,70.4 619,71.1 618.5,71.9 618,72.7 617.5,71.7 617,70.8 616.5,69.9 616,69 615.5,68.2 615,67.5 614.5,66.9 614,66.5 613.5,66.5 613,66.5 612.5,66.4 612,66.3Z" fill="url(#g55)"/><path d="M607.4,84.2 607.9,84.2 608.4,84.2 608.9,84.2 609.4,84.1 609.9,84.1 610.4,84.1 610.9,84.1 611.4,84.1 611.9,84.1 612.4,84.1 612.9,84.1 613.4,83.8 613.9,83.3 614.4,82.8 614.9,82.3 615.4,81.7 615.9,81.1 616.4,80.5 616.9,79.8 617.4,79.2 617.9,78.4 618.4,78.9 618.9,79.6 619.4,80.3 619.9,81 620.4,81.6 620.9,82.2 621.4,82.8 621.9,83.3 622.4,83.8 622.9,84.1 623.4,84.1 623.9,84.1 624.4,84.1 624.9,84.1 625.4,84.2 625.4,86.4 624.9,86.5 624.4,86.6 623.9,86.6 623.4,86.6 622.9,86.6 622.4,86.8 621.9,87.3 621.4,87.8 620.9,88.4 620.4,89 619.9,89.6 619.4,90.3 618.9,91 618.4,91.7 617.9,92.2 617.4,91.4 616.9,90.8 616.4,90.1 615.9,89.5 615.4,88.9 614.9,88.3 614.4,87.8 613.9,87.3 613.4,86.8 612.9,86.6 612.4,86.6 611.9,86.6 611.4,86.6 610.9,86.5 610.4,86.5 609.9,86.5 609.4,86.5 608.9,86.4 608.4,86.4 607.9,86.4 607.4,86.4Z" fill="url(#g56)"/><path d="M614.1,104.3 614.6,104.2 615.1,104.2 615.6,104 616.1,103.1 616.6,102 617.1,100.8 617.6,99.5 618.1,98.6 618.6,99.4 619.1,100.3 619.6,101.1 620.1,101.8 620.6,102.5 621.1,103.2 621.6,103.8 622.1,104.2 622.6,104.2 623.1,104.2 623.6,104.2 624.1,104.3 624.1,106.5 623.6,106.7 623.1,106.7 622.6,106.7 622.1,106.7 621.6,107 621.1,107.6 620.6,108.3 620.1,109 619.6,109.7 619.1,110.5 618.6,111.4 618.1,112.2 617.6,111.3 617.1,110 616.6,108.8 616.1,107.7 615.6,106.8 615.1,106.7 614.6,106.7 614.1,106.5Z" fill="url(#g57)"/><path d="M607.6,124.4 608.1,124.3 608.6,124.2 609.1,124.2 609.6,124.2 610.1,123.9 610.6,123.4 611.1,122.8 611.6,122.1 612.1,121.4 612.6,120.7 613.1,120 613.6,119.3 614.1,118.6 614.6,118.7 615.1,119.6 615.6,120.5 616.1,121.3 616.6,122.1 617.1,122.9 617.6,123.6 618.1,124.1 618.6,124 619.1,124 619.6,124 620.1,124 620.6,124 621.1,124 621.6,124 622.1,124 622.6,124 623.1,123.6 623.6,123.5 624.1,123.9 624.6,124 625.1,124.2 625.6,124.2 626.1,124.2 626.6,124.2 627.1,124.2 627.6,124.1 628.1,123.8 628.6,123.6 629.1,123.3 629.6,123.1 630.1,122.9 630.6,123.2 631.1,123.4 631.6,123.6 632.1,123.8 632.6,124 633.1,124.2 633.6,124.2 634.1,124.2 634.6,124.2 635.1,124.3 635.6,124.4 635.6,126.6 635.1,126.7 634.6,126.8 634.1,126.8 633.6,126.8 633.1,126.8 632.6,127 632.1,127.2 631.6,127.4 631.1,127.6 630.6,127.8 630.1,128.1 629.6,127.9 629.1,127.7 628.6,127.4 628.1,127.2 627.6,126.9 627.1,126.8 626.6,126.8 626.1,126.8 625.6,126.8 625.1,126.8 624.6,127 624.1,127.1 623.6,127.5 623.1,127.4 622.6,127 622.1,127 621.6,127 621.1,127 620.6,127 620.1,127 619.6,127 619.1,127 618.6,127 618.1,126.9 617.6,127.4 617.1,128.1 616.6,128.9 616.1,129.7 615.6,130.5 615.1,131.4 614.6,132.3 614.1,132.4 613.6,131.7 613.1,131 612.6,130.3 612.1,129.6 611.6,128.9 611.1,128.2 610.6,127.6 610.1,127.1 609.6,126.8 609.1,126.8 608.6,126.8 608.1,126.7 607.6,126.6Z" fill="url(#g58)"/><path d="M610.7,144.5 611.2,144.4 611.7,144.4 612.2,144.4 612.7,144.4 613.2,144.4 613.7,144 614.2,143.5 614.7,142.9 615.2,142.2 615.7,141.6 616.2,140.9 616.7,140.1 617.2,139.4 617.7,138.6 618.2,138.4 618.7,139.3 619.2,140 619.7,140.8 620.2,141.5 620.7,142.2 621.2,142.9 621.7,143.5 622.2,144 622.7,144.4 623.2,144.4 623.7,144.4 624.2,144.4 624.7,144.4 624.7,146.8 624.2,146.9 623.7,146.9 623.2,146.9 622.7,146.9 622.2,147.2 621.7,147.7 621.2,148.3 620.7,149 620.2,149.7 619.7,150.4 619.2,151.2 618.7,151.9 618.2,152.8 617.7,152.6 617.2,151.8 616.7,151.1 616.2,150.3 615.7,149.6 615.2,149 614.7,148.3 614.2,147.7 613.7,147.2 613.2,146.9 612.7,146.9 612.2,146.9 611.7,146.9 611.2,146.8 610.7,146.7Z" fill="url(#g59)"/><path d="M655.8,23.9 656.3,23.8 656.8,23.8 657.3,23.7 657.8,23.4 658.3,22.6 658.8,21.7 659.3,20.8 659.8,19.8 660.3,18.7 660.8,17.6 661.3,18.3 661.8,18.9 662.3,19.5 662.8,20.2 663.3,20.7 663.8,21.3 664.3,21.9 664.8,22.4 665.3,22.9 665.8,23.3 666.3,23.7 666.8,23.7 667.3,23.8 667.8,23.8 668.3,23.8 668.8,23.8 669.3,23.9 669.3,26.1 668.8,26.2 668.3,26.2 667.8,26.2 667.3,26.2 666.8,26.3 666.3,26.3 665.8,26.7 665.3,27.1 664.8,27.6 664.3,28.1 663.8,28.7 663.3,29.3 662.8,29.8 662.3,30.5 661.8,31.1 661.3,31.7 660.8,32.4 660.3,31.3 659.8,30.2 659.3,29.2 658.8,28.3 658.3,27.4 657.8,26.6 657.3,26.3 656.8,26.2 656.3,26.2 655.8,26.1Z" fill="url(#g60)"/><path d="M653,44 653.5,43.9 654,43.9 654.5,43.9 655,43.9 655.5,43.9 656,43.7 656.5,43.3 657,42.8 657.5,42.3 658,41.7 658.5,41.1 659,40.5 659.5,39.8 660,39.1 660.5,38.4 661,38.3 661.5,39 662,39.7 662.5,40.4 663,41.1 663.5,41.7 664,42.3 664.5,42.8 665,43.3 665.5,43.7 666,43.9 666.5,43.9 667,43.9 667.5,43.9 668,43.9 668,46.3 667.5,46.4 667,46.4 666.5,46.4 666,46.4 665.5,46.5 665,46.9 664.5,47.4 664,47.9 663.5,48.5 663,49.1 662.5,49.8 662,50.5 661.5,51.2 661,51.9 660.5,51.8 660,51.1 659.5,50.4 659,49.7 658.5,49.1 658,48.5 657.5,47.9 657,47.4 656.5,46.9 656,46.5 655.5,46.4 655,46.4 654.5,46.4 654,46.4 653.5,46.3 653,46.2Z" fill="url(#g61)"/><path d="M655.8,64.1 656.3,64 656.8,64 657.3,64 657.8,63.7 658.3,63 658.8,62.2 659.3,61.3 659.8,60.3 660.3,59.3 660.8,58.2 661.3,59 661.8,59.8 662.3,60.6 662.8,61.3 663.3,62 663.8,62.6 664.3,63.2 664.8,63.7 665.3,64 665.8,64 666.3,64 666.8,64 667.3,64.1 667.3,66.3 666.8,66.5 666.3,66.5 665.8,66.5 665.3,66.5 664.8,66.7 664.3,67.2 663.8,67.8 663.3,68.4 662.8,69.1 662.3,69.8 661.8,70.6 661.3,71.4 660.8,72.2 660.3,71.1 659.8,70.1 659.3,69.1 658.8,68.2 658.3,67.4 657.8,66.7 657.3,66.5 656.8,66.5 656.3,66.5 655.8,66.3Z" fill="url(#g62)"/><path d="M654,84.2 654.5,84.1 655,84.1 655.5,84.1 656,84.1 656.5,84 657,83.8 657.5,83.3 658,82.7 658.5,82.2 659,81.6 659.5,80.9 660,80.2 660.5,79.5 661,79.4 661.5,80.3 662,81.1 662.5,81.8 663,82.5 663.5,83.1 664,83.7 664.5,84 665,84.1 665.5,84.1 666,84.1 666.5,84.2 666.5,86.4 666,86.6 665.5,86.6 665,86.6 664.5,86.6 664,86.9 663.5,87.5 663,88.1 662.5,88.8 662,89.5 661.5,90.3 661,91.2 660.5,91.1 660,90.4 659.5,89.7 659,89 658.5,88.4 658,87.9 657.5,87.3 657,86.8 656.5,86.6 656,86.6 655.5,86.6 655,86.6 654.5,86.5 654,86.4Z" fill="url(#g63)"/><path d="M657,104.3 657.5,104.2 658,104.2 658.5,104 659,103 659.5,101.9 660,100.6 660.5,99.3 661,98.9 661.5,100 662,101.1 662.5,102.1 663,103.1 663.5,103.9 664,104.2 664.5,104.2 665,104.2 665,106.6 664.5,106.7 664,106.7 663.5,106.9 663,107.7 662.5,108.7 662,109.7 661.5,110.8 661,111.9 660.5,111.5 660,110.2 659.5,108.9 659,107.8 658.5,106.8 658,106.7 657.5,106.7 657,106.5Z" fill="url(#g64)"/><path d="M653.6,124.4 654.1,124.3 654.6,124.2 655.1,124.2 655.6,124.2 656.1,124.2 656.6,124 657.1,123.4 657.6,122.9 658.1,122.3 658.6,121.7 659.1,121 659.6,120.3 660.1,119.6 660.6,118.8 661.1,119 661.6,119.7 662.1,120.4 662.6,121.1 663.1,121.8 663.6,122.4 664.1,123 664.6,123.6 665.1,124 665.6,124.2 666.1,124.2 666.6,124.2 667.1,124.2 667.6,124.3 667.6,126.7 667.1,126.8 666.6,126.8 666.1,126.8 665.6,126.8 665.1,127 664.6,127.4 664.1,128 663.6,128.6 663.1,129.2 662.6,129.9 662.1,130.6 661.6,131.3 661.1,132 660.6,132.2 660.1,131.4 659.6,130.7 659.1,130 658.6,129.3 658.1,128.7 657.6,128.1 657.1,127.6 656.6,127 656.1,126.8 655.6,126.8 655.1,126.8 654.6,126.8 654.1,126.7 653.6,126.6Z" fill="url(#g65)"/><path d="M646.5,144.5 647,144.4 647.5,144.3 648,144.1 648.5,143.5 649,143 649.5,142.9 650,143.5 650.5,144 651,144.4 651.5,144.4 652,144.6 652.5,144.7 653,144.7 653.5,144.7 654,144.7 654.5,144.7 655,144.2 655.5,143.3 656,142 656.5,140.3 657,139 657.5,139.6 658,141.2 658.5,142.8 659,143.6 659.5,143.6 660,143.6 660.5,143.1 661,142 661.5,141.5 662,142.3 662.5,143.4 663,143.6 663.5,143.6 664,143.6 664.5,143.6 665,143.3 665.5,142.9 666,142.8 666.5,143.2 667,143.5 667.5,143.6 668,144.2 668.5,144.4 668.5,146.9 668,147 667.5,147.6 667,147.7 666.5,148 666,148.4 665.5,148.3 665,147.9 664.5,147.6 664,147.6 663.5,147.6 663,147.6 662.5,147.8 662,148.9 661.5,149.7 661,149.2 660.5,148.1 660,147.6 659.5,147.6 659,147.6 658.5,148.4 658,150 657.5,151.6 657,152.2 656.5,150.9 656,149.2 655.5,147.9 655,147 654.5,146.5 654,146.5 653.5,146.5 653,146.5 652.5,146.5 652,146.6 651.5,146.9 651,146.9 650.5,147.2 650,147.7 649.5,148.3 649,148.2 648.5,147.7 648,147.1 647.5,146.9 647,146.9 646.5,146.7Z" fill="url(#g66)"/><path d="M164 26.3h0M130.2 25.7h0M114.2 26h0M181.8 26.9h0M175.7 26.8h0M127.4 26h0M155.5 26.5h0M136.2 26.1h0M147 26.6h0M181.9 26.5h0M178.2 26.2h0M115.7 25.9h0M133.6 26.3h0M131.5 25.7h0M131 26h0M119.2 25.6h0M107.4 27.2h0M152.2 26.5h0M134.5 27.2h0M165.1 26.4h0M145.7 26.6h0M136.6 27.1h0M178.6 27h0M126.9 25.7h0M127.7 27.6h0M182.2 27h0M135.5 26.5h0M123 26.8h0M132.1 27.1h0M144.4 27h0M133.4 26.5h0M122.7 26h0M110.5 27.1h0M119.9 25.5h0M116.6 27.6h0M188.5 26.4h0M153.5 26.3h0M168.4 26.2h0M196.3 27h0M167.6 26.9h0M179.2 26.4h0M156.1 26.4h0M174.9 26.6h0M152.8 26.2h0M146.9 26.7h0M108.9 26h0M117 26.1h0M196.1 26.5h0M190.9 26.2h0M106.3 26.6h0M146.6 27h0M187.9 26.4h0M129.5 26.2h0M125.6 27.7h0M157.6 26.5h0M177 27.1h0M183.6 26.4h0M112.3 27.1h0M129.3 25.9h0M166.7 26.2h0M107.1 26h0M123.5 25.6h0M124.1 25.4h0M176.1 26.3h0M160.9 26.2h0M182.1 26.4h0M144.7 26.9h0M158.6 27h0M145.1 26.5h0M138 27.3h0M173.4 26.4h0M134.9 25.6h0M108.7 26.1h0M108.3 27.4h0M112.7 27.2h0M115.9 25.4h0M118 25.2h0M120.1 25.6h0M120.2 28h0M122.2 27.7h0M124.6 25.6h0M124.2 27.7h0M126.3 28.1h0M128.3 27.6h0M132.2 27.4h0M134.6 25.6h0M134.5 27.8h0M139.1 26.3h0M180.4 26.4h0M182.3 26.8h0M184.4 26.3h0M187.9 25.9h0M189.5 27.3h0M191.2 26.1h0M215.5 46.3h0M202.8 46.5h0M204.6 47.2h0M212.7 48.4h0M212.9 43.2h0M216.9 44.5h0M211.2 48.4h0M227 44.4h0M223.3 47.8h0M213 48.3h0M193.7 46.9h0M224.4 45.7h0M212.3 44.4h0M197.7 46h0M202 48.2h0M218.3 47.4h0M214.1 42.1h0M194.4 46.4h0M228.1 50.7h0M194.5 46.9h0M194.5 47.1h0M209.8 46.1h0M220.3 43.1h0M209.9 49.6h0M195.4 47.4h0M199.1 47.5h0M201 45.8h0M200.8 47.9h0M209 51h0M223.3 69.3h0M233.1 68.9h0M233.5 61.2h0M215.3 69.3h0M211 67.9h0M210 68.8h0M237.3 69.4h0M224.7 62.2h0M204.8 67.2h0M222.5 67.2h0M220.8 66.9h0M239.6 70.6h0M224.2 63.8h0M209.8 65.9h0M216 69.1h0M207.9 65.1h0M224.4 68.4h0M216.9 63.7h0M203.9 67h0M221.9 64.2h0M203.9 66.2h0M230.4 60.6h0M202 66.7h0M204.1 66.1h0M223.5 66.8h0M222.6 67.4h0M203.1 66.9h0M234.9 60.8h0M221 64.6h0M226.5 69.3h0M229.3 71.9h0M234.3 62.7h0M203.6 65.7h0M205.8 65.6h0M207.8 65h0M210 69h0M212.1 63.8h0M214.1 70.2h0M216.3 63.1h0M216.1 70.6h0M217.9 62.7h0M220.2 62.5h0M219.9 70.5h0M221.5 71.1h0M228.4 72.7h0M230.1 60.6h0M231.5 60.5h0M233.5 59.8h0M256.2 86.3h0M240.7 83.3h0M252 89.1h0M269 86.6h0M259.3 86.4h0M247.7 86.4h0M276.7 86.8h0M256.3 87.8h0M246.9 93h0M268.1 86.3h0M245 84.3h0M268.2 87.1h0M238.5 88.7h0M257.8 85h0M256.1 85.2h0M241.3 84h0M274.2 87h0M244.5 80.8h0M248 86.4h0M246.3 85h0M268.9 86.8h0M252 85h0M259.9 86.3h0M281.3 87.2h0M268.1 87h0M238.7 81.4h0M248.6 92.2h0M255.6 84.9h0M257.7 84.9h0M261.9 85.2h0M263.2 88h0M265.8 88.1h0M267.4 87.7h0M269.7 85.8h0M269.6 87.5h0M271.6 87.8h0M273.8 86.2h0M273.6 87.2h0M275.3 87.4h0M277.3 87.7h0M278.7 86.5h0M290.8 86.9h0M295 86.9h0M238.1 107.8h0M236.2 109.1h0M230.9 101.2h0M230.7 112.9h0M232.9 100.2h0M232.8 113.7h0M238.6 99.7h0M244.4 124.9h0M249.2 128h0M245.3 122.7h0M241.3 129.9h0M238.1 124.6h0M245.1 122.6h0M250.8 127.4h0M248.6 124.6h0M255.3 125.9h0M268.4 126.8h0M255 125.2h0M239.7 123.3h0M258.6 126.7h0M262.4 127.7h0M258.1 127.4h0M268.2 127.5h0M239.6 122h0M249.3 130h0M251.5 124.2h0M251.7 129.8h0M255.5 129.1h0M259.1 125.6h0M259.3 128.1h0M260.9 126.3h0M261.1 127.8h0M263.1 126.3h0M264.4 126.4h0M266.4 126.6h0M266.3 127.7h0M231.3 146.3h0M242.6 149.7h0M224.4 146.9h0M242.1 149.2h0M228.1 148.1h0M245.2 145.1h0M225.1 146.5h0M230.1 145.1h0M229.4 146h0M233.4 148.2h0M243.7 149.6h0M226.3 147.2h0M242.4 146.5h0M231.1 145.3h0M223.2 147.5h0M232.1 149.8h0M230.1 145.3h0M230.1 149.2h0M232.5 151.1h0M236.1 140.3h0M240.5 142.6h0M241.9 143.8h0M249.8 167.8h0M251.3 167.9h0M251.9 168h0M251.4 166.4h0M244.6 171.6h0M247.6 169.4h0M240.2 167.3h0M240.9 163.6h0M248.1 168h0M249 168.9h0M256 167h0M258.3 167.5h0M258.5 167.5h0M246 170.6h0M248.3 169h0M250.7 166h0M273.8 167.2h0M255.3 186.9h0M266.1 187.3h0M262.1 187.5h0M247.5 189.7h0M253.1 187.1h0M255.6 187.6h0M254.9 187h0M260.9 186.9h0M262.2 187.4h0M258.6 187h0M264.3 187.6h0M242.5 183.5h0M244.9 189h0M240.8 186.6h0M250.8 187.5h0M246.5 191.4h0M248.7 189.6h0M251 189.2h0M257.2 186.6h0M257.3 188.1h0M259.2 187.6h0M261 186.9h0M263.2 186.9h0M276 187.3h0M278.4 187.3h0M280.6 187.3h0M240.3 200.5h0M235.3 200.9h0M229.2 207.9h0M235 204.5h0M238.2 213.5h0M232.1 204.1h0M243.2 202.8h0M241.7 211.4h0M228.9 206.5h0M240.5 204h0M229.8 207.7h0M236.2 213.4h0M228.4 206.7h0M230.3 209.2h0M232.3 203.3h0M234.1 213.6h0M236.2 200.7h0M236.5 214.2h0M244.5 226.8h0M262.8 228h0M235.3 224h0M265.7 227.5h0M252 227.2h0M246 226.4h0M265.2 227.2h0M240.2 226.5h0M263.8 227.7h0M265.4 227.4h0M249.1 227.6h0M243.1 230.8h0M257 227.4h0M250.6 227h0M258.1 227.7h0M251.7 227.3h0M254.4 227.2h0M261 226.9h0M233.2 229.1h0M256.3 227.7h0M248.4 228.8h0M263 227h0M265.2 226.8h0M272.7 227.5h0M276.3 227.5h0M248.9 249.8h0M232.8 246.7h0M247.4 248.2h0M238.2 244.1h0M242.7 248.1h0M242 248.6h0M242.7 244.3h0M242.2 243.9h0M244.4 250.5h0M246.7 250.7h0M248.9 244.8h0M234.4 265.4h0M243.3 263.2h0M242.8 270.7h0M242.9 269h0M241.4 261.6h0M244.4 287.8h0M246 289.9h0M242.1 290.1h0M245.3 290h0M242.6 292.1h0M243.2 283.2h0M248 287h0M242.8 290.8h0M241.8 281h0M241.5 294.5h0M243.6 281.7h0M243.1 293.4h0M245.4 284.3h0M245.5 291.6h0M246.8 286.3h0M247.2 289.2h0M240.3 308.4h0M235.4 308.6h0M240.6 308.9h0M242.6 309.3h0M232.9 310.5h0M237.8 307.6h0M234.7 303.3h0M239.2 300.4h0M239.4 315h0M232.8 328.1h0M236.7 325.6h0M223.2 328h0M246.9 349.4h0M249.2 348.2h0M246.4 349.8h0M250.1 347.6h0M250.3 348.9h0M241.7 369.8h0M242.1 374.6h0M244.2 371.2h0M244.5 371h0M244.5 364.3h0M241.4 366.9h0M241.7 361.3h0M241.7 375h0M243.9 361.4h0M243.8 374.6h0M422.9 25.7h0M422.8 25.3h0M416.2 30h0M404.2 40.4h0M405.4 49.2h0M399.3 64.3h0M406.9 85.8h0M403.1 85.5h0M405.2 86.7h0M404.3 104.1h0M408.4 104.9h0M409.3 105.2h0M402.8 110.7h0M409.2 105.2h0M400.2 125.1h0M400.7 127.2h0M406.4 126.4h0M404.9 129h0M403.7 143.3h0M406.7 144.7h0M445.1 21.2h0M451.2 23.7h0M431.7 48.5h0M436.4 39.9h0M438.8 47.7h0M436.9 44.4h0M430 44.2h0M439.2 43.3h0M438.1 47h0M430.4 47.2h0M437.6 47.1h0M429.1 44.2h0M433.6 46h0M438.2 44.1h0M434.4 46.9h0M446.5 45.5h0M438.1 48.6h0M433.2 48.6h0M429.7 44.2h0M428.8 45.3h0M434.2 46.2h0M434.9 47.6h0M429.1 46.6h0M430.4 41.9h0M430.7 48.5h0M432.5 40.1h0M432.9 50.1h0M434.7 50.8h0M436.7 50.4h0M440 44h0M440.3 46.4h0M448.5 62.3h0M441.4 65.5h0M445.1 66.9h0M444.3 63.8h0M445.3 64.6h0M442.3 66.2h0M444.2 61.9h0M446.6 59h0M443.8 81.9h0M448.3 83.9h0M452.5 85.5h0M439.7 85.2h0M440.8 86.4h0M449.2 83.8h0M444.9 89.7h0M448.8 89.3h0M447.4 106.3h0M443.4 103.9h0M446.6 106.3h0M442.9 106.1h0M450.6 103.8h0M449.8 103.1h0M444 126.9h0M446.9 124.3h0M450 124.1h0M448.5 124.3h0M445.3 126.8h0M450.8 146.1h0M450.8 145.2h0M443.9 148h0M446 150.3h0M449.8 143.9h0M489.9 40.6h0M485.5 44.8h0M488 49h0M490.1 39.5h0M493.8 46.9h0M496 64.5h0M492 69.1h0M497 65.6h0M486.3 64.3h0M487.4 66.4h0M487.8 65.3h0M488 66.3h0M498.7 65h0M489.7 64h0M471.4 63.9h0M483.2 66.8h0M491.5 60.2h0M491.2 69.8h0M493.6 63.4h0M493.3 66.8h0M495.3 64.2h0M497.7 66.2h0M499.7 64.3h0M499.9 66.5h0M485.4 85h0M485.9 85.7h0M487 84.8h0M489.3 82.3h0M490.9 88.3h0M485.9 104.8h0M489.3 102.9h0M492.6 104.9h0M492.1 107.4h0M490.7 100.9h0M491.5 124.9h0M490 123.5h0M489.3 139.7h0M531.9 28.6h0M532.4 44.5h0M535.2 43h0M538.9 44.7h0M527.8 47.4h0M538.8 46.3h0M537.5 65.5h0M530.3 65.7h0M535 64.3h0M521.9 86.5h0M528.5 89.4h0M522.2 85.9h0M523.3 84.1h0M522 86.2h0M525.8 86.5h0M527.1 85h0M521.9 86.9h0M528.4 86.9h0M523.2 83.6h0M520.5 83.9h0M520.8 86.1h0M526.4 84.1h0M526.7 86.1h0M528.6 89.8h0M533.3 90.1h0M531.6 109.9h0M533.6 106.2h0M530 106h0M531.7 100.3h0M531 124.7h0M533.1 123.1h0M530.8 127.7h0M533.7 121.6h0M529 145.1h0M571.2 23.4h0M579.2 23.3h0M581.1 24.7h0M569.6 25.6h0M571.9 27.8h0M579.6 27h0M579.1 44.2h0M573.1 66.7h0M578.3 63.1h0M572.1 65.3h0M579.6 65.4h0M571.8 85.1h0M579 85h0M577.1 106.7h0M577.8 104.3h0M575 109.8h0M581.4 106.5h0M574.3 106.4h0M572.2 104.5h0M572.3 106.4h0M578.5 104h0M580.7 101.7h0M577.1 126.4h0M575.4 119.9h0M577.8 125.3h0M574.3 123.2h0M573.2 144.8h0M573.7 146.7h0M618.9 29.8h0M614.9 44.4h0M616.5 67.3h0M622 65.4h0M619.1 65.1h0M622.2 64.9h0M617.7 83.3h0M615.3 82.9h0M619.8 82.1h0M617.8 102.9h0M616.2 106.8h0M616 104.7h0M616.5 106.3h0M619 107.7h0M617.4 110.1h0M616.9 123.9h0M615.5 123.1h0M621.2 125.5h0M619.4 125.4h0M619.2 125.5h0M617.1 124.9h0M611.2 124.3h0M614.9 130h0M617.3 126.9h0M615.1 147h0M613.7 145.6h0M618.8 146.8h0M614.2 146h0M658 24.3h0M663.3 64h0M659.9 65.5h0M659 66.4h0M663.5 64.9h0M659.8 68.9h0M658.3 84h0M661.5 80.8h0M663.3 105.3h0M660 108.8h0M660.3 107.1h0M661.6 107.1h0M662.1 108.3h0M663.2 126.3h0M656.6 125.7h0M664.1 126.5h0M660.6 125.2h0M658.4 123.3h0M660 130.2h0M662.1 121.6h0M664.4 146.1h0M666.9 145.9h0M664.9 145.6h0M662 147.8h0M663.7 146.7h0M667.5 144.7h0M667.9 146.1h0" stroke="#008bfb" stroke-width="2.5" stroke-linecap="round" fill="none"/><path d="M116.2 25.7h0M183 26.9h0M261.2 32.9h0M114.4 27h0M107.3 26.6h0M114.1 27.2h0M170.6 26.9h0M113.2 27.4h0M253.3 25.3h0M108.3 26.3h0M140.1 26.3h0M169 26.6h0M150.4 26.4h0M193.1 27.1h0M116.7 26h0M116.8 27h0M115.1 27.7h0M182.6 27h0M112.5 26h0M161.8 26.4h0M138.7 26.6h0M151.2 26.3h0M158.2 26.6h0M107.2 26.4h0M268.6 25.7h0M142.5 27h0M142.7 26.7h0M112.1 25.8h0M153.1 26.6h0M112.2 27.5h0M167.7 26.4h0M177.3 26.3h0M120.1 26.2h0M151.7 26.7h0M149.8 26.5h0M176.8 27h0M146.8 27h0M166.7 26.5h0M143.1 27.1h0M110.2 27.3h0M112.2 25.5h0M114.1 25.5h0M116.3 27.3h0M122.3 25.2h0M128.2 25.5h0M130.4 25.4h0M130.2 27.4h0M132.2 25.7h0M137.2 27.3h0M180.3 27.2h0M182.3 26.2h0M184.1 26.9h0M185.9 26.9h0M187.7 27h0M189.5 26.4h0M195.5 27.3h0M207.9 46.2h0M206.1 44.5h0M199.9 47.5h0M206.9 48.7h0M199.8 46.1h0M215.6 42.9h0M196.7 46.9h0M210.3 50.4h0M194.3 46.8h0M197.9 46.8h0M215.6 47.8h0M211.6 43.8h0M200.3 46.3h0M204.7 45.2h0M199.4 46.3h0M209.2 49h0M211.8 42.7h0M195.3 46.2h0M196.9 46.3h0M197 47h0M198.9 45.9h0M203.2 45h0M203.1 48.4h0M206.5 49.8h0M211.3 42h0M211.4 51.2h0M212.7 42.1h0M215.4 52h0M217.2 41.2h0M231.1 66.8h0M226.8 63.7h0M202.7 67h0M214 64.7h0M226.1 65.5h0M209.7 68.1h0M218.1 70h0M230.8 65.7h0M230.2 64.3h0M217.8 63.4h0M212 64h0M214.2 66.4h0M249 72.2h0M225.8 65.1h0M221.7 66.7h0M207.1 66.5h0M211.9 68.4h0M232 60.4h0M208.7 67h0M202 66.4h0M213.1 66.8h0M230.1 67.4h0M238.2 67.8h0M205.9 66.2h0M222.2 62.7h0M229.3 62.3h0M203.6 67.7h0M205.7 67.8h0M207.9 68.3h0M210.4 64.7h0M212 69.5h0M213.9 63.4h0M218.4 70.6h0M221.6 62.7h0M223.3 62.1h0M223.3 71h0M225.8 61.5h0M225.8 72.2h0M227.9 61.2h0M229.7 73.2h0M231.7 73h0M233.7 73.2h0M235.2 59.9h0M235.5 73.4h0M237 59.8h0M236.8 73.7h0M257.7 86.7h0M260 86.1h0M280.1 86.6h0M227 87.1h0M263.7 85.6h0M270.3 87.2h0M243.9 90.9h0M265 85.9h0M269.6 86.1h0M237 83.6h0M269.6 87.6h0M273.7 87h0M274.4 87.3h0M273.4 86.5h0M242.3 85.1h0M279.5 86.9h0M241.9 85.6h0M255.7 85.9h0M271.4 86.5h0M277 87.3h0M240 81.5h0M275.1 86.8h0M275.6 86.4h0M239.4 85.2h0M245.6 89.5h0M250.2 88.4h0M279.7 86.4h0M250.9 89.3h0M271.7 86.4h0M239.2 92.3h0M240.9 93.8h0M242.5 80h0M242.7 94h0M244.4 79.5h0M244.2 94.2h0M246.6 81h0M246.4 93h0M248.5 81.9h0M250.3 82.9h0M250.2 91h0M251.9 83.6h0M251.9 89.8h0M253.7 84h0M253.5 89.6h0M255.6 89.3h0M257.3 89h0M259.9 85h0M259.9 88.8h0M261.6 88.4h0M263.3 85.5h0M265.5 85.5h0M267.2 86.2h0M271.2 86.2h0M275.3 86.2h0M277.2 86.1h0M278.7 87.4h0M241.2 103h0M234.3 108.2h0M236.1 113.9h0M240.1 106h0M231.7 113h0M244.4 105.6h0M245.8 107.2h0M245.3 104.2h0M239.1 100.4h0M229.1 110.8h0M234.6 99.7h0M234.9 113.8h0M236.9 99.7h0M237 114.2h0M238.9 113.8h0M241 103h0M241 111h0M242.6 102.6h0M242.8 110.7h0M244.4 103.1h0M244.5 110.7h0M253.8 126.8h0M253.8 129.2h0M247.9 129.3h0M270.4 127.1h0M252.9 126.5h0M254.7 125.9h0M254 128.4h0M266.5 127h0M239.2 127.3h0M247.5 122.3h0M268.9 126.7h0M257.2 128h0M241.1 131.2h0M256.5 128.5h0M254.6 128h0M261.8 126.8h0M238 130.4h0M239.5 132h0M241.9 120.7h0M241.4 133.6h0M244.2 119.9h0M243.8 134.1h0M245.8 120.1h0M245.8 134.3h0M247.8 121.5h0M247.5 132.8h0M249.4 123.9h0M254.1 125.1h0M254 129.4h0M255.5 125h0M257.2 125.3h0M257.7 128.6h0M262.8 127.8h0M264.9 127.4h0M244.3 146.6h0M243.9 149.3h0M232.2 148.6h0M226.3 147.7h0M231.4 145.5h0M238.9 142.7h0M227.9 147.9h0M224.5 146.5h0M224.5 147.8h0M226.4 146.6h0M226.1 148h0M228.5 145.9h0M228.3 148h0M232 143.3h0M234.9 141.3h0M234.5 153.2h0M236.5 154.2h0M238.4 141.1h0M238.5 153.3h0M242 150.2h0M243.7 149.7h0M255.6 167.5h0M254.3 167.1h0M249.2 167.6h0M248.5 165.3h0M250.4 168.1h0M252.4 166.5h0M252.4 168h0M254.6 166.5h0M254.3 168h0M261.6 187.5h0M263.2 187h0M248.3 185.3h0M245.3 184.3h0M260 187h0M264.6 187.2h0M262.6 186.8h0M258.8 187.1h0M253.2 187.9h0M262.2 187.3h0M248.5 188h0M244.7 181.7h0M246.5 183.5h0M250.7 185.6h0M252.9 188.5h0M255.5 186.4h0M259 186.8h0M260.8 187.9h0M263.2 188h0M251.8 206.3h0M231.4 207.8h0M240.1 200.3h0M240 214.4h0M238.5 210.3h0M242.9 207.1h0M242.9 210.1h0M229.3 207.9h0M226.4 207.5h0M228.2 208.2h0M230.6 205.2h0M238.5 200.6h0M238.7 214.2h0M240.1 200.1h0M240.4 214.1h0M242 202.1h0M262.8 227.7h0M259.8 228h0M258.4 227.4h0M265 227.7h0M265.5 227h0M256.5 227.2h0M244.9 224.8h0M256.6 227h0M244 230.7h0M252.7 226.6h0M252.7 228.2h0M258.9 226.7h0M261.2 228.3h0M263 228.1h0M269.2 227.5h0M246.9 248.2h0M229.5 247.8h0M232.5 247.3h0M250.3 246.6h0M242.5 251.2h0M233.5 270.4h0M233.7 264.8h0M240.5 261h0M239.9 275h0M243.2 308.9h0M238.6 304.2h0M241.6 308.9h0M232.5 307.7h0M240.1 305.9h0M243.4 310.8h0M237.8 307.8h0M232.8 305.6h0M232.4 310.4h0M234.9 312.6h0M241.8 302.2h0M241.3 314h0M234.9 328.3h0M243.2 329.2h0M234.3 329.3h0M245 327h0M239 324.2h0M244.4 325.3h0M235 330.8h0M249 348.6h0M249.8 347.8h0M247.9 347.3h0M248 348.5h0M421.4 22.1h0M419.2 23.3h0M417.9 29.7h0M415.6 28.1h0M421.3 25.4h0M404.7 27.6h0M417.5 30h0M422.3 28.2h0M408.4 20.6h0M420.1 18.9h0M420.5 30.6h0M422.5 21.9h0M422.4 27.7h0M407.9 46h0M403.7 48.7h0M401.3 45.1h0M402.3 48.5h0M405.5 68.9h0M405.3 68.9h0M400.4 63.3h0M400.3 67.4h0M402.3 60.7h0M402.1 69.3h0M404.4 69.8h0M406.2 62.8h0M406.4 67.7h0M402.2 88.1h0M401.4 84.3h0M403.3 86h0M401.8 82.9h0M403.5 90.2h0M405 81.8h0M404.7 88.6h0M406.9 83.9h0M402 106.7h0M409.6 105.2h0M398 106.2h0M399.7 107.4h0M407.2 105.3h0M404.9 108.4h0M408.2 106.1h0M408.1 104.4h0M399.4 107.1h0M402.8 100.1h0M404.5 100.1h0M406.8 108.5h0M409.3 104.4h0M404.4 125.6h0M400.3 125.2h0M399 125.1h0M401.3 128.2h0M405.2 148.5h0M406.7 143.6h0M448.9 24h0M446.3 27.5h0M440.7 24.7h0M446.7 30.4h0M430 42.3h0M450.7 47.3h0M438.6 44.1h0M434.6 45.6h0M429.6 47h0M431.5 43.4h0M436 39.9h0M447.8 45.8h0M428.6 43.9h0M434.9 39.4h0M436.5 39.7h0M438.5 41.4h0M438.3 49.3h0M447.6 43.8h0M458.8 39.8h0M464.8 46.8h0M451.7 65.5h0M441.7 64.4h0M450.8 64.2h0M450.5 64.7h0M447.9 67.8h0M444.3 68.7h0M446.3 71.2h0M448.4 61.1h0M450.8 67h0M442.8 85.6h0M443.2 88.1h0M441.3 86.8h0M450.5 85.5h0M441.1 84.2h0M440.5 86.5h0M446.9 79.7h0M452.8 86.4h0M449 108.2h0M446.9 109.3h0M451.1 105.9h0M442.4 104.2h0M448.8 101.9h0M445.9 102.8h0M447.5 102.8h0M444.9 101.1h0M447.3 110.9h0M449.7 102.6h0M449.6 108.5h0M452.7 125.9h0M449.8 123.1h0M450.1 126.9h0M449.9 125.9h0M443 144.7h0M449.4 145.8h0M443.5 147.4h0M443.2 145.9h0M447.3 140.4h0M487.3 22.5h0M494.3 45.8h0M493.7 46.4h0M492.4 42.5h0M487.5 41.8h0M491.8 48.2h0M499.7 65.3h0M495.5 65.8h0M499.4 66.2h0M492.1 62.5h0M491.4 64.2h0M491.1 67.7h0M476.7 63.6h0M493 66.8h0M495.3 65.4h0M483.6 63.6h0M484.8 61h0M487.3 66.7h0M489.1 63.2h0M489.2 66.8h0M495.8 66.4h0M497.4 63.7h0M489.7 88.9h0M487.7 88.4h0M492.2 82.9h0M494.2 84.8h0M494.5 85.7h0M485.3 105.2h0M486.2 105.1h0M489.6 102.2h0M485.3 104.5h0M487.6 102h0M489.1 99.8h0M489.4 111h0M492.7 102.9h0M492.3 107.7h0M494.6 105.9h0M490.3 126.8h0M486.8 124.8h0M488.1 129h0M490.7 120.8h0M492.8 123.7h0M492 145.8h0M493.3 145.1h0M487.8 145.4h0M486.6 145.8h0M491.3 144h0M490.9 143.1h0M489.6 151.4h0M491.8 148.3h0M535 25.6h0M535.8 26.1h0M531 21.3h0M531 21.4h0M536.5 24.1h0M531.5 47.4h0M535.4 44.3h0M528.2 43.3h0M538.6 45.1h0M527.6 43.2h0M525.1 44.6h0M524.9 45.9h0M526.6 47h0M538.9 43.6h0M534.3 67.4h0M528.5 65.9h0M528.7 65.1h0M529.9 64.6h0M534.7 62.2h0M533.6 60.9h0M533.5 69.5h0M535 62.6h0M537.5 64.7h0M523.7 85.7h0M522.6 84.1h0M532.8 87.1h0M524.2 83.9h0M520.4 84.5h0M529.5 84.4h0M533.4 81.4h0M525.6 84.6h0M537.3 84.8h0M533.8 87.5h0M521.8 85.3h0M525.6 85h0M522.8 83.4h0M522.7 86.9h0M524.1 84.1h0M524.5 86.5h0M528.7 80.9h0M530.6 84.4h0M530.6 86.3h0M532.8 80.4h0M535 103.3h0M529.1 105h0M529.5 103.8h0M530 106.7h0M532 110.4h0M533.5 101.8h0M534 109.4h0M535.7 104.3h0M535.7 106.9h0M535.1 126.6h0M533.6 129.3h0M535.7 124.7h0M530.8 148.5h0M532.2 139.5h0M571.3 25.4h0M576.9 25.1h0M577.2 29.2h0M569.8 24.2h0M572.5 23h0M574.7 22.8h0M574.8 48.2h0M580.4 44.7h0M570.5 45.5h0M574.4 43.4h0M580 46h0M571.5 64.9h0M573.1 66.1h0M579.4 64.1h0M578.7 65.8h0M574.1 64.2h0M575.5 71.3h0M576.9 69.3h0M579 67.2h0M578.2 87.5h0M573.4 83.6h0M578.9 86.6h0M572.4 86.5h0M572.2 85h0M572.3 83.6h0M574.7 80.5h0M576.6 89.1h0M578.7 83.9h0M582.8 106h0M578.5 105.5h0M570.3 106.7h0M570.3 106.9h0M570.2 104.4h0M570.6 104.5h0M573.9 104.4h0M581.6 107.1h0M571.2 104.9h0M571.4 106.1h0M582.5 104.3h0M574.1 107.9h0M576.5 104.9h0M577.7 105.4h0M572.4 105.9h0M579.3 104.2h0M579.7 106.3h0M570.4 106.5h0M574.5 102h0M574.2 108.8h0M576.5 102.2h0M576.3 108.9h0M578.6 106.5h0M580.7 109.3h0M577.9 125.5h0M572.8 125.4h0M574.3 122.5h0M577.7 145.8h0M574.5 149.1h0M618.1 20.1h0M615.1 22.4h0M617 19.8h0M622.5 44.9h0M615.3 46.6h0M614.9 46.3h0M616.6 40.3h0M618.6 50.4h0M621.1 65.8h0M618.2 60.3h0M616 64.9h0M616.8 61.1h0M617.8 61.2h0M614.7 66.4h0M616.6 61.3h0M616.6 68.9h0M618.1 59.3h0M620.5 62.6h0M622.5 65.5h0M614.4 86.1h0M619.3 84.8h0M616.1 84.3h0M618 88.6h0M617.2 87.1h0M615.4 87.5h0M617.6 80.4h0M617.7 90.7h0M621.9 84.3h0M621.3 104.8h0M621 105.9h0M617.5 101h0M619.2 101.8h0M614.1 119.7h0M610.2 125.2h0M611.8 127.4h0M612.8 127.8h0M612.5 126.9h0M620.9 125.9h0M614.6 122.2h0M620 125.5h0M620.5 125.3h0M610.8 126.7h0M612.8 121.3h0M612.7 129.4h0M614.9 120.9h0M617.4 124h0M619.2 141.5h0M620.4 146.7h0M622.1 146.2h0M659.6 27.2h0M658.5 24.6h0M659.2 22h0M661.9 42h0M664.4 44.4h0M660.3 42.2h0M664.9 45.7h0M657.3 43.7h0M663.6 47.3h0M658.2 65.6h0M663.6 63.3h0M661.2 83.1h0M660.1 88.8h0M660.6 83.5h0M658.1 85.3h0M659 82.4h0M659.5 88.1h0M661.5 89.6h0M663 83.5h0M663 86.9h0M661.7 104.6h0M662.9 104h0M659.1 104.3h0M660 102.2h0M660 108.2h0M658 124.8h0M657.8 126.4h0M658.2 127.5h0M662.4 129.2h0M664 127.2h0M660.8 147h0M662.1 143.9h0M663.7 144.6h0M665.7 144h0M665.8 147.5h0" stroke="#007ef6" stroke-width="2.5" stroke-linecap="round" fill="none"/><path d="M113.9 26.6h0M188.4 26.4h0M131.6 26.6h0M118.2 26.5h0M171.5 26.2h0M168.4 26.5h0M190.8 26.6h0M257.2 30.1h0M151.8 26.8h0M119 27h0M151.9 26.5h0M115.6 27.4h0M113.2 25.8h0M118.9 27.4h0M152.6 27h0M194.6 26h0M159.7 26.6h0M144.5 27h0M270.2 28.2h0M187 27.1h0M129.7 25.5h0M110.3 25.9h0M114.3 27.4h0M118.4 27.7h0M126.8 25.5h0M136.7 25.8h0M139.3 27h0M186 25.9h0M191.1 27.1h0M193.1 25.9h0M193.6 26.9h0M195.2 26.4h0M211.1 47.9h0M236.5 52.2h0M202.3 48.4h0M243.3 44h0M223.6 45.6h0M221.4 40.4h0M216.1 42.9h0M218.4 43.2h0M204.4 44.1h0M231.3 42.8h0M204.6 43.9h0M204.7 49.2h0M206.5 43.1h0M209.2 42.4h0M213.2 51.2h0M215.6 41.6h0M217 52.4h0M218.9 52.4h0M221.1 40.2h0M221 52.8h0M222.9 40.5h0M222.7 53h0M225.1 53.4h0M209.5 67.1h0M230 60.6h0M217.4 65.3h0M240.2 64.8h0M242 65.8h0M242.9 61.9h0M225.8 67.6h0M244.1 65.7h0M234 61.6h0M236.6 72.2h0M253.2 70.1h0M232.1 69.9h0M233.7 66.5h0M233.8 71.8h0M224.2 69.6h0M230.7 70.3h0M236.8 71.9h0M239.5 59.9h0M239.6 73.6h0M241.5 60.1h0M271 87.4h0M240.8 86.2h0M262.1 86.6h0M240.5 80.2h0M239.8 85.8h0M235.2 86.8h0M238.3 87.2h0M237.6 89.2h0M266.7 86.3h0M240.7 80.4h0M241.8 108h0M233.9 103.5h0M243.9 109.6h0M229 103.2h0M246.8 104.2h0M251.7 125.2h0M262.4 127.2h0M262.8 127.4h0M237 128.3h0M268.5 127h0M262.2 126.6h0M237.7 123.4h0M243.4 147.8h0M243.9 149.2h0M243.1 147.3h0M243.2 148.4h0M238.1 148.6h0M249.3 148.6h0M224.8 147.1h0M242.3 145.1h0M240 151.4h0M239.1 162.4h0M251 167.9h0M251.2 168.1h0M244 162.2h0M243.8 172.4h0M246.1 164h0M257 187.7h0M245.2 184h0M238.3 187.7h0M252.8 186.5h0M264.8 186.9h0M254.9 186.6h0M264.4 186.9h0M244.5 193.2h0M248.7 185.1h0M252.9 186h0M255.2 187.9h0M239.9 211.7h0M229.3 206.6h0M235.8 205.9h0M233.3 205.7h0M249.9 204.6h0M240.3 204.5h0M250 207.3h0M231.9 211.5h0M233.9 201.4h0M241.8 212.8h0M260.4 227.2h0M262.5 228h0M260.8 227.4h0M252.3 227.8h0M234.2 228.9h0M233.9 224.1h0M234 230.6h0M237.9 221.1h0M238.1 233.9h0M240.3 233.7h0M242.2 223.8h0M246.3 225.3h0M246.2 229.6h0M248.3 226.2h0M250.4 226.8h0M250.4 228.5h0M254.1 226.5h0M256.6 226.6h0M258.5 228.1h0M261.1 227h0M264.8 228.1h0M234 249.2h0M246 244.7h0M249.3 247.5h0M247.8 248.5h0M242.7 249.8h0M246.1 247.1h0M243.9 250.6h0M233 246.7h0M244.7 244.3h0M246.4 244.4h0M248.4 250.3h0M229.4 268.1h0M239.1 260.8h0M231.9 267.9h0M232 265.2h0M232.2 270h0M234 272.2h0M234.4 305h0M232.2 308.1h0M240.8 304.7h0M234.6 307.1h0M233.5 305.4h0M236.9 302h0M237.2 313.8h0M234.3 328.7h0M244.6 327h0M235.2 325.1h0M239.4 331.6h0M243 323.6h0M233.1 326.6h0M233.2 329.2h0M235.2 325.1h0M237.4 323.1h0M247.1 347.1h0M234.3 347.8h0M244.2 348.2h0M244.5 349.2h0M250.1 348.4h0M238.4 350.1h0M246.1 346.3h0M417.1 21.1h0M417.5 30.8h0M413.9 21.9h0M416.3 19.8h0M418.3 18.6h0M418.4 31.2h0M397.1 44.8h0M405.9 47.6h0M400.2 42.7h0M400 66.5h0M406.8 66.4h0M404 69.1h0M404.8 60.2h0M407.5 85.8h0M406.3 86.1h0M401.8 88h0M403.7 80.2h0M406.6 86.4h0M399.8 103.7h0M403 109.5h0M408.8 105.9h0M404.6 110h0M404.3 110.8h0M399.6 124.6h0M401.7 123.4h0M406.6 126.4h0M402.9 144.3h0M404.6 150.3h0M406.4 147.7h0M449.2 27.8h0M448.9 44.3h0M445.6 45h0M429 43.8h0M445.9 45.2h0M449.4 64.6h0M449 82.3h0M442.8 82.6h0M442.7 88.2h0M446.7 91.1h0M448.7 81.2h0M451 82.8h0M452.8 84h0M450.1 106.7h0M451.1 104.3h0M447.3 128.4h0M451.7 125.5h0M451.7 125h0M446.1 120.5h0M448.1 121.5h0M448.4 129.6h0M450.5 127.9h0M452.4 126.1h0M444.6 146h0M449.5 147.3h0M490.8 46.2h0M494.1 45.3h0M489.3 65.7h0M493.3 66.4h0M491.8 67.7h0M487.2 63.9h0M496.7 64.3h0M487 64.3h0M495.2 66.3h0M495 65.7h0M490.4 63.8h0M492.6 66.4h0M485.1 69.4h0M487.4 63.3h0M487.4 83.1h0M485.6 84.9h0M485.4 85.7h0M487.7 82.6h0M490 80.3h0M489.8 90.7h0M494.5 105.1h0M490.8 110.2h0M494 104.9h0M493.4 126.1h0M489.2 124.7h0M491.7 123.9h0M486.5 126.4h0M488.3 121.8h0M490.5 129.9h0M493 126.9h0M487.1 143.6h0M493.6 145.2h0M493.4 146.4h0M535.7 65.3h0M536.8 64.5h0M531.9 59.8h0M535.1 67.5h0M537.5 65.8h0M528.1 85.2h0M534.9 84.6h0M535.7 105.1h0M530.4 103.1h0M532.4 101.2h0M535.2 104.5h0M529.1 105.9h0M531.4 107.3h0M535.9 126.6h0M529.1 124.7h0M529.1 126.4h0M531.5 121.2h0M531.5 129.7h0M535.9 126.5h0M532.2 149.3h0M531.3 149.9h0M532 151.6h0M573.7 46.4h0M577.6 42.3h0M579.6 64.3h0M572.7 67.7h0M575.4 58.8h0M576.9 61.4h0M579 63.7h0M574.7 86.8h0M572.2 86.3h0M576.9 81.2h0M578.5 87.2h0M570.5 106.5h0M571.2 104.3h0M569.5 107.7h0M570.5 104.4h0M576.6 129h0M573.9 142.5h0M615.3 43.4h0M615.1 43.2h0M615.1 47.1h0M619.4 67.4h0M618 61.2h0M615 64.1h0M618.5 70.9h0M619.2 86.9h0M614.9 85.5h0M619.7 88.3h0M622.2 86.1h0M618.7 104.5h0M616.3 106h0M620.5 105h0M619.3 109h0M616.7 125.1h0M622.4 125.5h0M623 125.1h0M622.9 126.2h0M616 142.3h0M620 141.7h0M619.8 149.5h0M657 46.5h0M659.5 49.3h0M659.5 62.9h0M659.6 61.5h0M661.9 86.9h0M659.5 84.6h0M662 102.4h0M660 145.1h0" stroke="#006fed" stroke-width="2.5" stroke-linecap="round" fill="none"/><path d="M137 26.7h0M185.9 26.3h0M178 26.6h0M197.2 26.2h0M256 21.6h0M279.3 26.1h0M189.2 26.7h0M212.2 44.5h0M232.8 51.1h0M199.9 46.5h0M230 41.4h0M232.4 43.9h0M246.1 46.7h0M237.5 52.5h0M213 43.4h0M220.3 51h0M246.3 40.6h0M219 40.9h0M225 39.9h0M226.9 40.4h0M226.8 52.9h0M253.8 66.4h0M216.4 67.1h0M238.4 60.9h0M245.5 67.7h0M244 68h0M247.5 64.1h0M241 73.5h0M243.5 60h0M243.6 73.5h0M236.6 88.8h0M229.7 88.1h0M228.1 83.2h0M270.7 86.2h0M248.3 91.8h0M267.1 86.8h0M238.4 89.7h0M241.8 93.1h0M235 90.2h0M236.8 83.1h0M236.8 90.3h0M227.8 105.1h0M253 105.3h0M225.8 106.6h0M229.3 107.8h0M224.9 106.2h0M230.1 108.5h0M227 104.8h0M227.1 108.7h0M246.4 110.1h0M232.9 125.9h0M236.2 127.6h0M233.6 143.4h0M244.1 144.4h0M242.3 173.7h0M241 167h0M240.6 165.5h0M258.6 167.1h0M246.6 165.3h0M264.8 187.8h0M260.8 187.6h0M240.7 187.3h0M235.8 188.4h0M242.4 194.1h0M256.2 207.5h0M238 212.8h0M263 227.5h0M232.8 229.1h0M248.8 227.3h0M246.9 227.6h0M227.4 227.6h0M235.3 229h0M231.8 225.2h0M240.2 221.6h0M242.3 230.9h0M243.7 224.2h0M254.1 228.3h0M256.3 228h0M242.1 245.9h0M248.4 249.9h0M232 247.8h0M246.1 245.9h0M238.5 240.5h0M240.1 240.6h0M240.5 254.3h0M229.4 267.5h0M238.2 260.8h0M238.1 274.8h0M242 274.1h0M243.3 304.5h0M235.3 330h0M238.4 327.2h0M235.5 324.6h0M243.5 331.5h0M232.8 327.6h0M240.7 334.9h0M235.6 347.8h0M243.6 351.1h0M245.5 347.7h0M240.3 347.3h0M235.8 348.3h0M241.6 340.5h0M243.7 351.9h0M416.6 22.3h0M415.2 25.6h0M418.6 19.3h0M398.1 45.8h0M405.6 40.9h0M400.2 65.9h0M405.3 85.5h0M403.4 85.5h0M407.3 104.7h0M403.5 107.2h0M404.2 107.1h0M400.9 101.8h0M406.9 102.5h0M401.1 127.5h0M399.4 125.7h0M401.2 122.6h0M402.7 120.4h0M406.8 124.5h0M401.9 148.4h0M444.8 45.5h0M452 64.8h0M448.1 69.6h0M450.6 63.1h0M444.8 80.9h0M450.7 87.9h0M449.8 105.9h0M447.3 99.9h0M451.3 106.7h0M444.1 123h0M444.2 128h0M446.3 130.7h0M446.7 145h0M488.4 22.3h0M482.2 64.7h0M493.1 83.7h0M493.4 85.3h0M485.9 85.5h0M488.1 123.3h0M488.4 125.8h0M488.7 144.5h0M487.2 147.5h0M527 43.5h0M531.1 40.6h0M535.2 48.7h0M529.5 67.3h0M536.3 84.4h0M537.3 84.7h0M537.1 85.6h0M535.1 86.3h0M529 104.9h0M530.4 103.1h0M576.7 44.1h0M575.6 84h0M578.2 85.6h0M575.7 87.6h0M578.1 84.9h0M572.6 86.6h0M574.8 90.4h0M568.7 105.9h0M568.3 106.5h0M573.4 124.9h0M574.1 128.7h0M576.2 121.6h0M620.3 47.8h0M613.2 44.8h0M621 42.9h0M622.4 44.9h0M615.4 64.1h0M621.8 64.8h0M620.5 67.9h0M619.1 84h0M623.9 126.1h0M620.7 144h0M664.6 65.7h0M658 65.1h0M657.8 64.6h0M661.6 69.4h0M663.3 66.9h0M659.5 105.3h0M658.8 105h0M660.7 130.6h0M656.6 125.5h0M664.2 123.7h0M660.7 144.2h0M649.8 145.8h0M659.9 146.6h0" stroke="#575fdf" stroke-width="2.5" stroke-linecap="round" fill="none"/><path d="M267.9 24.9h0M279.5 27.5h0M161.3 26.5h0M131.2 27.1h0M253.3 29.6h0M257.5 33.4h0M126.7 26.6h0M273.1 24.9h0M278.6 27.7h0M280.2 27.7h0M284.6 27.2h0M235.1 50.2h0M296.2 46.5h0M232.2 42.2h0M290.4 46.4h0M228.7 40.8h0M228.8 52.6h0M231.3 40.9h0M232.4 40.9h0M232.8 52.2h0M234.3 52.3h0M247.5 63.3h0M241.3 64.9h0M247.1 60.3h0M247.5 73h0M249 60.7h0M226.2 83.7h0M233.1 85.8h0M223.9 88.4h0M228.3 87h0M229.7 83.4h0M232.8 90.6h0M246.7 104h0M226 108.4h0M227.4 107.6h0M258.6 108.3h0M220.9 107.3h0M223.6 107.9h0M225 105.8h0M235.4 127.5h0M235.9 125h0M236.1 128.7h0M247.9 146.3h0M245.3 147.7h0M246.1 149.3h0M246 144.6h0M243.9 165.3h0M241.9 160.6h0M241.9 173.9h0M247.5 184.3h0M240.2 181.9h0M239.9 192.6h0M242.1 181.1h0M246.7 204.7h0M250.9 207.4h0M244.8 206.4h0M244.3 202.1h0M249.9 210.2h0M231.1 227.2h0M261.6 227.3h0M229.7 227.8h0M240.1 231.5h0M237.7 227.4h0M239 231.6h0M240.4 232.4h0M251.8 227h0M246.7 228.1h0M248.4 228.5h0M227.8 228.3h0M229.1 226.3h0M231.5 229.6h0M236.2 222.5h0M236.2 232.5h0M237.1 241.1h0M231.6 246.7h0M243.7 245.9h0M240.2 247.1h0M230.4 247.9h0M234.9 244.6h0M236.5 241.2h0M236.9 254.3h0M238.7 254.6h0M250.9 249h0M232.9 265.8h0M241.3 271h0M230.4 266.6h0M229.9 268.4h0M234 263.5h0M235.9 261.4h0M236.2 273.8h0M239.7 260.6h0M241.9 261.3h0M244 262.8h0M254.2 308.2h0M243.2 311.1h0M245.8 309.8h0M237 332.9h0M238.9 333.8h0M240.6 321h0M243.7 344.3h0M416 20.8h0M414.4 23h0M405.5 22.1h0M399.1 45.2h0M408 44h0M407.7 43h0M409.7 45.8h0M400.9 62.9h0M407.2 107.4h0M399.1 103.8h0M400.8 108.6h0M409 106.1h0M405.9 123.8h0M404.9 121.8h0M403.9 143h0M404.5 140.8h0M445.4 25.1h0M445 23.4h0M451 48h0M449.3 49.8h0M447.8 67.5h0M451.2 63.9h0M445.1 68.4h0M451.8 65.1h0M453.3 84.5h0M449.8 86.6h0M443.4 105.4h0M445.1 108.7h0M443 103.6h0M442.7 106.9h0M450.5 124.8h0M450 124.9h0M446.1 124.5h0M452.3 125.4h0M442.8 125.8h0M450.2 123.3h0M452.2 124.4h0M451.1 145.5h0M443.5 143.5h0M447.7 150.6h0M488.2 41.2h0M490.1 50.4h0M492.1 41.7h0M476.3 65.5h0M481.5 63.6h0M483.8 67.2h0M493.7 86.3h0M487.3 83h0M489.6 84.5h0M490 109.1h0M488.5 124.8h0M492.9 126.5h0M487.5 144.1h0M532.1 23.3h0M527.8 43.1h0M536.5 47.5h0M536.7 64.2h0M529.8 63h0M531.9 70.3h0M537.5 83.8h0M536.4 85.5h0M538.6 83.2h0M539.4 84h0M536.7 86.6h0M537.5 83.9h0M535.6 84.2h0M537.8 81.7h0M539.7 86.5h0M536 105.6h0M530.6 127.3h0M530.1 123.7h0M529.6 145.7h0M580.6 24.6h0M571 24.4h0M572.8 48h0M571.4 46.7h0M579.6 64.1h0M571.9 66.3h0M572.5 62.9h0M568.2 106.9h0M574.2 148.8h0M576.5 148.6h0M619.3 26.2h0M621.9 45.6h0M613.4 45.7h0M619 40.3h0M620.7 47.4h0M614.6 65.3h0M620.9 86.6h0M616 83.9h0M623.5 125.9h0M619.1 144.5h0M620.4 144.3h0M616.2 148.9h0M617.4 151.6h0M656.5 45.2h0M657.5 45.7h0M660.1 85.8h0M662.1 127.5h0M660.2 121.1h0M648.6 145.1h0M650.3 145.5h0" stroke="#794cce" stroke-width="2.5" stroke-linecap="round" fill="none"/><path d="M197 25.9h0M262.9 19.8h0M262.4 33.1h0M264.7 20.6h0M267.2 21.5h0M269.3 30.3h0M272.9 28.4h0M274.7 25.5h0M274.9 27.8h0M276.7 27.6h0M278.3 25.5h0M280.3 26.1h0M282.2 25.7h0M284.7 26.1h0M286.1 27.2h0M224.9 48.4h0M230.8 51.8h0M250.8 49.6h0M247.9 52.6h0M260.4 47.9h0M280.9 46.8h0M294.1 47h0M290.7 46.8h0M215.4 47.5h0M242.2 52.5h0M218.1 45h0M236.6 42.4h0M230.8 52.3h0M238.9 53.3h0M251 63.7h0M254.4 65.7h0M245.3 59.6h0M245.6 73.6h0M248.8 72.4h0M228.9 82.8h0M231.4 82.8h0M231 91h0M233 83h0M234.9 83.6h0M226 107.2h0M253.5 106.6h0M257.3 106.8h0M223.2 106.1h0M220.5 107.3h0M221.2 106.5h0M223.4 106.4h0M225.1 108h0M248.9 105.1h0M248.7 109.2h0M250.3 105.1h0M250.5 146.5h0M248.3 148.3h0M246.2 149.1h0M247.8 144.9h0M239.4 165.5h0M223.3 166.8h0M240.1 160.7h0M240.2 173.8h0M238.1 182.9h0M238 191.6h0M257.6 207.1h0M257.5 207.5h0M253.3 208.3h0M248.3 202.7h0M250.2 204.2h0M226.8 227h0M232.3 226h0M234.2 229.8h0M227.8 227h0M229.2 228.4h0M239.5 241h0M233.6 249.4h0M232.3 248.2h0M241.8 243.1h0M237.9 251.8h0M234 245.8h0M230.9 247.2h0M232.5 246.5h0M232.3 248.7h0M236 271.8h0M233.1 270.4h0M234.8 266.9h0M245.9 269.3h0M244 272.6h0M250.2 307.6h0M246.3 307.3h0M245.6 306.4h0M247.1 306.8h0M239 321.9h0M243.2 323.3h0M243.1 332.6h0M241.2 353.1h0M231 347.7h0M235.7 347.4h0M241.9 355.6h0M413.8 22.6h0M409.4 21.9h0M415.5 23.5h0M414.2 21.1h0M414.4 29.2h0M404.6 49.8h0M404 43.7h0M404 46.3h0M401.7 44.8h0M397.8 44h0M402.1 40.9h0M402 49.7h0M407.5 47.5h0M400.1 125.7h0M405.3 126.7h0M407.4 125.4h0M445.4 27.8h0M451.3 24.3h0M464.2 47.2h0M445.8 44.8h0M447.5 46.4h0M449.6 40.7h0M450.8 41.6h0M450.7 48.6h0M452.7 85.9h0M452.1 84.4h0M448.6 81.2h0M443.7 103.2h0M442.1 106.2h0M452.7 125.8h0M443.9 147.2h0M492.5 27.1h0M492.3 42.7h0M493.3 43.4h0M486 42.8h0M482.7 64.7h0M481.1 64.3h0M481.2 66.2h0M485.9 86.3h0M485.5 104.9h0M487.7 106.7h0M488.7 103.4h0M489.8 125.1h0M534.3 26.4h0M533.9 23.5h0M528.6 23.8h0M535.7 23.1h0M537.2 24.8h0M527.4 44.3h0M528.7 42.4h0M530.7 49.7h0M535.1 67.6h0M536.3 84.1h0M537.5 88.9h0M539.8 84h0M533.3 126.2h0M534.1 145.2h0M534.3 146.2h0M569.7 25.8h0M574.1 30.2h0M575.8 30.9h0M571.1 45.5h0M573.5 41.4h0M573.9 49.1h0M577.6 47.9h0M572.5 85.1h0M568.3 104.5h0M573.2 145.2h0M613.9 44.5h0M619.3 41.7h0M614.4 65.1h0M619.7 66h0M616.8 87.5h0M623.9 125.4h0M658.9 25.6h0M659 27.7h0M665 45.3h0M663.7 63.7h0M658.9 85.4h0M662.6 127.6h0M648.8 146.5h0M648.8 146.9h0M649 146.7h0M648.7 144.1h0M648.6 147h0" stroke="#9233b9" stroke-width="2.5" stroke-linecap="round" fill="none"/><path d="M264.7 23.9h0M282.9 26.4h0M285.9 26.8h0M257.3 25.6h0M286.2 26.7h0M260.3 31h0M269.5 26.4h0M196.8 27.3h0M254.9 33.4h0M260.7 33.7h0M265 32.5h0M271.3 24.2h0M271.2 29.4h0M276.3 25.4h0M282 27.2h0M286.4 25.9h0M295.4 26.6h0M229.1 44.6h0M233.9 41.2h0M229.7 48.4h0M247.5 43.9h0M254.5 44h0M242.4 52.3h0M222.5 41h0M249.7 46.4h0M228.7 46.9h0M295.7 46.2h0M267.2 46h0M287.1 45.9h0M281.1 47.2h0M293.2 46.3h0M296 46.4h0M234.5 41.1h0M236.7 40.6h0M236.6 52.8h0M238.8 40.4h0M240.3 40h0M240.2 53.5h0M242.7 53.1h0M252.1 63.9h0M256.9 65.8h0M252.4 62.7h0M258.4 65.7h0M255.5 64.6h0M251.2 71.8h0M230.4 86.7h0M233.3 89.8h0M232.4 89.4h0M226.7 83.2h0M228.9 90.8h0M251.1 105.8h0M219.8 107.4h0M221.9 106.6h0M219.6 107.2h0M226.5 108.6h0M251.4 107.8h0M220.3 107.2h0M250.7 109h0M252.7 105.1h0M252.4 108.6h0M228.6 127.5h0M248 145.8h0M248 146.7h0M244.7 146h0M249.8 147h0M247.8 148.9h0M240.1 167.1h0M239.1 170.2h0M236.8 166.2h0M236 189.2h0M238.1 187.4h0M243.4 190.6h0M239.3 184.8h0M232.8 186.6h0M237.4 187.9h0M236.5 183.7h0M236.5 190.9h0M244.2 212.6h0M245.8 201.9h0M247.9 212.2h0M252.4 206.4h0M238.1 224.6h0M239.8 222.5h0M225.7 228.1h0M233.1 247.8h0M234.6 250.1h0M250.6 246h0M231.1 266.5h0M246.3 309.1h0M252.4 308.6h0M251.4 308.5h0M245 325.7h0M239.4 348.3h0M235.9 347.2h0M236.1 349.2h0M237.6 350.3h0M239.5 343.5h0M239.7 353.1h0M252.1 348.4h0M404.9 25.6h0M398.2 21.2h0M397.1 25.7h0M407.9 24.9h0M399.9 47.5h0M405.7 63.2h0M400.9 104.2h0M401.2 108.4h0M404.3 127.7h0M405.9 125.6h0M404.2 142.3h0M404.6 145.7h0M404.4 150h0M451.1 25.1h0M445 22.2h0M449.1 28.1h0M448.6 44.5h0M461.5 43.5h0M463.3 46.4h0M448.2 44.5h0M465 43.7h0M449.6 63.7h0M447.7 69.4h0M439.5 85.2h0M445.1 101.7h0M452.8 125.4h0M444.5 146.5h0M447.7 141.8h0M485.5 25.6h0M491.9 27.8h0M487.1 27.7h0M485.9 47.2h0M480 64.2h0M483.2 65.9h0M481.4 65.7h0M493.6 84.6h0M490.3 144.5h0M489.2 149.4h0M528.9 23.7h0M528.5 26.1h0M532.9 41.2h0M535.7 46.1h0M524.8 44.7h0M537 42.5h0M529.8 66h0M539.6 86.6h0M537.7 88.1h0M530.3 145.9h0M530.2 146.9h0M581.1 24.6h0M569.8 26h0M571.5 22.1h0M576.6 46.6h0M571.6 43.8h0M580.2 44.1h0M577 62.3h0M616.1 25.8h0M616.5 27.7h0M618.8 20.7h0M617 49.3h0M618.5 84.2h0M615.1 83.7h0M620.7 146.8h0M664.9 45.5h0M660.1 41.4h0M660.9 121.2h0M659.5 146h0M649.9 145.5h0" stroke="#aa17a7" stroke-width="2.5" stroke-linecap="round" fill="none"/><path d="M202.2 27.4h0M221.2 28.2h0M260.5 27.4h0M273.7 26.6h0M236.7 29.6h0M285.7 26.4h0M272.2 28.4h0M250.6 21.7h0M253.2 20.6h0M258.7 19.2h0M260.8 19.5h0M267.3 31.4h0M269.7 23.5h0M226.7 42.7h0M262.8 46.3h0M263.9 46.3h0M262.5 44.3h0M254.5 43.6h0M288.7 46.3h0M265.6 44.8h0M243.2 42.1h0M245.3 51.8h0M273 47.2h0M273.5 48.2h0M262.1 48.6h0M237.4 45.3h0M293.1 46.5h0M290.5 46.7h0M283.5 46.4h0M284.1 46.9h0M273.4 44.9h0M249 42.1h0M242.5 40.1h0M244.3 40.4h0M246.2 40.5h0M248.2 40.4h0M249.7 40.5h0M289.2 47.2h0M312.5 46.7h0M263.6 66.1h0M247.3 65.1h0M256.6 65.9h0M249.8 62.4h0M250 62h0M251.2 61.8h0M253.8 62.6h0M255 63.3h0M219.1 88.9h0M225.2 83.5h0M227.1 90.4h0M254.6 107.4h0M225.3 106.8h0M219.8 106.7h0M248.9 107.8h0M257.4 105.5h0M257.1 108.3h0M259.4 108.5h0M210.2 127.4h0M234.1 125.9h0M226.7 126.3h0M220.1 126.7h0M247.6 147.4h0M250.4 145.6h0M250.3 148.7h0M230.6 165.7h0M231.4 166.7h0M224.5 166.7h0M238.2 161.3h0M238.3 173.2h0M235.2 185h0M259 207.3h0M253.5 208h0M244.8 205.6h0M255.5 207.5h0M247.2 209.9h0M245.8 213.3h0M254 208.2h0M244 226.9h0M231.7 229.4h0M225.8 227.2h0M243.6 264.9h0M271.2 267.3h0M249.3 308h0M261.5 307.9h0M249.5 308.3h0M247.9 306.9h0M247.3 309.1h0M251.3 308.4h0M255.6 308.2h0M248.3 327.1h0M244.3 327.1h0M241.3 342h0M234.3 347.8h0M237.6 345.5h0M251.9 347.7h0M408.1 21.2h0M406.3 23.2h0M408.7 23.4h0M406.5 20.2h0M403.2 25.5h0M409.4 26.5h0M409.7 28.1h0M445 28.7h0M446.9 19.7h0M449.4 22.3h0M462.6 42.4h0M451.7 43.5h0M452.2 44.3h0M459.6 44.8h0M460.2 46.4h0M457 41.3h0M489.7 20.5h0M492.3 23h0M479.8 65.2h0M479.3 64.3h0M479.3 66h0M489.6 124.5h0M533 19.7h0M529.2 43.2h0M528.8 65.8h0M544.2 86.8h0M541.2 84.2h0M541.6 86.3h0M542.1 83.9h0M541.8 86.4h0M577.3 28.8h0M574.3 19.9h0M578 21.4h0M578 28.7h0M562.2 103.7h0M616.3 22.2h0M613.6 85.4h0M618 150.6h0M663.2 28h0M659.6 41h0M659.5 126.8h0" stroke="#c5009a" stroke-width="2.5" stroke-linecap="round" fill="none"/><path d="M252.7 28.9h0M212.3 26.4h0M219.4 27.7h0M226 28.8h0M244.3 26.4h0M199.5 26.9h0M233.6 24.6h0M197.8 26.6h0M242.4 30.5h0M230.3 25h0M206.5 27.2h0M284 26.9h0M198.1 26.2h0M233.1 30h0M246.8 22.3h0M253.2 32.4h0M254.8 20h0M256.9 19.4h0M256.7 33.5h0M258.6 33.8h0M277.1 47.1h0M255.9 49.4h0M237.4 45.7h0M279.9 47.4h0M286 47.4h0M228.9 42.4h0M287.5 46.6h0M231.2 46.4h0M237.9 47.4h0M242.1 50.1h0M290.9 46.2h0M262.4 48.7h0M264.3 47.8h0M285.9 46.4h0M276.8 48h0M276.9 47.6h0M254.7 45.6h0M280.2 46.5h0M277.3 48h0M257.9 49.4h0M244.9 42.4h0M262.3 46.2h0M291.1 46.4h0M227.5 42.5h0M246 44.4h0M267.1 44.7h0M294.1 46.2h0M244.6 52.9h0M246.4 52.7h0M250.2 52.7h0M273.3 44.7h0M277.7 45.4h0M279.8 45.7h0M283.6 45.6h0M285.3 46.1h0M285.6 47.8h0M287.2 45.9h0M287.4 47.2h0M289 46.2h0M292.8 47.1h0M295.1 47h0M254.6 67.1h0M253.8 69.5h0M248.3 64.9h0M252.2 64.8h0M270.7 66h0M246.2 69.4h0M249.5 65.5h0M265.4 67.6h0M253.4 71.3h0M255.3 70.4h0M227.1 83.3h0M207.5 87.5h0M230.4 88.2h0M226.5 88h0M213.4 87.9h0M213.9 87.2h0M223.5 84.7h0M252.4 105.5h0M252.5 107.3h0M256.7 105.7h0M264.8 107.2h0M269.3 107.7h0M258.1 107.4h0M262.6 107.4h0M254.8 105.3h0M254.6 108.4h0M259.1 105.9h0M260.9 108h0M263.5 106h0M232.6 127h0M220.9 126.9h0M230.4 127h0M228.8 126.8h0M229.7 128h0M231.5 126.1h0M233.9 126h0M233.7 128.5h0M254.9 147.6h0M273.4 147.4h0M245.1 148.1h0M260.7 146.7h0M252.8 145.9h0M252.4 148.4h0M234.8 168.7h0M232 168.1h0M225.4 166.9h0M226 167.7h0M228 166.3h0M233.3 168.8h0M233.8 164.2h0M235.9 171.8h0M216.1 187.5h0M237 185h0M226.6 187.3h0M233.3 185.4h0M233 189.5h0M235.1 189.8h0M258.4 207.7h0M259 207h0M258.5 207.5h0M252 208.4h0M226 227.8h0M239.1 231.2h0M232.2 248.7h0M252.7 248.2h0M229.1 247.9h0M261 247.3h0M259.7 247.2h0M261.9 247.6h0M252.3 248.4h0M253.5 247.6h0M252.3 247.3h0M254 267.7h0M259.8 267.6h0M244.3 269.6h0M254.2 267.6h0M261.2 267.6h0M251 267.1h0M255.8 308.4h0M247.2 308.3h0M251.3 307.2h0M249.6 307.1h0M249.5 308.6h0M255.3 307.1h0M254.2 328h0M257.3 327.8h0M243.9 324.4h0M244.5 330.5h0M408.8 28.7h0M399.9 24.9h0M399.2 22.6h0M400.8 25h0M405.7 23h0M405.3 28.1h0M400.4 25.4h0M406.6 29.5h0M403.1 141.6h0M406.2 147.9h0M442.6 27h0M460.2 41.5h0M453.4 45.4h0M454.8 43.4h0M460.4 42.8h0M449.4 43.6h0M465.6 45.4h0M462.8 41.1h0M450 88.5h0M450.7 146.2h0M489.1 30.7h0M476.9 66.5h0M476.3 64.7h0M534.5 22.1h0M536.7 25.9h0M533.3 46.5h0M543.7 85.7h0M544.1 83.5h0M544.3 83.5h0M543.7 82.9h0M565.2 104.6h0M565.2 105.3h0M560.4 105.2h0M561.5 106.5h0M560.6 104.1h0M560.7 106.3h0M566.1 103.4h0M617.5 30.7h0M628.6 126.3h0M665.2 23.6h0M664.4 44.9h0M656.9 125.2h0" stroke="#db008a" stroke-width="2.5" stroke-linecap="round" fill="none"/><path d="M223.4 25.7h0M231.2 26.1h0M209.7 28.3h0M259.2 21.7h0M273.5 27.7h0M258.6 22.4h0M239.6 27h0M218.4 26.6h0M261.3 21.5h0M226.9 28.2h0M221.3 27.4h0M241.8 24.6h0M247.5 27.7h0M282.5 26h0M283.1 27.2h0M258.5 31.7h0M225 28.5h0M216.2 24h0M283.7 26.8h0M243.6 22.6h0M198.9 26.9h0M207.3 28.1h0M213.7 29h0M217.5 23.7h0M219.1 23.4h0M219 29.6h0M221.2 30h0M227.5 23h0M227.5 30.1h0M229.1 22.8h0M230.7 23.3h0M233.3 23.1h0M234.9 23h0M235 30.4h0M236.9 30.1h0M239 22.6h0M241.3 30.6h0M242.5 22.5h0M244.5 22.1h0M249.3 22.1h0M249.1 31.4h0M251 31.6h0M292.8 46.4h0M274.8 46.5h0M248.5 48.4h0M270.6 46h0M250.3 43.3h0M263.4 48.2h0M260.1 48.5h0M250.1 49.9h0M252.5 41.4h0M283.9 46.8h0M258 51.3h0M273.1 45.6h0M272.4 48.2h0M283.5 47.2h0M257.7 43.4h0M272.9 45.4h0M260 46.6h0M295.8 46.7h0M272.1 46.2h0M247.9 53h0M252.1 52.5h0M254.3 41.1h0M253.8 52.4h0M256 41.4h0M262 51.2h0M264.1 42.5h0M264.3 51.1h0M266.3 43.4h0M268.1 43.5h0M268 49.5h0M270.1 44.1h0M269.6 49.2h0M271.3 44.3h0M271.7 48.7h0M273.8 48.7h0M275.3 45.3h0M275.4 48.5h0M279.8 48h0M282.1 45.8h0M283.9 47.8h0M290.7 46.3h0M290.7 47.1h0M292.7 46h0M295.3 46.4h0M274.7 66.2h0M254.7 64.3h0M259.5 66.2h0M265.3 65.3h0M275.8 66.3h0M265.1 65.7h0M261.4 68.9h0M255.2 67.7h0M254.7 69.5h0M247 61.7h0M274.6 66.3h0M262.9 68.6h0M257.2 64h0M257.2 69.9h0M259.8 69.2h0M261.5 69.2h0M263.5 68.4h0M224.7 88.8h0M205 87.4h0M223.5 89.5h0M222.4 86.6h0M209.3 86.4h0M205.8 87.5h0M203.1 87.3h0M204.3 86.3h0M219.8 84.6h0M221.8 89.4h0M223.2 83.8h0M223.4 89.7h0M225.5 89.9h0M287.3 107.1h0M265.5 106.4h0M286.7 107.2h0M260.5 107h0M266 107.5h0M268.7 107.9h0M266.2 108h0M287 106.5h0M218.8 107.2h0M272 106h0M219.2 106.7h0M263.1 107.5h0M262.3 107.4h0M261.2 105.7h0M267.8 105.6h0M267.8 108h0M269.1 106.3h0M271.1 107.9h0M229.1 128h0M218.8 126.7h0M212.8 126.9h0M223.3 127.3h0M224.7 126.7h0M223.1 127h0M225.5 126.4h0M215.6 127h0M219.8 126.3h0M223.8 127.6h0M225.6 126.2h0M225.5 128.2h0M229.5 126h0M231.4 128.4h0M272.1 147.5h0M254.7 146.9h0M275.5 147.6h0M258.5 146.8h0M264.4 147.5h0M254.5 145.9h0M254.3 148.7h0M258.1 146.4h0M258.1 148.3h0M260.1 147.6h0M239.8 171.4h0M233 168.4h0M223.5 167.3h0M228.2 167.8h0M232.6 168.6h0M234.2 166.4h0M224.1 167.5h0M232.6 164.8h0M232.1 169.3h0M233.7 170.5h0M229.2 186.2h0M220.6 187.1h0M219.2 186.9h0M231.2 188.4h0M221.7 186.9h0M223.7 186.6h0M225.7 186.8h0M228.1 188.2h0M229.4 188.6h0M252.4 208.4h0M256.2 207.5h0M244.8 206.3h0M258.1 207.8h0M254 206.5h0M256 206.8h0M255.7 207.9h0M258.3 248h0M253.4 248.1h0M260.2 248h0M262.5 248.2h0M264.4 247.9h0M253.9 267.5h0M265 267.2h0M263.3 267.9h0M249.8 268.3h0M267.8 268h0M265.3 267.9h0M247 267.6h0M252.9 268.4h0M267.3 267.3h0M245.8 266h0M247.8 266.6h0M247.5 269.1h0M249.9 267h0M257.5 267.1h0M263.8 266.8h0M266 267.1h0M259.2 307.5h0M250 307.3h0M258.6 307.9h0M251.2 306.9h0M253.8 307h0M253.7 308.3h0M246.4 329.3h0M259 328.2h0M249.2 328.5h0M252.9 328.3h0M253.6 347.9h0M231.6 347.7h0M256.3 348.1h0M260.4 348.3h0M239.5 349.7h0M257.8 347.8h0M393.6 22.3h0M396.4 24.9h0M391.1 23.7h0M398.1 24.8h0M392.7 28.2h0M394.1 27.4h0M393.7 25.1h0M394.3 27.8h0M396.5 24.1h0M398.3 28.8h0M404.6 21.4h0M451.2 25.9h0M456.3 44.7h0M458.9 44.4h0M452.9 44.6h0M455.1 49h0M457 40.3h0M456.6 50.1h0M458.5 50.5h0M460.9 40.4h0M460.8 49.8h0M462.6 48.6h0M490.8 29.7h0M488.2 42h0M493.4 43.4h0M478.4 66.2h0M472.5 63.1h0M476.7 65.1h0M533 29.9h0M532.9 39.5h0M543.6 86.5h0M547.9 84.8h0M543.9 83.9h0M544.1 87.6h0M530.1 148h0M575.4 51.1h0M561.8 105h0M564.8 105.7h0M561.2 104.4h0M560.5 104.5h0M566.4 104.2h0M565.6 107.4h0M562.6 103.1h0M562.4 107.8h0M564.5 102.7h0M564.4 107.9h0M565.9 107h0M617.2 26.5h0M630.6 126.4h0M632.2 125.3h0M628 125.8h0M613.7 145.1h0M617.9 139.7h0M621.9 145h0M664.3 23.5h0M661.5 30.1h0M664.9 25.9h0M658.2 148.1h0M658.1 145.4h0M655.5 145.8h0M657.7 141.9h0M657.7 149.1h0" stroke="#ec0078" stroke-width="2.5" stroke-linecap="round" fill="none"/><path d="M204 26.3h0M247 27.3h0M205.3 25.3h0M201.6 25.7h0M208.4 28.1h0M220.5 26.7h0M241.1 27h0M198.1 26h0M258.7 27.8h0M229.6 28h0M242.2 30.5h0M221.6 29h0M228.7 29.7h0M198.7 26.1h0M201.3 26.1h0M203.1 25.6h0M203.2 27.5h0M205 25.4h0M205.2 27.9h0M207.3 24.9h0M209.5 25.1h0M209.2 28.1h0M211.4 24.4h0M211.9 28.6h0M222.6 23.2h0M222.7 30.2h0M229.1 30.5h0M230.9 30.3h0M239.2 30.1h0M241.3 22.6h0M242.4 30.4h0M244.8 30.9h0M247.1 30.9h0M293.2 46.1h0M249.7 42.6h0M295.5 46.6h0M273.5 48.2h0M280.6 47.2h0M261.5 45.8h0M267.9 49.4h0M245.9 52.7h0M299.4 46.7h0M252 49.2h0M275.7 48.1h0M252.8 42.3h0M273.4 45.8h0M280.8 45.9h0M295 47h0M267.1 49.3h0M253.6 44h0M254.5 48.6h0M298.3 46.5h0M285.8 46.3h0M260 48.3h0M279.7 47.7h0M296.7 46.6h0M244.2 45.6h0M268.9 44.6h0M274.3 45.5h0M289.9 46.7h0M256 46h0M268.1 44.5h0M259.7 51.6h0M293 46.1h0M270.9 46h0M262.8 49.4h0M278.8 47.5h0M231 52.5h0M272.2 45.4h0M249.5 46h0M252.2 40.9h0M256 52.3h0M257.8 41.4h0M257.7 51.9h0M259.8 41.4h0M259.9 51.5h0M262 41.6h0M265.9 50.1h0M277.4 48.1h0M281.7 47.7h0M272.5 66.5h0M262.9 67.6h0M271.9 66.9h0M264 68h0M279.6 67h0M269.8 66.9h0M271.2 66h0M264.3 65.3h0M280.1 66.9h0M266.3 67.8h0M261.9 64.7h0M277.4 66.4h0M263.9 66.2h0M279.2 67h0M270.1 67.2h0M266 67.9h0M269.3 67.6h0M259.5 64.1h0M261.2 64.7h0M263.7 65.2h0M266.1 68.3h0M270.2 65.5h0M270.3 67.9h0M272.2 65.9h0M272.1 67.5h0M274.1 66h0M276.1 66.3h0M275.8 67.4h0M278.3 66.4h0M202 86.5h0M221.6 85.5h0M196.9 87.1h0M198.6 87.1h0M216.8 86h0M232.2 88h0M215.1 88.1h0M199.1 86.8h0M203.6 86.6h0M222.3 88.8h0M213.8 87.5h0M204.6 87.6h0M206.4 86.3h0M212.4 85.6h0M212.4 87.9h0M214.3 85.2h0M213.8 88h0M216.1 85h0M215.6 88.3h0M217.8 84.7h0M219.7 89h0M221.7 84.3h0M270.9 107.9h0M272.2 106.1h0M265.7 108.2h0M273.2 106.7h0M265.1 107.9h0M272.6 106.1h0M265.8 107.5h0M278.8 106.5h0M270.2 107.2h0M275.5 107.5h0M274.7 106.6h0M284.8 107.4h0M274.2 107.4h0M263.2 108.2h0M265.2 106h0M265.3 108h0M269.2 108.2h0M271.3 105.8h0M273.1 108.1h0M275.8 106.2h0M275.6 107.6h0M277.9 106.2h0M277.8 107.7h0M280.1 106.7h0M282.3 106.3h0M282.3 107.7h0M284.8 106.3h0M221.2 127.5h0M212 126.8h0M224.8 127.4h0M220.4 127.3h0M223.1 127.5h0M214.3 126.7h0M215.8 127.6h0M219.5 127.7h0M221.6 127.7h0M223.5 126.5h0M227.9 126.1h0M227.8 127.9h0M268.5 147.6h0M280.2 147.3h0M256.8 147h0M267.8 146.5h0M264.9 146.7h0M265.7 146.6h0M259.7 146.9h0M275.6 146.8h0M256.4 146.2h0M256.2 148.2h0M260.2 146.3h0M262.1 146.2h0M261.9 147.7h0M265.7 147.6h0M267.4 146.4h0M269.5 146.6h0M269 147.9h0M273 146.7h0M274.8 147.8h0M277 146.9h0M276.8 147.8h0M233.7 168.4h0M232.3 169h0M230.4 168.6h0M230.2 168.8h0M226 167.4h0M226.5 166.7h0M226.7 167.7h0M228.6 166h0M228.2 168h0M230.5 165.5h0M230.2 168.8h0M235.8 162.6h0M220.1 187.8h0M217.2 187.1h0M238.8 186.1h0M223.1 186.8h0M221.5 186.7h0M220.5 186.8h0M219.4 187.5h0M225.5 188h0M229.6 186.1h0M231.1 186h0M231.1 188.6h0M253.7 206.9h0M253.4 207.6h0M266.1 247.5h0M261.7 247.2h0M263.2 247.8h0M253 246.9h0M254.5 246.9h0M258.2 247.2h0M262.6 247.3h0M264.7 247.2h0M268.7 267.5h0M254 267.5h0M265.5 267.7h0M264.1 267.2h0M245.4 269h0M273.7 267.8h0M259.4 267.8h0M255.9 267.4h0M243.9 265.7h0M271.6 267.5h0M246.1 269.3h0M249.8 268.9h0M252 267.2h0M253.8 266.9h0M255.6 267.2h0M255.6 268.3h0M259.7 267.2h0M259.7 268.4h0M265.9 267.9h0M268.5 267.2h0M252.3 308.3h0M248.3 307.6h0M252 308.6h0M246.5 308.8h0M257.3 328.1h0M259.5 327.9h0M247.9 328.2h0M247.1 326.9h0M246.9 329.2h0M249.5 327.3h0M250.9 327.1h0M252.8 327.3h0M254.5 328.3h0M256.9 327.8h0M256.4 328.5h0M261.7 347.6h0M236.2 348.3h0M254.7 347.9h0M253.8 347.5h0M255.9 347.7h0M255.7 348.8h0M387.5 24h0M404.9 22.5h0M404.2 27.9h0M407.2 28.3h0M394.8 26h0M396.7 25.5h0M390 21.8h0M393 26.4h0M398 26.9h0M390.9 23.3h0M401.6 24.8h0M388.2 24.9h0M400.7 25h0M407.8 28.9h0M395.2 25h0M387.6 23.1h0M388.5 22.4h0M388.9 27.7h0M396.3 26.1h0M397.9 20.8h0M400.4 24.4h0M406.6 20h0M410.2 21.9h0M406.5 47.7h0M404.7 49.6h0M400.4 47.9h0M403.5 50.8h0M409.7 44.9h0M402.9 111h0M401.8 123.4h0M403.8 147.7h0M402.3 142.8h0M450 23.2h0M448.6 26h0M440.8 25.7h0M448.6 46.2h0M455.1 44.6h0M449.6 42.4h0M461.1 41h0M445.6 45.4h0M452.2 45.3h0M445.6 45.4h0M458.6 42.7h0M454.4 44.5h0M455.2 41.1h0M443.8 63.4h0M451.8 65.1h0M442.2 64.2h0M449.2 88.6h0M449.9 104.4h0M447.7 126.9h0M460.2 125.5h0M449.6 145.1h0M451 145.1h0M442.1 145.7h0M446 140.8h0M490.5 20.3h0M492.2 26.9h0M489.5 46.9h0M495 44.9h0M484.3 45h0M484.2 45.4h0M494.6 45h0M484.9 45.8h0M474.7 66.8h0M471.2 66.5h0M471.1 64.5h0M481 65.5h0M481.5 65.6h0M475 63.4h0M470.8 64.8h0M471.1 66.3h0M473.1 62.7h0M473.3 67.5h0M475.3 63.2h0M475.5 67.5h0M477.1 66.4h0M492.1 88h0M485.1 106.2h0M491.8 127.6h0M491.4 124.9h0M487.5 125.3h0M493.8 125.5h0M486.9 145.6h0M493.2 145.3h0M486.4 145.6h0M488.5 141.7h0M528.4 26h0M529.8 22.9h0M529.3 23.6h0M533.2 20.7h0M528.3 25.7h0M534.6 22.5h0M530.7 28.9h0M534.7 28.1h0M529.5 43.5h0M533.5 46.5h0M534 49.7h0M538.3 46.5h0M538.2 45h0M530.6 44.6h0M528.5 47.9h0M532.6 51.1h0M535.1 41.1h0M547.2 86.1h0M547 84.3h0M546.1 84.4h0M546 86.5h0M548 84.1h0M547.7 86.5h0M530.9 146.9h0M528.9 145.7h0M530.4 143.2h0M534.3 144.9h0M581.1 25h0M581.3 25.5h0M573 28h0M579.2 24.7h0M577.1 20.6h0M576.1 21h0M569.9 24h0M575.7 18.9h0M579.8 44.7h0M571.2 45.2h0M576.4 46.3h0M576.5 46.7h0M570.8 45.4h0M575.2 65.5h0M576 88.4h0M564.6 103.4h0M566.9 104.9h0M563.2 104.3h0M574 144.8h0M620.5 26.4h0M619.7 21.8h0M621.5 24.6h0M621.2 24.2h0M614.9 27.4h0M619.3 21.1h0M619.2 29.3h0M616.7 49.9h0M622.4 45.4h0M617.6 83.5h0M631.6 125.9h0M629 124.7h0M629.1 126.5h0M631.4 124.8h0M631.2 126.5h0M615.7 147.5h0M621.6 146.6h0M660.5 23.2h0M659.5 22.4h0M663.8 25.9h0M664.7 24.5h0M659.1 26.4h0M664.3 26.2h0M664.6 26.2h0M659.3 27h0M663.1 21.7h0M661.7 45.7h0M664.5 44.2h0M659.6 41.2h0M656.7 45.1h0M658.8 47.9h0M662 40.6h0M661.7 49.8h0M663.5 42.9h0M661.7 60.7h0M662.4 125.8h0M661.5 121h0M657.2 144.3h0M656.1 144.7h0M655.7 146.4h0M656 143h0M656.1 148h0" stroke="#fa0065" stroke-width="2.5" stroke-linecap="round" fill="none"/><path d="M221.2 29.6h0M211.7 26.2h0M201.9 27.3h0M240.4 24.9h0M224.9 30.2h0M206.5 27.7h0M202.5 27.6h0M255.9 33.3h0M220.6 29.2h0M286.1 26.5h0M287.7 26.7h0M212.9 28.4h0M207.6 27.5h0M248.5 26.7h0M208.8 27.5h0M234.7 29.5h0M227.4 24h0M200.1 26.4h0M239.1 22.9h0M207.4 26.4h0M257.3 23.1h0M210.5 27.4h0M222.5 28.7h0M202.3 26.1h0M232.6 30.2h0M224.2 23.3h0M224.1 23.5h0M243 25h0M210 24.8h0M271.4 25h0M257.5 26.7h0M244.4 29.5h0M256 28.4h0M224.4 25.1h0M201.8 26.4h0M201.4 26.9h0M224.6 25.2h0M222.9 28h0M231.6 24.3h0M228.3 29.9h0M241 30.6h0M200.9 27.1h0M213.5 24.2h0M215.2 23.9h0M215.1 29.2h0M217 29.2h0M221.1 23.6h0M225.1 23.3h0M224.9 30.1h0M236.7 23.1h0M266.3 48.4h0M271.2 48.3h0M279.6 47.2h0M280.1 46.4h0M260 49.5h0M265.6 45.7h0M263.9 50.6h0M272.9 44.7h0M265 49.3h0M257.4 50.1h0M241 42.2h0M297.8 46.4h0M240.8 41.4h0M283.9 46.4h0M277.8 67.1h0M275.6 67.3h0M259.9 65.5h0M273.1 67h0M281 66.7h0M279.5 66.4h0M257.4 65.2h0M279.3 66.4h0M271.2 66.2h0M260.5 68.7h0M272 67.5h0M257.1 68.9h0M277.8 67.2h0M253.1 69.6h0M275.8 66.1h0M273.8 66.4h0M273.9 66.9h0M261.2 67.9h0M261.8 65.1h0M271.1 66.6h0M248.3 70.2h0M258.9 66.1h0M269.2 67.8h0M274.8 67.3h0M276.5 66.9h0M274.6 66.7h0M277 66.5h0M260.4 65.4h0M265.8 65.2h0M267.8 65.7h0M268.1 68.1h0M273.9 67.5h0M278.3 67.2h0M288.5 66.8h0M291.2 66.8h0M294 66.8h0M209.6 87h0M209.6 86.7h0M218.4 87.8h0M197 86.9h0M204.2 87.4h0M210.2 86.2h0M221 87.2h0M204.8 87.3h0M211.8 87h0M199.1 86.9h0M214.1 87.6h0M219 85h0M206 86.9h0M209.8 86.2h0M205 86.5h0M198.2 86.9h0M212.8 87.1h0M201.4 86.2h0M201.2 87.6h0M202.9 86.3h0M203.1 87.4h0M206.4 87.7h0M208.2 86.3h0M208 87.7h0M210.2 86.3h0M210.3 87.6h0M218 89h0M273.5 107h0M283.1 107.2h0M285.7 107.3h0M276.6 106.9h0M271.5 107.9h0M279.2 107.5h0M285 107h0M286.2 106.9h0M270.2 106.9h0M263.2 105.8h0M277.4 107.5h0M278.5 106.3h0M282.1 107h0M278.2 106.3h0M279.1 106.9h0M259.2 106.5h0M282 107.4h0M275.9 106.1h0M266.9 107.9h0M273.2 107.5h0M276.4 107.6h0M277.9 107h0M270 108h0M272 107.9h0M269.8 107.4h0M269.8 106.5h0M276 106.4h0M251.6 107.8h0M278.5 107.2h0M273.6 106.1h0M279.8 107.7h0M284.8 107.3h0M211.8 127h0M224 126.6h0M214.6 127.3h0M220.9 126.3h0M218.5 127.4h0M211.8 126.7h0M219.7 127.8h0M212.8 127.4h0M218.6 127.6h0M213.6 126.4h0M213.3 127.6h0M215.4 126.6h0M217.7 126.3h0M217.6 127.4h0M221.7 126.1h0M194.2 127.1h0M196.8 127.1h0M274.8 147.5h0M265.3 147.5h0M279.2 147.6h0M263.7 146.6h0M256.2 147h0M277.4 147.5h0M268.3 147.2h0M255.8 147.7h0M246.5 149.2h0M276.2 146.7h0M276.7 147.4h0M256 148.2h0M265.1 147.4h0M264.6 146.7h0M277.4 147.6h0M266.2 146.6h0M262.2 146.4h0M270 146.6h0M276.6 147.1h0M263.7 146.5h0M263.8 148h0M265.6 146.2h0M267.3 147.8h0M271 146.8h0M270.6 147.5h0M272.7 147.8h0M274.8 146.7h0M229.1 168.4h0M236.7 162.1h0M232.5 166.2h0M232.7 164.8h0M221.8 186.8h0M225.3 187.7h0M221.5 187h0M216.8 187.7h0M216.5 187.1h0M219.8 186.8h0M231.4 187.3h0M218.4 187.2h0M219.6 186.8h0M221.4 187.7h0M223.3 187.6h0M227.7 186.5h0M244.1 205.5h0M250.9 208.2h0M255.4 207.2h0M257.4 207.2h0M253 208.4h0M255.4 206.8h0M247.8 211.6h0M247.7 212.4h0M225.1 227.4h0M263.4 247.3h0M256.9 247.7h0M262.9 247.2h0M260.9 247.7h0M265.6 247.9h0M259.1 247.5h0M263.4 247.2h0M259.3 247.4h0M254.8 248.1h0M254.6 248.1h0M256.5 247h0M256.2 248h0M258.4 248.2h0M259.9 247.3h0M267.9 268.1h0M263.5 267.7h0M253.3 267.1h0M260.8 268.1h0M252.1 268.1h0M265.1 267.4h0M270.9 267.3h0M253 268.1h0M269.5 267.9h0M264.2 267.9h0M249.2 266.8h0M272 267.9h0M266.2 267.2h0M273.4 268h0M249.9 267.2h0M256.8 267.2h0M267.7 268.1h0M244.8 268.3h0M244.3 271.2h0M255.6 268.2h0M251.7 268.3h0M253.7 268.1h0M257.9 268.4h0M262 267.1h0M261.8 268.4h0M264 268.2h0M268.2 268.1h0M278.6 267.7h0M281.5 267.7h0M284.4 267.7h0M286.8 267.7h0M239.8 287.2h0M232.2 288.1h0M239.8 287.6h0M224.6 288.3h0M233.2 287.6h0M228.8 287.3h0M220.3 287.6h0M223.7 287.4h0M240.2 288.1h0M223.6 288h0M239.6 288.3h0M220.3 288.2h0M224.5 287.4h0M236.3 287.8h0M239.2 287.6h0M236.4 288.2h0M230.3 287.3h0M225.7 287.4h0M226.2 288.4h0M227.4 287.5h0M227.7 288.1h0M230.1 287.3h0M229.7 288.4h0M232.2 287.1h0M232.2 288.1h0M233.9 287.3h0M233.7 288.2h0M235.8 287.5h0M235.5 288.2h0M237.8 287.1h0M238.1 288.1h0M239.6 287.1h0M239.6 288.3h0M253.9 307.2h0M253.9 307.6h0M254 307.6h0M254.1 308h0M261.6 308.1h0M258.8 328h0M246 327.5h0M262 328.1h0M252.1 327.3h0M258.9 328.4h0M250.9 328.1h0M249.4 328.1h0M253.9 327.4h0M248 327.2h0M259 328h0M259.8 328.3h0M249.6 328.4h0M255.6 327.8h0M257.6 328.2h0M248.6 328.6h0M257.7 328h0M250.7 328.6h0M255 327.2h0M263.2 347.9h0M253.6 348.2h0M257.1 347.6h0M258 348.6h0M259.4 348h0M231 348.4h0M230.4 348.2h0M236 347.3h0M253.8 347.9h0M237.7 346.8h0M253.8 348.3h0M257.4 348.3h0M259.4 347.8h0M259.3 348.8h0M229.5 368.4h0M236.3 367.8h0M239.6 367.9h0M236.2 368.4h0M245.8 368.5h0M246.6 368h0M237.2 368h0M238.8 368.4h0M229.3 367.7h0M245.3 367.9h0M239.9 368.2h0M238.8 368.1h0M236.4 368.3h0M246.2 368.3h0M238.9 368h0M238.8 368.4h0M245 367.9h0M393.5 22.8h0M387.2 26.1h0M386.2 24.3h0M392.3 27.8h0M395.6 23.7h0M388.6 26.8h0M393.9 23.6h0M386.2 24.9h0M403.3 24.3h0M388.7 26.9h0M387.6 24.8h0M390.9 27.6h0M395.6 27h0M391.7 22.4h0M410.7 25.4h0M388.2 27.1h0M387.1 23.4h0M387 26.6h0M391 21.8h0M391 28.1h0M392.5 21.6h0M392.6 28h0M394.8 22.3h0M404.8 28.2h0M408.4 29.5h0M407.3 44.6h0M400.2 46.5h0M397.5 45.8h0M403.6 39.2h0M407.7 106.5h0M403 130.8h0M401.4 144.5h0M444.8 25.3h0M449.2 23.3h0M442.7 22.8h0M453.5 46.6h0M465.4 45.5h0M461.2 41.3h0M465.3 44h0M453.9 45.3h0M452.8 46h0M445.4 109.4h0M447.5 128.6h0M490.1 23.6h0M490.1 27h0M488.9 19h0M485.6 43.8h0M493.1 46.4h0M472.4 65.6h0M474.7 63.6h0M478.9 64.6h0M477.2 64.2h0M487.7 108.9h0M493.3 145.8h0M491.6 142.6h0M533.2 28.4h0M536.8 45.9h0M525.9 45.9h0M540.4 44.8h0M527.1 43.7h0M529.5 42.6h0M540 44.9h0M535.4 67.5h0M545.8 85.9h0M578.9 26.6h0M578.4 22.6h0M578.6 23.5h0M573.5 20.7h0M579.2 23.2h0M575.6 44h0M574.1 43h0M575.6 39.7h0M560.3 105.9h0M577.9 126h0M576.6 142.7h0M614.9 26.3h0M615.2 22.7h0M614.3 26.1h0M663 22.3h0M665.1 24.6h0M661.7 19.7h0M662.8 42.6h0M662.3 48.1h0M655.7 144.5h0" stroke="#ff0051" stroke-width="2.5" stroke-linecap="round" fill="none"/><text x="64.2" y="30.7" font-size="9.1" textLength="12.8" lengthAdjust="spacingAndGlyphs" font-family='"Liberation Mono", monospace' fill="#333">Age</text><text x="64.2" y="50.8" font-size="9.1" textLength="12.8" lengthAdjust="spacingAndGlyphs" font-family='"Liberation Mono", monospace' fill="#333">BMI</text><text x="16" y="70.9" font-size="9.1" textLength="61" lengthAdjust="spacingAndGlyphs" font-family='"Liberation Mono", monospace' fill="#333">Cadmium, urine</text><text x="29.1" y="91" font-size="9.1" textLength="47.9" lengthAdjust="spacingAndGlyphs" font-family='"Liberation Mono", monospace' fill="#333">Lead, blood</text><text x="16" y="111.1" font-size="9.1" textLength="61" lengthAdjust="spacingAndGlyphs" font-family='"Liberation Mono", monospace' fill="#333">Cadmium, blood</text><text x="16" y="131.2" font-size="9.1" textLength="61" lengthAdjust="spacingAndGlyphs" font-family='"Liberation Mono", monospace' fill="#333">Mercury, blood</text><text x="20.4" y="151.2" font-size="9.1" textLength="56.6" lengthAdjust="spacingAndGlyphs" font-family='"Liberation Mono", monospace' fill="#333">Barium, urine</text><text x="64.2" y="171.3" font-size="9.1" textLength="12.8" lengthAdjust="spacingAndGlyphs" font-family='"Liberation Mono", monospace' fill="#333">PIR</text><text x="11.6" y="191.4" font-size="9.1" textLength="65.4" lengthAdjust="spacingAndGlyphs" font-family='"Liberation Mono", monospace' fill="#333">Thallium, urine</text><text x="33.5" y="211.5" font-size="9.1" textLength="43.5" lengthAdjust="spacingAndGlyphs" font-family='"Liberation Mono", monospace' fill="#333">Tin, urine</text><text x="7.2" y="231.6" font-size="9.1" textLength="69.8" lengthAdjust="spacingAndGlyphs" font-family='"Liberation Mono", monospace' fill="#333">Manganese, urine</text><text x="11.6" y="251.7" font-size="9.1" textLength="65.4" lengthAdjust="spacingAndGlyphs" font-family='"Liberation Mono", monospace' fill="#333">Antimony, urine</text><text x="29.1" y="271.8" font-size="9.1" textLength="47.9" lengthAdjust="spacingAndGlyphs" font-family='"Liberation Mono", monospace' fill="#333">Lead, urine</text><text x="20.4" y="291.9" font-size="9.1" textLength="56.6" lengthAdjust="spacingAndGlyphs" font-family='"Liberation Mono", monospace' fill="#333">Race/Hispanic</text><text x="11.6" y="312" font-size="9.1" textLength="65.4" lengthAdjust="spacingAndGlyphs" font-family='"Liberation Mono", monospace' fill="#333">Tungsten, urine</text><text x="11.6" y="332.1" font-size="9.1" textLength="65.4" lengthAdjust="spacingAndGlyphs" font-family='"Liberation Mono", monospace' fill="#333">Selenium, blood</text><text x="7.2" y="352.1" font-size="9.1" textLength="69.8" lengthAdjust="spacingAndGlyphs" font-family='"Liberation Mono", monospace' fill="#333">Manganese, blood</text><text x="11.6" y="372.2" font-size="9.1" textLength="65.4" lengthAdjust="spacingAndGlyphs" font-family='"Liberation Mono", monospace' fill="#333">Education level</text><line x1="94.2" y1="388.4" x2="323" y2="388.4" stroke="#333" stroke-width="1"/><line x1="108.9" y1="388.4" x2="108.9" y2="390.6" stroke="#333" stroke-width="0.8"/><text x="108.9" y="398.8" font-size="7.0" text-anchor="middle" textLength="18.6" lengthAdjust="spacingAndGlyphs" font-family='"Liberation Sans", sans-serif' fill="#333">−1.25</text><line x1="135.6" y1="388.4" x2="135.6" y2="390.6" stroke="#333" stroke-width="0.8"/><text x="135.6" y="398.8" font-size="7.0" text-anchor="middle" textLength="18.6" lengthAdjust="spacingAndGlyphs" font-family='"Liberation Sans", sans-serif' fill="#333">−1.00</text><line x1="162.3" y1="388.4" x2="162.3" y2="390.6" stroke="#333" stroke-width="0.8"/><text x="162.3" y="398.8" font-size="7.0" text-anchor="middle" textLength="18.6" lengthAdjust="spacingAndGlyphs" font-family='"Liberation Sans", sans-serif' fill="#333">−0.75</text><line x1="189.1" y1="388.4" x2="189.1" y2="390.6" stroke="#333" stroke-width="0.8"/><text x="189.1" y="398.8" font-size="7.0" text-anchor="middle" textLength="18.6" lengthAdjust="spacingAndGlyphs" font-family='"Liberation Sans", sans-serif' fill="#333">−0.50</text><line x1="215.8" y1="388.4" x2="215.8" y2="390.6" stroke="#333" stroke-width="0.8"/><text x="215.8" y="398.8" font-size="7.0" text-anchor="middle" textLength="18.6" lengthAdjust="spacingAndGlyphs" font-family='"Liberation Sans", sans-serif' fill="#333">−0.25</text><line x1="242.5" y1="388.4" x2="242.5" y2="390.6" stroke="#333" stroke-width="0.8"/><text x="242.5" y="398.8" font-size="7.0" text-anchor="middle" textLength="15" lengthAdjust="spacingAndGlyphs" font-family='"Liberation Sans", sans-serif' fill="#333">0.00</text><line x1="269.2" y1="388.4" x2="269.2" y2="390.6" stroke="#333" stroke-width="0.8"/><text x="269.2" y="398.8" font-size="7.0" text-anchor="middle" textLength="15" lengthAdjust="spacingAndGlyphs" font-family='"Liberation Sans", sans-serif' fill="#333">0.25</text><line x1="295.9" y1="388.4" x2="295.9" y2="390.6" stroke="#333" stroke-width="0.8"/><text x="295.9" y="398.8" font-size="7.0" text-anchor="middle" textLength="15" lengthAdjust="spacingAndGlyphs" font-family='"Liberation Sans", sans-serif' fill="#333">0.50</text><line x1="322.7" y1="388.4" x2="322.7" y2="390.6" stroke="#333" stroke-width="0.8"/><text x="322.7" y="398.8" font-size="7.0" text-anchor="middle" textLength="15" lengthAdjust="spacingAndGlyphs" font-family='"Liberation Sans", sans-serif' fill="#333">0.75</text><text x="131.2" y="409.3" font-size="8.9" textLength="153" lengthAdjust="spacingAndGlyphs" font-family='"Liberation Mono", monospace' fill="#111">SHAP value (impact on model output)</text><rect x="336.9" y="6.1" width="5" height="382" fill="url(#cbar)"/><text x="344.5" y="9.4" font-size="7.4" textLength="14.5" lengthAdjust="spacingAndGlyphs" font-family='"Liberation Sans", sans-serif' fill="#111">High</text><text x="344.9" y="392" font-size="7.4" textLength="10.5" lengthAdjust="spacingAndGlyphs" font-family='"Liberation Sans", sans-serif' fill="#111">Low</text><text x="0" y="0" font-size="8.6" text-anchor="middle" textLength="53" lengthAdjust="spacingAndGlyphs" font-family='"Liberation Mono", monospace' fill="#222" transform="translate(366.0,198.2) rotate(-90)">Feature value</text><path d="M0,16.5 H682" fill="none" stroke="#262626" stroke-width="1.3" stroke-dasharray="4.5 2.955" stroke-dashoffset="5.605"/><path d="M0,157 H682" fill="none" stroke="#262626" stroke-width="1.3" stroke-dasharray="4.4 3.044" stroke-dashoffset="6.988"/><path d="M2,15.9 V157" fill="none" stroke="#262626" stroke-width="1.3" stroke-dasharray="4.5 2.955" stroke-dashoffset="1.95"/><path d="M681.1,15.9 V157" fill="none" stroke="#262626" stroke-width="1.3" stroke-dasharray="4.5 2.955" stroke-dashoffset="1.85"/><text x="397.2" y="5.5" font-size="5.9" textLength="10.6" lengthAdjust="spacingAndGlyphs" font-weight="bold" font-family='"Liberation Serif", serif' fill="#000">AGE</text><text x="441.5" y="5.5" font-size="5.9" textLength="10.5" lengthAdjust="spacingAndGlyphs" font-weight="bold" font-family='"Liberation Serif", serif' fill="#000">BMI</text><text x="472.9" y="5.5" font-size="5.9" textLength="30.5" lengthAdjust="spacingAndGlyphs" font-weight="bold" font-family='"Liberation Serif", serif' fill="#000">Cobalt, urine</text><text x="519.5" y="5.5" font-size="5.9" textLength="26" lengthAdjust="spacingAndGlyphs" font-weight="bold" font-family='"Liberation Serif", serif' fill="#000">Lead, blood</text><text x="557.9" y="5.5" font-size="5.9" textLength="33.1" lengthAdjust="spacingAndGlyphs" font-weight="bold" font-family='"Liberation Serif", serif' fill="#000">Cadium, blood</text><text x="600.3" y="5.5" font-size="5.9" textLength="34.4" lengthAdjust="spacingAndGlyphs" font-weight="bold" font-family='"Liberation Serif", serif' fill="#000">Mercury, blood</text><text x="643" y="5.5" font-size="5.9" textLength="32.7" lengthAdjust="spacingAndGlyphs" font-weight="bold" font-family='"Liberation Serif", serif' fill="#000">Barium, blood</text><path d="M558,6.1 l0.9,0.6 l0.9,-0.6 l0.9,0.6 l0.9,-0.6 l0.9,0.6 l0.9,-0.6 l0.9,0.6 l0.9,-0.6 l0.9,0.6 l0.9,-0.6 l0.9,0.6 l0.9,-0.6 l0.9,0.6 l0.9,-0.6 l0.9,0.6 l0.9,-0.6 l0.9,0.6 l0.9,-0.6" fill="none" stroke="#d03030" stroke-width="0.5"/><line x1="384.1" y1="167.4" x2="423.1" y2="167.4" stroke="#777" stroke-width="0.7"/><line x1="387.6" y1="167.4" x2="387.6" y2="168.5" stroke="#555" stroke-width="0.5"/><line x1="403.6" y1="167.4" x2="403.6" y2="168.5" stroke="#555" stroke-width="0.5"/><line x1="419.6" y1="167.4" x2="419.6" y2="168.5" stroke="#555" stroke-width="0.5"/><text x="387.6" y="172.9" font-size="4.2" text-anchor="middle" textLength="9.3" lengthAdjust="spacingAndGlyphs" font-family='"Liberation Sans", sans-serif' fill="#222">−0.25</text><text x="403.6" y="172.9" font-size="4.2" text-anchor="middle" textLength="7.8" lengthAdjust="spacingAndGlyphs" font-family='"Liberation Sans", sans-serif' fill="#222">0.00</text><text x="419.6" y="172.9" font-size="4.2" text-anchor="middle" textLength="7.8" lengthAdjust="spacingAndGlyphs" font-family='"Liberation Sans", sans-serif' fill="#222">0.25</text><line x1="427.2" y1="167.4" x2="466.2" y2="167.4" stroke="#777" stroke-width="0.7"/><line x1="430.7" y1="167.4" x2="430.7" y2="168.5" stroke="#555" stroke-width="0.5"/><line x1="446.7" y1="167.4" x2="446.7" y2="168.5" stroke="#555" stroke-width="0.5"/><line x1="462.7" y1="167.4" x2="462.7" y2="168.5" stroke="#555" stroke-width="0.5"/><text x="430.7" y="172.9" font-size="4.2" text-anchor="middle" textLength="9.3" lengthAdjust="spacingAndGlyphs" font-family='"Liberation Sans", sans-serif' fill="#222">−0.25</text><text x="446.7" y="172.9" font-size="4.2" text-anchor="middle" textLength="7.8" lengthAdjust="spacingAndGlyphs" font-family='"Liberation Sans", sans-serif' fill="#222">0.00</text><text x="462.7" y="172.9" font-size="4.2" text-anchor="middle" textLength="7.8" lengthAdjust="spacingAndGlyphs" font-family='"Liberation Sans", sans-serif' fill="#222">0.25</text><line x1="470" y1="167.4" x2="509" y2="167.4" stroke="#777" stroke-width="0.7"/><line x1="473.5" y1="167.4" x2="473.5" y2="168.5" stroke="#555" stroke-width="0.5"/><line x1="489.5" y1="167.4" x2="489.5" y2="168.5" stroke="#555" stroke-width="0.5"/><line x1="505.5" y1="167.4" x2="505.5" y2="168.5" stroke="#555" stroke-width="0.5"/><text x="473.5" y="172.9" font-size="4.2" text-anchor="middle" textLength="9.3" lengthAdjust="spacingAndGlyphs" font-family='"Liberation Sans", sans-serif' fill="#222">−0.25</text><text x="489.5" y="172.9" font-size="4.2" text-anchor="middle" textLength="7.8" lengthAdjust="spacingAndGlyphs" font-family='"Liberation Sans", sans-serif' fill="#222">0.00</text><text x="505.5" y="172.9" font-size="4.2" text-anchor="middle" textLength="7.8" lengthAdjust="spacingAndGlyphs" font-family='"Liberation Sans", sans-serif' fill="#222">0.25</text><line x1="512.8" y1="167.4" x2="551.8" y2="167.4" stroke="#777" stroke-width="0.7"/><line x1="516.3" y1="167.4" x2="516.3" y2="168.5" stroke="#555" stroke-width="0.5"/><line x1="532.3" y1="167.4" x2="532.3" y2="168.5" stroke="#555" stroke-width="0.5"/><line x1="548.3" y1="167.4" x2="548.3" y2="168.5" stroke="#555" stroke-width="0.5"/><text x="516.3" y="172.9" font-size="4.2" text-anchor="middle" textLength="9.3" lengthAdjust="spacingAndGlyphs" font-family='"Liberation Sans", sans-serif' fill="#222">−0.25</text><text x="532.3" y="172.9" font-size="4.2" text-anchor="middle" textLength="7.8" lengthAdjust="spacingAndGlyphs" font-family='"Liberation Sans", sans-serif' fill="#222">0.00</text><text x="548.3" y="172.9" font-size="4.2" text-anchor="middle" textLength="7.8" lengthAdjust="spacingAndGlyphs" font-family='"Liberation Sans", sans-serif' fill="#222">0.25</text><line x1="555.8" y1="167.4" x2="594.8" y2="167.4" stroke="#777" stroke-width="0.7"/><line x1="559.3" y1="167.4" x2="559.3" y2="168.5" stroke="#555" stroke-width="0.5"/><line x1="575.3" y1="167.4" x2="575.3" y2="168.5" stroke="#555" stroke-width="0.5"/><line x1="591.3" y1="167.4" x2="591.3" y2="168.5" stroke="#555" stroke-width="0.5"/><text x="559.3" y="172.9" font-size="4.2" text-anchor="middle" textLength="9.3" lengthAdjust="spacingAndGlyphs" font-family='"Liberation Sans", sans-serif' fill="#222">−0.25</text><text x="575.3" y="172.9" font-size="4.2" text-anchor="middle" textLength="7.8" lengthAdjust="spacingAndGlyphs" font-family='"Liberation Sans", sans-serif' fill="#222">0.00</text><text x="591.3" y="172.9" font-size="4.2" text-anchor="middle" textLength="7.8" lengthAdjust="spacingAndGlyphs" font-family='"Liberation Sans", sans-serif' fill="#222">0.25</text><line x1="598.5" y1="167.4" x2="637.5" y2="167.4" stroke="#777" stroke-width="0.7"/><line x1="602" y1="167.4" x2="602" y2="168.5" stroke="#555" stroke-width="0.5"/><line x1="618" y1="167.4" x2="618" y2="168.5" stroke="#555" stroke-width="0.5"/><line x1="634" y1="167.4" x2="634" y2="168.5" stroke="#555" stroke-width="0.5"/><text x="602" y="172.9" font-size="4.2" text-anchor="middle" textLength="9.3" lengthAdjust="spacingAndGlyphs" font-family='"Liberation Sans", sans-serif' fill="#222">−0.25</text><text x="618" y="172.9" font-size="4.2" text-anchor="middle" textLength="7.8" lengthAdjust="spacingAndGlyphs" font-family='"Liberation Sans", sans-serif' fill="#222">0.00</text><text x="634" y="172.9" font-size="4.2" text-anchor="middle" textLength="7.8" lengthAdjust="spacingAndGlyphs" font-family='"Liberation Sans", sans-serif' fill="#222">0.25</text><line x1="641.3" y1="167.4" x2="680.3" y2="167.4" stroke="#777" stroke-width="0.7"/><line x1="644.8" y1="167.4" x2="644.8" y2="168.5" stroke="#555" stroke-width="0.5"/><line x1="660.8" y1="167.4" x2="660.8" y2="168.5" stroke="#555" stroke-width="0.5"/><line x1="676.8" y1="167.4" x2="676.8" y2="168.5" stroke="#555" stroke-width="0.5"/><text x="644.8" y="172.9" font-size="4.2" text-anchor="middle" textLength="9.3" lengthAdjust="spacingAndGlyphs" font-family='"Liberation Sans", sans-serif' fill="#222">−0.25</text><text x="660.8" y="172.9" font-size="4.2" text-anchor="middle" textLength="7.8" lengthAdjust="spacingAndGlyphs" font-family='"Liberation Sans", sans-serif' fill="#222">0.00</text><text x="676.8" y="172.9" font-size="4.2" text-anchor="middle" textLength="7.8" lengthAdjust="spacingAndGlyphs" font-family='"Liberation Sans", sans-serif' fill="#222">0.25</text><text x="504" y="176.6" font-size="3.8" textLength="10.5" lengthAdjust="spacingAndGlyphs" font-weight="bold" font-family='"Liberation Sans", sans-serif' fill="#333">shaab</text><text x="517.5" y="176.8" font-size="3.8" textLength="45" lengthAdjust="spacingAndGlyphs" font-family='"Liberation Mono", monospace' fill="#bbb">Tamxxxxxxx  Fan  xxfxx</text><text x="429.1" y="181.6" font-size="3.6" textLength="10.6" lengthAdjust="spacingAndGlyphs" font-family='"Liberation Sans", sans-serif' fill="#ff0d57">higher</text><text x="448.8" y="181.6" font-size="3.6" textLength="7.3" lengthAdjust="spacingAndGlyphs" font-family='"Liberation Sans", sans-serif' fill="#1e88e5">lower</text><path d="M443.2,179.4h2.6m-0.8,-0.7l0.8,0.7M445.8,181h-2.6m0.8,0.7l-0.8,-0.7" stroke="#c94a8a" stroke-width="0.5" fill="none"/><text x="444" y="186.4" font-size="3.8" text-anchor="middle" textLength="6.2" lengthAdjust="spacingAndGlyphs" font-family='"Liberation Sans", sans-serif' fill="#999">f(x)</text><text x="444" y="191.2" font-size="4.5" text-anchor="middle" textLength="9" lengthAdjust="spacingAndGlyphs" font-weight="bold" font-family='"Liberation Sans", sans-serif' fill="#111">−5.04</text><text x="640.2" y="186.5" font-size="3.6" text-anchor="middle" textLength="16.5" lengthAdjust="spacingAndGlyphs" font-family='"Liberation Sans", sans-serif' fill="#999">base value</text><line x1="640.1" y1="190.5" x2="640.1" y2="196.4" stroke="#ccc" stroke-width="0.6"/><line x1="385" y1="196.4" x2="683" y2="196.4" stroke="#888" stroke-width="0.8"/><line x1="414.9" y1="195.4" x2="414.9" y2="196.4" stroke="#777" stroke-width="0.6"/><text x="414.9" y="195.2" font-size="4.3" text-anchor="middle" textLength="9" lengthAdjust="spacingAndGlyphs" font-family='"Liberation Sans", sans-serif' fill="#222">−5.25</text><line x1="445.1" y1="195.4" x2="445.1" y2="196.4" stroke="#777" stroke-width="0.6"/><text x="445.1" y="195.2" font-size="4.3" text-anchor="middle" textLength="9" lengthAdjust="spacingAndGlyphs" font-family='"Liberation Sans", sans-serif' fill="#222">−5.00</text><line x1="475.4" y1="195.4" x2="475.4" y2="196.4" stroke="#777" stroke-width="0.6"/><text x="475.4" y="195.2" font-size="4.3" text-anchor="middle" textLength="9" lengthAdjust="spacingAndGlyphs" font-family='"Liberation Sans", sans-serif' fill="#222">−4.75</text><line x1="505.6" y1="195.4" x2="505.6" y2="196.4" stroke="#777" stroke-width="0.6"/><text x="505.6" y="195.2" font-size="4.3" text-anchor="middle" textLength="9" lengthAdjust="spacingAndGlyphs" font-family='"Liberation Sans", sans-serif' fill="#222">−4.50</text><line x1="535.9" y1="195.4" x2="535.9" y2="196.4" stroke="#777" stroke-width="0.6"/><text x="535.9" y="195.2" font-size="4.3" text-anchor="middle" textLength="9" lengthAdjust="spacingAndGlyphs" font-family='"Liberation Sans", sans-serif' fill="#222">−4.25</text><line x1="566.1" y1="195.4" x2="566.1" y2="196.4" stroke="#777" stroke-width="0.6"/><text x="566.1" y="195.2" font-size="4.3" text-anchor="middle" textLength="9" lengthAdjust="spacingAndGlyphs" font-family='"Liberation Sans", sans-serif' fill="#222">−4.00</text><line x1="596.3" y1="195.4" x2="596.3" y2="196.4" stroke="#777" stroke-width="0.6"/><text x="596.3" y="195.2" font-size="4.3" text-anchor="middle" textLength="9" lengthAdjust="spacingAndGlyphs" font-family='"Liberation Sans", sans-serif' fill="#222">−3.75</text><line x1="626.6" y1="195.4" x2="626.6" y2="196.4" stroke="#777" stroke-width="0.6"/><text x="626.6" y="195.2" font-size="4.3" text-anchor="middle" textLength="9" lengthAdjust="spacingAndGlyphs" font-family='"Liberation Sans", sans-serif' fill="#222">−3.50</text><line x1="656.8" y1="195.4" x2="656.8" y2="196.4" stroke="#777" stroke-width="0.6"/><text x="656.8" y="195.2" font-size="4.3" text-anchor="middle" textLength="9" lengthAdjust="spacingAndGlyphs" font-family='"Liberation Sans", sans-serif' fill="#222">−3.25</text><path d="M420.5,205.6 L444.2,205.6 L444.2,217 L385,217 L385,210 Z" fill="url(#fpr)"/><path d="M444.8,205.6 L664,205.6 L681,209 L681,217 L444.8,217 Z" fill="url(#fpb)"/><line x1="444.4" y1="205.6" x2="444.4" y2="217.5" stroke="#f7a8be" stroke-width="0.6"/><line x1="571" y1="205.6" x2="571" y2="217" stroke="#9cc6ee" stroke-width="0.5"/><path d="M608.2,205.6 L617.2,212 L617.2,217" stroke="#9cc6ee" stroke-width="0.5" fill="none"/><path d="M664,205.6 L681,209.3 L681,217" stroke="#b5d5f2" stroke-width="0.5" fill="none"/><path d="M385,217 V210.5" stroke="#f7a8be" stroke-width="0.5" fill="none"/><rect x="420.5" y="199.7" width="23.6" height="5.9" fill="#ff0d57"/><rect x="444.9" y="199.7" width="219.1" height="5.9" fill="#1e88e5"/><rect x="420.5" y="199.7" width="11" height="5.9" fill="#ff5d8a" opacity="0.6"/><path d="M422.5,199.9 l1.3,2.85 l-1.3,2.85" stroke="#fff" stroke-width="0.6" fill="none"/><path d="M425,199.9 l1.3,2.85 l-1.3,2.85" stroke="#fff" stroke-width="0.6" fill="none"/><path d="M427.6,199.9 l1.3,2.85 l-1.3,2.85" stroke="#fff" stroke-width="0.6" fill="none"/><path d="M430.2,199.9 l1.3,2.85 l-1.3,2.85" stroke="#fff" stroke-width="0.6" fill="none"/><path d="M571.8,199.8 l-1.3,2.85 l1.3,2.85" stroke="#fff" stroke-width="0.7" fill="none"/><path d="M608.9,199.8 l-1.3,2.85 l1.3,2.85" stroke="#fff" stroke-width="0.7" fill="none"/><path d="M640.4,199.8 l-1.3,2.85 l1.3,2.85" stroke="#fff" stroke-width="0.7" fill="none"/><path d="M646.8,199.8 l-1.3,2.85 l1.3,2.85" stroke="#fff" stroke-width="0.7" fill="none"/><path d="M651.7,199.8 l-1.3,2.85 l1.3,2.85" stroke="#fff" stroke-width="0.7" fill="none"/><path d="M654.9,199.8 l-1.3,2.85 l1.3,2.85" stroke="#fff" stroke-width="0.7" fill="none"/><path d="M657.5,199.8 l-1.3,2.85 l1.3,2.85" stroke="#fff" stroke-width="0.7" fill="none"/><path d="M659.7,199.8 l-1.3,2.85 l1.3,2.85" stroke="#fff" stroke-width="0.7" fill="none"/><path d="M661.8,199.8 l-1.3,2.85 l1.3,2.85" stroke="#fff" stroke-width="0.7" fill="none"/><path d="M663.5,199.8 l-1.3,2.85 l1.3,2.85" stroke="#fff" stroke-width="0.7" fill="none"/><text x="386.8" y="214.6" font-size="3.4" textLength="53" lengthAdjust="spacingAndGlyphs" font-family='"Liberation Sans", sans-serif' fill="#ff0d57">Lead, blood = −0.7548484538990185</text><text x="447.9" y="214.4" font-size="3.4" textLength="40.3" lengthAdjust="spacingAndGlyphs" font-family='"Liberation Sans", sans-serif' fill="#1e88e5">Age = −1.0917205050860252</text><text x="575.6" y="214.6" font-size="3.4" textLength="38.5" lengthAdjust="spacingAndGlyphs" font-family='"Liberation Sans", sans-serif' fill="#1e88e5">BMI = −1.3790371623679</text><text x="621.2" y="214.4" font-size="3.4" textLength="57.6" lengthAdjust="spacingAndGlyphs" font-family='"Liberation Sans", sans-serif' fill="#1e88e5">Cadmium, urine = −0.6095155456220</text><text x="514.3" y="229.4" font-size="10.6" textLength="164.1" lengthAdjust="spacingAndGlyphs" font-family='"Liberation Mono", monospace' fill="#111">Local explanation for class 1</text><clipPath id="limeclip"><rect x="371.3" y="230" width="150" height="160"/></clipPath><line x1="513.3" y1="243.2" x2="515.3" y2="243.2" stroke="#333" stroke-width="0.7"/><rect x="522.9" y="240.1" width="89.4" height="6.1" fill="#ff0000"/><line x1="513.3" y1="250.9" x2="515.3" y2="250.9" stroke="#333" stroke-width="0.7"/><rect x="612.3" y="247.8" width="59.6" height="6.1" fill="#008000"/><line x1="513.3" y1="258.5" x2="515.3" y2="258.5" stroke="#333" stroke-width="0.7"/><rect x="555.2" y="255.4" width="57.1" height="6.1" fill="#ff0000"/><line x1="513.3" y1="266.2" x2="515.3" y2="266.2" stroke="#333" stroke-width="0.7"/><rect x="564.1" y="263.1" width="48.2" height="6.1" fill="#ff0000"/><line x1="513.3" y1="273.8" x2="515.3" y2="273.8" stroke="#333" stroke-width="0.7"/><rect x="612.3" y="270.7" width="40.7" height="6.1" fill="#008000"/><line x1="513.3" y1="281.5" x2="515.3" y2="281.5" stroke="#333" stroke-width="0.7"/><rect x="612.3" y="278.4" width="29.8" height="6.1" fill="#008000"/><line x1="513.3" y1="289.2" x2="515.3" y2="289.2" stroke="#333" stroke-width="0.7"/><rect x="586.2" y="286.1" width="26.1" height="6.1" fill="#ff0000"/><line x1="513.3" y1="296.8" x2="515.3" y2="296.8" stroke="#333" stroke-width="0.7"/><rect x="589" y="293.7" width="23.3" height="6.1" fill="#ff0000"/><line x1="513.3" y1="304.5" x2="515.3" y2="304.5" stroke="#333" stroke-width="0.7"/><rect x="612.3" y="301.4" width="22.5" height="6.1" fill="#008000"/><line x1="513.3" y1="312.1" x2="515.3" y2="312.1" stroke="#333" stroke-width="0.7"/><rect x="602" y="309" width="10.3" height="6.1" fill="#ff0000"/><line x1="513.3" y1="319.8" x2="515.3" y2="319.8" stroke="#333" stroke-width="0.7"/><rect x="612.3" y="316.7" width="10.1" height="6.1" fill="#008000"/><line x1="513.3" y1="327.5" x2="515.3" y2="327.5" stroke="#333" stroke-width="0.7"/><rect x="602.8" y="324.4" width="9.5" height="6.1" fill="#ff0000"/><line x1="513.3" y1="335.1" x2="515.3" y2="335.1" stroke="#333" stroke-width="0.7"/><rect x="604.8" y="332" width="7.5" height="6.1" fill="#ff0000"/><line x1="513.3" y1="342.8" x2="515.3" y2="342.8" stroke="#333" stroke-width="0.7"/><rect x="605.1" y="339.7" width="7.2" height="6.1" fill="#ff0000"/><line x1="513.3" y1="350.4" x2="515.3" y2="350.4" stroke="#333" stroke-width="0.7"/><rect x="612.3" y="347.3" width="4.9" height="6.1" fill="#008000"/><line x1="513.3" y1="358.1" x2="515.3" y2="358.1" stroke="#333" stroke-width="0.7"/><rect x="608.2" y="355" width="4.1" height="6.1" fill="#ff0000"/><line x1="513.3" y1="365.8" x2="515.3" y2="365.8" stroke="#333" stroke-width="0.7"/><rect x="612.3" y="362.7" width="2.4" height="6.1" fill="#008000"/><line x1="513.3" y1="373.4" x2="515.3" y2="373.4" stroke="#333" stroke-width="0.7"/><g clip-path="url(#limeclip)"><text x="453" y="246.4" font-size="9.3" textLength="27.9" lengthAdjust="spacingAndGlyphs" font-family='"Liberation Mono", monospace' fill="#000">Age &lt;=</text><text x="486.3" y="246.4" font-size="8.6" textLength="23" lengthAdjust="spacingAndGlyphs" font-family='"Liberation Sans", sans-serif' fill="#000">−0.75</text><text x="415.2" y="254.1" font-size="9.3" textLength="65.7" lengthAdjust="spacingAndGlyphs" font-family='"Liberation Mono", monospace' fill="#000">Lead, blood &lt;=</text><text x="486.3" y="254.1" font-size="8.6" textLength="23" lengthAdjust="spacingAndGlyphs" font-family='"Liberation Sans", sans-serif' fill="#000">−0.54</text><text x="453" y="261.7" font-size="9.3" textLength="27.9" lengthAdjust="spacingAndGlyphs" font-family='"Liberation Mono", monospace' fill="#000">BMI &lt;=</text><text x="486.3" y="261.7" font-size="8.6" textLength="23" lengthAdjust="spacingAndGlyphs" font-family='"Liberation Sans", sans-serif' fill="#000">−0.67</text><text x="401" y="269.4" font-size="9.3" textLength="79.8" lengthAdjust="spacingAndGlyphs" font-family='"Liberation Mono", monospace' fill="#000">Cadmium, urine &lt;=</text><text x="486.3" y="269.4" font-size="8.6" textLength="23" lengthAdjust="spacingAndGlyphs" font-family='"Liberation Sans", sans-serif' fill="#000">−0.57</text><text x="405.8" y="277" font-size="9.3" textLength="75.1" lengthAdjust="spacingAndGlyphs" font-family='"Liberation Mono", monospace' fill="#000">Race/Hispanic &lt;=</text><text x="486.3" y="277" font-size="8.6" textLength="23" lengthAdjust="spacingAndGlyphs" font-family='"Liberation Sans", sans-serif' fill="#000">−0.39</text><text x="401" y="284.7" font-size="9.3" textLength="79.8" lengthAdjust="spacingAndGlyphs" font-family='"Liberation Mono", monospace' fill="#000">Mercury, blood &lt;=</text><text x="486.3" y="284.7" font-size="8.6" textLength="23" lengthAdjust="spacingAndGlyphs" font-family='"Liberation Sans", sans-serif' fill="#000">−0.41</text><text x="358.9" y="292.4" font-size="8.6" textLength="23" lengthAdjust="spacingAndGlyphs" font-family='"Liberation Sans", sans-serif' fill="#000">−0.26</text><text x="386.9" y="292.4" font-size="9.3" textLength="98.7" lengthAdjust="spacingAndGlyphs" font-family='"Liberation Mono", monospace' fill="#000">&lt; Manganese, urine &lt;=</text><text x="491" y="292.4" font-size="8.6" textLength="18.3" lengthAdjust="spacingAndGlyphs" font-family='"Liberation Sans", sans-serif' fill="#000">0.32</text><text x="462.4" y="300" font-size="9.3" textLength="23.2" lengthAdjust="spacingAndGlyphs" font-family='"Liberation Mono", monospace' fill="#000">PIR &gt;</text><text x="491" y="300" font-size="8.6" textLength="18.3" lengthAdjust="spacingAndGlyphs" font-family='"Liberation Sans", sans-serif' fill="#000">0.73</text><text x="396.3" y="307.7" font-size="9.3" textLength="84.6" lengthAdjust="spacingAndGlyphs" font-family='"Liberation Mono", monospace' fill="#000">Thallium, urine &lt;=</text><text x="486.3" y="307.7" font-size="8.6" textLength="23" lengthAdjust="spacingAndGlyphs" font-family='"Liberation Sans", sans-serif' fill="#000">−0.64</text><text x="358.9" y="315.3" font-size="8.6" textLength="23" lengthAdjust="spacingAndGlyphs" font-family='"Liberation Sans", sans-serif' fill="#000">−0.26</text><text x="386.9" y="315.3" font-size="9.3" textLength="94" lengthAdjust="spacingAndGlyphs" font-family='"Liberation Mono", monospace' fill="#000">&lt; Antimony, urine &lt;=</text><text x="486.3" y="315.3" font-size="8.6" textLength="23" lengthAdjust="spacingAndGlyphs" font-family='"Liberation Sans", sans-serif' fill="#000">−0.15</text><text x="396.3" y="323" font-size="9.3" textLength="84.6" lengthAdjust="spacingAndGlyphs" font-family='"Liberation Mono", monospace' fill="#000">Education level &lt;=</text><text x="486.3" y="323" font-size="8.6" textLength="23" lengthAdjust="spacingAndGlyphs" font-family='"Liberation Sans", sans-serif' fill="#000">−0.31</text><text x="382.5" y="330.7" font-size="8.6" textLength="23" lengthAdjust="spacingAndGlyphs" font-family='"Liberation Sans", sans-serif' fill="#000">−0.30</text><text x="410.5" y="330.7" font-size="9.3" textLength="70.4" lengthAdjust="spacingAndGlyphs" font-family='"Liberation Mono", monospace' fill="#000">&lt; Tin, urine &lt;=</text><text x="486.3" y="330.7" font-size="8.6" textLength="23" lengthAdjust="spacingAndGlyphs" font-family='"Liberation Sans", sans-serif' fill="#000">−0.23</text><text x="373" y="338.3" font-size="8.6" textLength="23" lengthAdjust="spacingAndGlyphs" font-family='"Liberation Sans", sans-serif' fill="#000">−0.27</text><text x="401" y="338.3" font-size="9.3" textLength="84.6" lengthAdjust="spacingAndGlyphs" font-family='"Liberation Mono", monospace' fill="#000">&lt; Barium, urine &lt;=</text><text x="491" y="338.3" font-size="8.6" textLength="18.3" lengthAdjust="spacingAndGlyphs" font-family='"Liberation Sans", sans-serif' fill="#000">0.12</text><text x="358.9" y="346" font-size="8.6" textLength="23" lengthAdjust="spacingAndGlyphs" font-family='"Liberation Sans", sans-serif' fill="#000">−0.64</text><text x="386.9" y="346" font-size="9.3" textLength="94" lengthAdjust="spacingAndGlyphs" font-family='"Liberation Mono", monospace' fill="#000">&lt; Selenium, blood &lt;=</text><text x="486.3" y="346" font-size="8.6" textLength="23" lengthAdjust="spacingAndGlyphs" font-family='"Liberation Sans", sans-serif' fill="#000">−0.08</text><text x="358.9" y="353.6" font-size="8.6" textLength="23" lengthAdjust="spacingAndGlyphs" font-family='"Liberation Sans", sans-serif' fill="#000">−0.17</text><text x="386.9" y="353.6" font-size="9.3" textLength="98.7" lengthAdjust="spacingAndGlyphs" font-family='"Liberation Mono", monospace' fill="#000">&lt; Manganese, blood &lt;=</text><text x="491" y="353.6" font-size="8.6" textLength="18.3" lengthAdjust="spacingAndGlyphs" font-family='"Liberation Sans", sans-serif' fill="#000">0.48</text><text x="363.6" y="361.3" font-size="8.6" textLength="23" lengthAdjust="spacingAndGlyphs" font-family='"Liberation Sans", sans-serif' fill="#000">−0.16</text><text x="391.6" y="361.3" font-size="9.3" textLength="94" lengthAdjust="spacingAndGlyphs" font-family='"Liberation Mono", monospace' fill="#000">&lt; Tungsten, urine &lt;=</text><text x="491" y="361.3" font-size="8.6" textLength="18.3" lengthAdjust="spacingAndGlyphs" font-family='"Liberation Sans", sans-serif' fill="#000">0.01</text><text x="401" y="369" font-size="9.3" textLength="79.8" lengthAdjust="spacingAndGlyphs" font-family='"Liberation Mono", monospace' fill="#000">Cadmium, blood &lt;=</text><text x="486.3" y="369" font-size="8.6" textLength="23" lengthAdjust="spacingAndGlyphs" font-family='"Liberation Sans", sans-serif' fill="#000">−0.52</text><text x="415.2" y="376.6" font-size="9.3" textLength="65.7" lengthAdjust="spacingAndGlyphs" font-family='"Liberation Mono", monospace' fill="#000">Lead, urine &lt;=</text><text x="486.3" y="376.6" font-size="8.6" textLength="23" lengthAdjust="spacingAndGlyphs" font-family='"Liberation Sans", sans-serif' fill="#000">−0.49</text></g><rect x="515.3" y="233.2" width="164.1" height="150.3" fill="none" stroke="#333" stroke-width="0.9"/><line x1="527.5" y1="383.5" x2="527.5" y2="385.4" stroke="#333" stroke-width="0.7"/><text x="527.5" y="395.4" font-size="8.6" text-anchor="middle" textLength="27.6" lengthAdjust="spacingAndGlyphs" font-family='"Liberation Sans", sans-serif' fill="#111">−0.010</text><line x1="570" y1="383.5" x2="570" y2="385.4" stroke="#333" stroke-width="0.7"/><text x="570" y="395.4" font-size="8.6" text-anchor="middle" textLength="27.6" lengthAdjust="spacingAndGlyphs" font-family='"Liberation Sans", sans-serif' fill="#111">−0.005</text><line x1="612.3" y1="383.5" x2="612.3" y2="385.4" stroke="#333" stroke-width="0.7"/><text x="612.3" y="395.4" font-size="8.6" text-anchor="middle" textLength="22.5" lengthAdjust="spacingAndGlyphs" font-family='"Liberation Sans", sans-serif' fill="#111">0.000</text><line x1="655.1" y1="383.5" x2="655.1" y2="385.4" stroke="#333" stroke-width="0.7"/><text x="655.1" y="395.4" font-size="8.6" text-anchor="middle" textLength="22.5" lengthAdjust="spacingAndGlyphs" font-family='"Liberation Sans", sans-serif' fill="#111">0.005</text><text x="440.4" y="409.5" font-size="8.6" textLength="19.1" lengthAdjust="spacingAndGlyphs" font-weight="bold" font-family='"Liberation Serif", serif' fill="#111">LIME</text><text x="466.4" y="409.5" font-size="8.6" textLength="16.1" lengthAdjust="spacingAndGlyphs" font-weight="bold" font-family='"Liberation Serif", serif' fill="#111">value</text><text x="488.6" y="409.5" font-size="8.6" textLength="9.2" lengthAdjust="spacingAndGlyphs" font-weight="bold" font-family='"Liberation Serif", serif' fill="#111">(Xi</text><text x="502.4" y="409.5" font-size="8.6" textLength="3.9" lengthAdjust="spacingAndGlyphs" font-weight="bold" font-family='"Liberation Serif", serif' fill="#111">=</text><text x="513.9" y="409.5" font-size="8.6" textLength="19.2" lengthAdjust="spacingAndGlyphs" font-weight="bold" font-family='"Liberation Serif", serif' fill="#111">14000)</text></svg>
</body></html>
